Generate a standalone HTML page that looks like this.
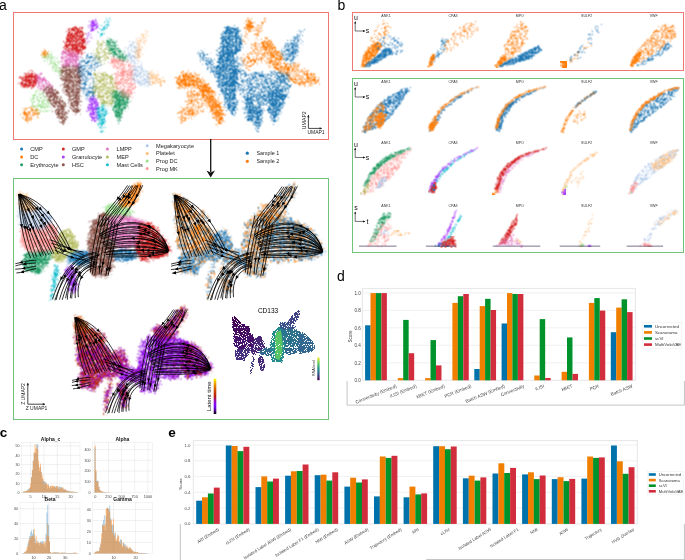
<!DOCTYPE html><html><head><meta charset="utf-8"><style>html,body{margin:0;padding:0;background:#fff;overflow:hidden}svg{display:block}text{opacity:.999}</style></head><body><svg width="685" height="560" viewBox="0 0 685 560" font-family="Liberation Sans, sans-serif"><rect width="685" height="560" fill="#fff"/><text x="-1" y="10" font-size="14" fill="#000">a</text><text x="337.5" y="10" font-size="14" fill="#000">b</text><text x="337" y="281" font-size="14" fill="#000">d</text><text x="-0.2" y="437.2" font-size="13.5" fill="#000" font-weight="bold">c</text><text x="168.2" y="437.2" font-size="13.5" fill="#000" font-weight="bold">e</text><rect x="13.5" y="12.5" width="315" height="127" fill="none" stroke="#f07873" stroke-width="1"/><rect x="13.5" y="178.5" width="315" height="241" fill="none" stroke="#6ec378" stroke-width="1"/><rect x="352.5" y="12.5" width="331" height="58" fill="none" stroke="#f07873" stroke-width="1"/><rect x="352.5" y="78.5" width="331" height="174" fill="none" stroke="#6ec378" stroke-width="1"/><line x1="210.7" y1="139" x2="210.7" y2="172" stroke="#111" stroke-width="1.3"/><path d="M206.5 170.5 L210.7 177.5 L214.9 170.5 L210.7 172.5Z" fill="#111"/><path d="M347.1 381 V405.1 H684.4 V381" fill="none" stroke="#c4c4c4" stroke-width="1"/><path d="M180.3 524 V560 M426.3 559.5 H685" fill="none" stroke="#c4c4c4" stroke-width="1"/><line x1="684.4" y1="524" x2="684.4" y2="560" stroke="#c4c4c4" stroke-width="1"/><rect x="362.4" y="288.4" width="273" height="91.9" fill="#fff" stroke="#e6e6e6" stroke-width="1"/><line x1="362.4" x2="635.4" y1="362.8" y2="362.8" stroke="#ececec" stroke-width="0.8"/><line x1="362.4" x2="635.4" y1="345.3" y2="345.3" stroke="#ececec" stroke-width="0.8"/><line x1="362.4" x2="635.4" y1="327.8" y2="327.8" stroke="#ececec" stroke-width="0.8"/><line x1="362.4" x2="635.4" y1="310.3" y2="310.3" stroke="#ececec" stroke-width="0.8"/><line x1="362.4" x2="635.4" y1="292.8" y2="292.8" stroke="#ececec" stroke-width="0.8"/><rect x="365.1" y="325.3" width="5.47" height="55" fill="#0072ab"/><rect x="370.5" y="293.1" width="5.47" height="87.2" fill="#f07f00"/><rect x="375.9" y="293.1" width="5.47" height="87.2" fill="#00922b"/><rect x="381.4" y="293.1" width="5.47" height="87.2" fill="#d22d3c"/><rect x="397.8" y="378.1" width="5.47" height="2.2" fill="#f07f00"/><rect x="403.2" y="319.9" width="5.47" height="60.4" fill="#00922b"/><rect x="408.7" y="353.2" width="5.47" height="27.1" fill="#d22d3c"/><rect x="425.1" y="378.1" width="5.47" height="2.2" fill="#f07f00"/><rect x="430.5" y="340.1" width="5.47" height="40.2" fill="#00922b"/><rect x="436" y="365.4" width="5.47" height="14.9" fill="#d22d3c"/><rect x="452.4" y="302.9" width="5.47" height="77.4" fill="#f07f00"/><rect x="457.8" y="296.2" width="5.47" height="84.1" fill="#00922b"/><rect x="463.3" y="294" width="5.47" height="86.3" fill="#d22d3c"/><rect x="474.3" y="369" width="5.47" height="11.3" fill="#0072ab"/><rect x="479.7" y="306.1" width="5.47" height="74.2" fill="#f07f00"/><rect x="485.1" y="298.8" width="5.47" height="81.6" fill="#00922b"/><rect x="490.6" y="310" width="5.47" height="70.3" fill="#d22d3c"/><rect x="501.6" y="323.5" width="5.47" height="56.8" fill="#0072ab"/><rect x="507" y="293.1" width="5.47" height="87.2" fill="#f07f00"/><rect x="512.4" y="294" width="5.47" height="86.3" fill="#00922b"/><rect x="517.9" y="294" width="5.47" height="86.3" fill="#d22d3c"/><rect x="534.3" y="375.5" width="5.47" height="4.8" fill="#f07f00"/><rect x="539.7" y="319.1" width="5.47" height="61.2" fill="#00922b"/><rect x="545.2" y="378" width="5.47" height="2.3" fill="#d22d3c"/><rect x="561.6" y="371.8" width="5.47" height="8.5" fill="#f07f00"/><rect x="567" y="337.4" width="5.47" height="42.9" fill="#00922b"/><rect x="572.5" y="373.9" width="5.47" height="6.4" fill="#d22d3c"/><rect x="588.9" y="302.9" width="5.47" height="77.4" fill="#f07f00"/><rect x="594.3" y="298.1" width="5.47" height="82.2" fill="#00922b"/><rect x="599.8" y="310.6" width="5.47" height="69.7" fill="#d22d3c"/><rect x="610.8" y="332.2" width="5.47" height="48.1" fill="#0072ab"/><rect x="616.2" y="307.6" width="5.47" height="72.7" fill="#f07f00"/><rect x="621.6" y="299.3" width="5.47" height="81" fill="#00922b"/><rect x="627.1" y="312.1" width="5.47" height="68.2" fill="#d22d3c"/><text x="360.8" y="382" font-size="4.6" fill="#444" text-anchor="end">0.0</text><text x="360.8" y="364.5" font-size="4.6" fill="#444" text-anchor="end">0.2</text><text x="360.8" y="347" font-size="4.6" fill="#444" text-anchor="end">0.4</text><text x="360.8" y="329.5" font-size="4.6" fill="#444" text-anchor="end">0.6</text><text x="360.8" y="312" font-size="4.6" fill="#444" text-anchor="end">0.8</text><text x="360.8" y="294.5" font-size="4.6" fill="#444" text-anchor="end">1.0</text><text x="351.5" y="336.5" font-size="4.6" fill="#333" text-anchor="middle" transform="rotate(-90 351.5 336.5)">Score</text><text x="375.9" y="395.6" font-size="4.6" fill="#444" text-anchor="middle" transform="rotate(-22 375.9 393.8)">Connectivity (Embed)</text><text x="403.2" y="392.6" font-size="4.6" fill="#444" text-anchor="middle" transform="rotate(-22 403.2 390.9)">iLISI (Embed)</text><text x="430.5" y="393" font-size="4.6" fill="#444" text-anchor="middle" transform="rotate(-22 430.5 391.2)">kBET (Embed)</text><text x="457.8" y="392.7" font-size="4.6" fill="#444" text-anchor="middle" transform="rotate(-22 457.8 391)">PCR (Embed)</text><text x="485.1" y="395.2" font-size="4.6" fill="#444" text-anchor="middle" transform="rotate(-22 485.1 393.5)">Batch ASW (Embed)</text><text x="512.4" y="392" font-size="4.6" fill="#444" text-anchor="middle" transform="rotate(-22 512.4 390.3)">Connectivity</text><text x="539.7" y="389" font-size="4.6" fill="#444" text-anchor="middle" transform="rotate(-22 539.7 387.3)">iLISI</text><text x="567" y="389.4" font-size="4.6" fill="#444" text-anchor="middle" transform="rotate(-22 567 387.7)">kBET</text><text x="594.3" y="389.1" font-size="4.6" fill="#444" text-anchor="middle" transform="rotate(-22 594.3 387.4)">PCR</text><text x="621.6" y="391.7" font-size="4.6" fill="#444" text-anchor="middle" transform="rotate(-22 621.6 390)">Batch ASW</text><rect x="642.7" y="322.3" width="39" height="26.3" fill="#fff" stroke="#eeeeee" stroke-width="0.6"/><rect x="644" y="325" width="8" height="2.6" fill="#0072ab"/><text x="655" y="327.8" font-size="4.3999999999999995" fill="#333">Uncorrected</text><rect x="644" y="331.1" width="8" height="2.6" fill="#f07f00"/><text x="655" y="333.9" font-size="4.3999999999999995" fill="#333">Scanorama</text><rect x="644" y="337.2" width="8" height="2.6" fill="#00922b"/><text x="655" y="340" font-size="4.3999999999999995" fill="#333">scVI</text><rect x="644" y="343.3" width="8" height="2.6" fill="#d22d3c"/><text x="655" y="346.1" font-size="4.3999999999999995" fill="#333">MultiVeloVAE</text><rect x="193.3" y="440.6" width="444" height="83.3" fill="#fff" stroke="#e6e6e6" stroke-width="1"/><line x1="193.3" x2="637.3" y1="508.1" y2="508.1" stroke="#ececec" stroke-width="0.8"/><line x1="193.3" x2="637.3" y1="492.3" y2="492.3" stroke="#ececec" stroke-width="0.8"/><line x1="193.3" x2="637.3" y1="476.6" y2="476.6" stroke="#ececec" stroke-width="0.8"/><line x1="193.3" x2="637.3" y1="460.8" y2="460.8" stroke="#ececec" stroke-width="0.8"/><line x1="193.3" x2="637.3" y1="445" y2="445" stroke="#ececec" stroke-width="0.8"/><rect x="196.2" y="500.7" width="5.90" height="23.2" fill="#0072ab"/><rect x="202" y="497.3" width="5.90" height="26.6" fill="#f07f00"/><rect x="207.9" y="493.5" width="5.90" height="30.4" fill="#00922b"/><rect x="213.8" y="487.6" width="5.90" height="36.3" fill="#d22d3c"/><rect x="225.8" y="445.5" width="5.90" height="78.4" fill="#0072ab"/><rect x="231.7" y="446" width="5.90" height="77.9" fill="#f07f00"/><rect x="237.5" y="451.1" width="5.90" height="72.8" fill="#00922b"/><rect x="243.4" y="446.8" width="5.90" height="77.1" fill="#d22d3c"/><rect x="255.5" y="487.1" width="5.90" height="36.8" fill="#0072ab"/><rect x="261.3" y="476.4" width="5.90" height="47.5" fill="#f07f00"/><rect x="267.2" y="481.5" width="5.90" height="42.4" fill="#00922b"/><rect x="273" y="478.6" width="5.90" height="45.3" fill="#d22d3c"/><rect x="285.1" y="475.7" width="5.90" height="48.2" fill="#0072ab"/><rect x="290.9" y="471.3" width="5.90" height="52.6" fill="#f07f00"/><rect x="296.8" y="471" width="5.90" height="52.9" fill="#00922b"/><rect x="302.6" y="464.5" width="5.90" height="59.4" fill="#d22d3c"/><rect x="314.7" y="475.2" width="5.90" height="48.7" fill="#0072ab"/><rect x="320.6" y="474.7" width="5.90" height="49.2" fill="#f07f00"/><rect x="326.4" y="480.6" width="5.90" height="43.3" fill="#00922b"/><rect x="332.3" y="472.3" width="5.90" height="51.6" fill="#d22d3c"/><rect x="344.4" y="486.6" width="5.90" height="37.3" fill="#0072ab"/><rect x="350.2" y="477.7" width="5.90" height="46.2" fill="#f07f00"/><rect x="356.1" y="482.5" width="5.90" height="41.4" fill="#00922b"/><rect x="361.9" y="479.4" width="5.90" height="44.5" fill="#d22d3c"/><rect x="374" y="496.4" width="5.90" height="27.5" fill="#0072ab"/><rect x="379.8" y="456.5" width="5.90" height="67.4" fill="#f07f00"/><rect x="385.7" y="457.9" width="5.90" height="66" fill="#00922b"/><rect x="391.5" y="455.8" width="5.90" height="68.1" fill="#d22d3c"/><rect x="403.6" y="497.3" width="5.90" height="26.6" fill="#0072ab"/><rect x="409.5" y="486.6" width="5.90" height="37.3" fill="#f07f00"/><rect x="415.3" y="494.4" width="5.90" height="29.5" fill="#00922b"/><rect x="421.2" y="493.4" width="5.90" height="30.5" fill="#d22d3c"/><rect x="433.2" y="446.2" width="5.90" height="77.7" fill="#0072ab"/><rect x="439.1" y="446.2" width="5.90" height="77.7" fill="#f07f00"/><rect x="444.9" y="449.2" width="5.90" height="74.7" fill="#00922b"/><rect x="450.8" y="446.5" width="5.90" height="77.4" fill="#d22d3c"/><rect x="462.9" y="478.3" width="5.90" height="45.6" fill="#0072ab"/><rect x="468.7" y="475.7" width="5.90" height="48.2" fill="#f07f00"/><rect x="474.6" y="480.6" width="5.90" height="43.3" fill="#00922b"/><rect x="480.4" y="477.4" width="5.90" height="46.5" fill="#d22d3c"/><rect x="492.5" y="473.5" width="5.90" height="50.4" fill="#0072ab"/><rect x="498.4" y="463.3" width="5.90" height="60.6" fill="#f07f00"/><rect x="504.2" y="473" width="5.90" height="50.9" fill="#00922b"/><rect x="510.1" y="467.9" width="5.90" height="56" fill="#d22d3c"/><rect x="522.1" y="474.4" width="5.90" height="49.5" fill="#0072ab"/><rect x="528" y="472.3" width="5.90" height="51.6" fill="#f07f00"/><rect x="533.8" y="479.1" width="5.90" height="44.8" fill="#00922b"/><rect x="539.7" y="475.5" width="5.90" height="48.4" fill="#d22d3c"/><rect x="551.8" y="479.1" width="5.90" height="44.8" fill="#0072ab"/><rect x="557.6" y="477.2" width="5.90" height="46.7" fill="#f07f00"/><rect x="563.5" y="481.1" width="5.90" height="42.8" fill="#00922b"/><rect x="569.3" y="478.9" width="5.90" height="45" fill="#d22d3c"/><rect x="581.4" y="478.6" width="5.90" height="45.3" fill="#0072ab"/><rect x="587.2" y="456.5" width="5.90" height="67.4" fill="#f07f00"/><rect x="593.1" y="457.9" width="5.90" height="66" fill="#00922b"/><rect x="598.9" y="457.4" width="5.90" height="66.5" fill="#d22d3c"/><rect x="611" y="445.5" width="5.90" height="78.4" fill="#0072ab"/><rect x="616.9" y="461.3" width="5.90" height="62.6" fill="#f07f00"/><rect x="622.7" y="473.8" width="5.90" height="50.1" fill="#00922b"/><rect x="628.6" y="467.2" width="5.90" height="56.7" fill="#d22d3c"/><text x="190.5" y="525.4" font-size="4.3" fill="#444" text-anchor="end">0.0</text><text x="190.5" y="509.7" font-size="4.3" fill="#444" text-anchor="end">0.2</text><text x="190.5" y="493.9" font-size="4.3" fill="#444" text-anchor="end">0.4</text><text x="190.5" y="478.1" font-size="4.3" fill="#444" text-anchor="end">0.6</text><text x="190.5" y="462.3" font-size="4.3" fill="#444" text-anchor="end">0.8</text><text x="190.5" y="446.5" font-size="4.3" fill="#444" text-anchor="end">1.0</text><text x="181.5" y="484" font-size="4.3" fill="#333" text-anchor="middle" transform="rotate(-90 181.5 484)">Score</text><text x="207.9" y="537.1" font-size="4.3" fill="#444" text-anchor="middle" transform="rotate(-32 207.9 535.5)">ARI (Embed)</text><text x="237.5" y="537.8" font-size="4.3" fill="#444" text-anchor="middle" transform="rotate(-32 237.5 536.1)">cLISI (Embed)</text><text x="267.2" y="545.1" font-size="4.3" fill="#444" text-anchor="middle" transform="rotate(-32 267.2 543.5)">Isolated Label ASW (Embed)</text><text x="296.8" y="543.9" font-size="4.3" fill="#444" text-anchor="middle" transform="rotate(-32 296.8 542.3)">Isolated Label F1 (Embed)</text><text x="326.4" y="537.3" font-size="4.3" fill="#444" text-anchor="middle" transform="rotate(-32 326.4 535.6)">NMI (Embed)</text><text x="356.1" y="537.8" font-size="4.3" fill="#444" text-anchor="middle" transform="rotate(-32 356.1 536.1)">ASW (Embed)</text><text x="385.7" y="540.2" font-size="4.3" fill="#444" text-anchor="middle" transform="rotate(-32 385.7 538.6)">Trajectory (Embed)</text><text x="415.3" y="532.4" font-size="4.3" fill="#444" text-anchor="middle" transform="rotate(-32 415.3 530.8)">ARI</text><text x="444.9" y="533.1" font-size="4.3" fill="#444" text-anchor="middle" transform="rotate(-32 444.9 531.5)">cLISI</text><text x="474.6" y="540.4" font-size="4.3" fill="#444" text-anchor="middle" transform="rotate(-32 474.6 538.8)">Isolated Label ASW</text><text x="504.2" y="539.2" font-size="4.3" fill="#444" text-anchor="middle" transform="rotate(-32 504.2 537.6)">Isolated Label F1</text><text x="533.8" y="532.6" font-size="4.3" fill="#444" text-anchor="middle" transform="rotate(-32 533.8 531)">NMI</text><text x="563.5" y="533.1" font-size="4.3" fill="#444" text-anchor="middle" transform="rotate(-32 563.5 531.5)">ASW</text><text x="593.1" y="535.5" font-size="4.3" fill="#444" text-anchor="middle" transform="rotate(-32 593.1 533.9)">Trajectory</text><text x="622.7" y="537.3" font-size="4.3" fill="#444" text-anchor="middle" transform="rotate(-32 622.7 535.6)">HVG Overlap</text><rect x="647.5" y="471.6" width="36" height="22.6" fill="#fff" stroke="#eeeeee" stroke-width="0.6"/><rect x="648.8" y="473.2" width="7" height="2.6" fill="#0072ab"/><text x="658.8" y="476" font-size="4.1" fill="#333">Uncorrected</text><rect x="648.8" y="478.8" width="7" height="2.6" fill="#f07f00"/><text x="658.8" y="481.6" font-size="4.1" fill="#333">Scanorama</text><rect x="648.8" y="484.4" width="7" height="2.6" fill="#00922b"/><text x="658.8" y="487.2" font-size="4.1" fill="#333">scVI</text><rect x="648.8" y="490" width="7" height="2.6" fill="#d22d3c"/><text x="658.8" y="492.8" font-size="4.1" fill="#333">MultiVeloVAE</text><defs><filter id="st" x="-10%" y="-10%" width="120%" height="120%" color-interpolation-filters="sRGB">
 <feGaussianBlur in="SourceGraphic" stdDeviation="1.2" result="b"/>
 <feComponentTransfer in="b" result="col"><feFuncA type="linear" slope="60"/></feComponentTransfer>
 <feTurbulence type="fractalNoise" baseFrequency="2.3" numOctaves="1" seed="4" result="n0"/>
 <feColorMatrix in="n0" type="matrix" values="0 0 0 0 0  0 0 0 0 0  0 0 0 0 0  3 0 0 0 -1.0" result="n"/>
 <feComposite in="b" in2="n" operator="arithmetic" k1="0" k2="1" k3="-1" k4="0" result="d"/>
 <feComponentTransfer in="d" result="m"><feFuncA type="linear" slope="30"/></feComponentTransfer>
 <feComposite in="col" in2="m" operator="in" result="o"/>
 <feConvolveMatrix in="o" order="3" kernelMatrix="1 2 1 2 4 2 1 2 1"/>
</filter><filter id="st2" x="-10%" y="-10%" width="120%" height="120%" color-interpolation-filters="sRGB">
 <feGaussianBlur in="SourceGraphic" stdDeviation="1.2" result="b"/>
 <feComponentTransfer in="b" result="col"><feFuncA type="linear" slope="60"/></feComponentTransfer>
 <feTurbulence type="fractalNoise" baseFrequency="2.3" numOctaves="1" seed="9" result="n0"/>
 <feColorMatrix in="n0" type="matrix" values="0 0 0 0 0  0 0 0 0 0  0 0 0 0 0  3 0 0 0 -1.0" result="n"/>
 <feComposite in="b" in2="n" operator="arithmetic" k1="0" k2="1" k3="-1" k4="0" result="d"/>
 <feComponentTransfer in="d" result="m"><feFuncA type="linear" slope="30"/></feComponentTransfer>
 <feComposite in="col" in2="m" operator="in" result="o"/>
 <feConvolveMatrix in="o" order="3" kernelMatrix="1 2 1 2 4 2 1 2 1"/>
</filter><filter id="st3" x="-10%" y="-10%" width="120%" height="120%" color-interpolation-filters="sRGB">
 <feGaussianBlur in="SourceGraphic" stdDeviation="0.6" result="b"/>
 <feComponentTransfer in="b" result="col"><feFuncA type="linear" slope="60"/></feComponentTransfer>
 <feTurbulence type="fractalNoise" baseFrequency="0.9" numOctaves="1" seed="7" result="n0"/>
 <feColorMatrix in="n0" type="matrix" values="0 0 0 0 0  0 0 0 0 0  0 0 0 0 0  3 0 0 0 -1.0" result="n"/>
 <feComposite in="b" in2="n" operator="arithmetic" k1="0" k2="1" k3="-1" k4="0" result="d"/>
 <feComponentTransfer in="d" result="m"><feFuncA type="linear" slope="30"/></feComponentTransfer>
 <feComposite in="col" in2="m" operator="in" result="o"/>
 
</filter><filter id="sts" x="-10%" y="-10%" width="120%" height="120%" color-interpolation-filters="sRGB">
 <feGaussianBlur in="SourceGraphic" stdDeviation="0.45" result="b"/>
 <feComponentTransfer in="b" result="col"><feFuncA type="linear" slope="60"/></feComponentTransfer>
 <feTurbulence type="fractalNoise" baseFrequency="2.3" numOctaves="1" seed="4" result="n0"/>
 <feColorMatrix in="n0" type="matrix" values="0 0 0 0 0  0 0 0 0 0  0 0 0 0 0  3 0 0 0 -1.0" result="n"/>
 <feComposite in="b" in2="n" operator="arithmetic" k1="0" k2="1" k3="-1" k4="0" result="d"/>
 <feComponentTransfer in="d" result="m"><feFuncA type="linear" slope="30"/></feComponentTransfer>
 <feComposite in="col" in2="m" operator="in" result="o"/>
 <feConvolveMatrix in="o" order="3" kernelMatrix="1 2 1 2 4 2 1 2 1"/>
</filter><filter id="st2s" x="-10%" y="-10%" width="120%" height="120%" color-interpolation-filters="sRGB">
 <feGaussianBlur in="SourceGraphic" stdDeviation="0.45" result="b"/>
 <feComponentTransfer in="b" result="col"><feFuncA type="linear" slope="60"/></feComponentTransfer>
 <feTurbulence type="fractalNoise" baseFrequency="2.3" numOctaves="1" seed="9" result="n0"/>
 <feColorMatrix in="n0" type="matrix" values="0 0 0 0 0  0 0 0 0 0  0 0 0 0 0  3 0 0 0 -1.0" result="n"/>
 <feComposite in="b" in2="n" operator="arithmetic" k1="0" k2="1" k3="-1" k4="0" result="d"/>
 <feComponentTransfer in="d" result="m"><feFuncA type="linear" slope="30"/></feComponentTransfer>
 <feComposite in="col" in2="m" operator="in" result="o"/>
 <feConvolveMatrix in="o" order="3" kernelMatrix="1 2 1 2 4 2 1 2 1"/>
</filter></defs><g filter="url(#st)"><path d="M38.1 78.4 37.9 80.4 37.4 82.4 36.5 84.4 34.9 86.2 32.8 87.3 30.3 87.6 28.0 87.7 25.6 87.8 23.2 87.3 21.1 86.0 20.1 83.8 19.9 81.6 20.5 79.6 21.3 77.9 22.4 76.3 23.8 74.9 25.7 73.8 27.8 73.0 30.0 72.4 32.5 72.1 34.7 73.0 36.5 74.4 37.4 76.4Z" fill="#d62728" fill-opacity="0.78"/><path d="M35.3 74.3 37.3 74.0 39.7 74.2 41.8 74.6 42.7 76.4 44.4 77.7 46.1 79.0 48.0 80.1 49.6 81.4 50.9 83.0 52.1 84.8 53.2 86.6 54.2 88.6 55.2 90.0 54.0 91.6 52.9 93.7 51.9 95.7 50.2 94.6 48.3 93.3 46.5 92.0 44.6 91.0 42.8 90.3 40.9 89.5 39.0 88.7 37.6 87.2 36.3 85.8 36.6 83.9 36.5 81.9 36.2 79.9 36.0 77.9 35.7 76.0Z" fill="#e377c2" fill-opacity="0.62"/><path d="M30.4 94.2 31.9 92.8 33.7 91.3 35.6 90.1 38.0 89.1 40.4 90.4 42.0 91.8 43.7 93.2 45.3 94.6 47.2 95.8 48.0 98.2 48.7 100.4 49.4 102.7 50.3 105.0 49.7 107.2 49.2 109.2 48.1 111.1 47.0 113.1 44.5 113.2 42.3 114.3 39.9 115.4 37.9 114.2 36.6 112.5 35.1 110.9 33.4 109.7 31.2 108.5 30.6 106.2 30.4 104.1 30.6 102.1 30.7 100.0 31.0 97.9 31.1 95.9Z" fill="#98df8a" fill-opacity="0.39"/><path d="M21.8 111.6 24.1 109.7 26.1 108.6 28.0 107.2 30.0 106.1 32.3 106.9 34.5 108.0 36.5 108.6 37.9 110.8 40.1 113.0 38.7 114.9 37.0 116.2 35.0 117.1 33.0 118.1 31.1 119.8 29.1 121.4 27.0 122.8 25.9 120.7 24.0 119.0 23.0 116.8 22.0 114.5Z" fill="#ff7f0e" fill-opacity="0.47"/><path d="M42.2 89.8 44.2 88.1 45.9 87.0 47.9 86.3 50.0 85.6 51.9 87.2 53.8 88.3 55.8 89.3 57.9 90.1 58.8 92.3 59.3 94.6 59.9 97.0 61.0 99.1 62.8 100.5 64.2 102.2 65.3 104.0 65.4 106.2 65.7 108.3 66.4 110.3 67.7 112.0 67.9 114.0 67.6 116.0 67.4 118.0 67.1 120.0 67.0 122.0 65.1 123.6 63.0 125.3 61.3 123.6 60.1 121.8 59.1 119.9 58.0 118.0 57.0 116.0 55.8 114.1 54.7 112.1 54.0 110.0 53.0 108.0 52.4 105.8 51.2 103.9 50.3 102.0 48.7 100.4 47.2 98.8 45.8 97.1 44.9 94.7 43.8 92.4Z" fill="#8c564b" fill-opacity="0.70"/><path d="M64.1 52.0 64.3 50.0 64.3 48.0 64.7 46.0 64.9 44.0 65.1 42.0 65.1 40.0 65.1 38.0 65.1 36.0 66.2 34.0 67.2 31.8 68.1 29.6 69.5 27.4 71.9 27.0 74.0 26.8 76.0 26.5 78.1 27.4 80.5 28.4 82.9 29.1 83.5 31.1 84.0 33.2 84.3 35.4 85.2 37.2 85.5 39.2 85.9 41.4 86.1 43.6 86.1 45.8 86.1 48.0 84.8 49.6 83.7 51.3 82.3 52.8 81.4 54.1 79.9 53.9 77.9 54.7 76.0 56.1 74.1 56.8 72.1 56.5 70.1 55.6 68.4 54.1 66.3 52.9Z" fill="#d62728" fill-opacity="0.78"/><path d="M62.0 50.0 64.0 49.9 66.0 50.0 68.1 50.2 70.0 50.6 72.0 50.7 74.0 51.0 76.0 51.7 78.0 52.2 79.5 52.4 79.9 54.0 79.7 56.0 79.5 58.0 79.0 60.0 79.3 62.0 79.5 64.0 79.3 66.0 79.3 67.3 77.9 67.1 75.8 67.7 73.7 68.0 71.6 67.6 69.4 67.0 67.3 66.9 65.2 67.0 63.1 67.3 61.3 67.7 61.3 66.0 61.3 64.0 61.7 62.0 62.0 60.0 62.2 58.0 62.0 56.0 62.0 54.0 62.0 52.0Z" fill="#e377c2" fill-opacity="0.70"/><path d="M41.2 55.3 42.6 57.6 44.5 58.8 45.8 60.4 47.2 62.0 48.2 64.0 49.9 65.3 51.3 67.1 52.8 68.8 53.7 70.8 55.1 72.6 56.7 74.2 58.6 75.6 59.0 76.9 59.9 76.5 61.9 75.9 63.7 75.0 64.8 73.7 63.4 72.3 61.9 70.5 61.2 68.3 60.1 66.2 59.2 64.1 57.8 62.3 56.9 60.1 55.6 58.3 54.6 56.4 53.0 54.9 51.1 53.6 49.2 52.4 48.1 51.3 46.4 52.7 43.8 53.7Z" fill="#98df8a" fill-opacity="0.43"/><path d="M47.9 53.5 47.6 54.1 47.6 54.7 47.7 55.7 47.1 56.2 46.2 56.3 45.5 56.1 44.8 56.3 43.9 56.2 43.2 55.8 42.5 55.2 41.6 54.5 41.1 53.5 41.4 52.4 42.4 51.7 43.5 51.5 44.2 51.3 45.0 51.5 45.5 51.6 46.0 51.6 46.7 51.4 47.6 51.4 48.2 51.9 48.4 52.7Z" fill="#ff7f0e" fill-opacity="0.62"/><path d="M60.8 65.8 63.1 66.1 65.2 66.1 67.3 65.8 69.4 65.5 71.6 65.7 73.7 66.1 75.8 66.4 77.9 66.1 80.2 65.7 81.1 67.9 81.5 69.9 81.6 71.9 81.5 73.9 81.6 76.0 81.9 78.0 82.0 80.0 81.3 82.0 80.6 83.9 80.4 85.9 80.8 88.0 80.9 90.0 80.7 92.0 80.4 94.0 80.6 96.0 80.6 98.0 80.5 100.0 80.2 102.0 80.3 104.0 80.1 106.1 80.0 108.1 79.7 110.2 79.2 112.6 78.2 114.8 77.0 116.9 76.1 114.9 74.6 113.6 73.5 111.9 72.2 110.1 71.3 108.1 70.5 106.1 70.0 104.0 69.4 101.8 68.8 99.6 67.9 97.5 66.8 95.6 65.3 93.8 63.9 92.0 63.0 90.1 62.6 88.1 62.5 86.0 62.5 83.9 62.1 81.8 61.2 80.0 60.9 78.0 60.7 76.0 60.9 74.0 60.8 72.0 60.7 70.0 60.6 68.0Z" fill="#8c564b" fill-opacity="0.70"/><path d="M78.6 59.6 81.2 58.9 83.6 58.5 86.2 57.7 87.0 59.9 87.7 61.8 88.2 63.8 88.7 65.8 89.0 67.8 89.3 69.6 90.3 71.3 91.7 73.1 92.6 75.2 93.4 77.3 93.9 79.7 94.3 81.8 94.5 83.9 95.2 85.9 95.5 88.0 96.3 90.0 95.5 92.0 95.4 94.2 94.9 96.2 94.3 98.2 93.0 100.0 90.7 99.5 88.3 99.4 86.3 99.5 85.8 97.7 85.2 95.7 84.2 93.7 83.0 91.8 81.8 90.0 80.6 88.1 79.9 86.1 80.0 84.1 80.4 82.0 80.9 79.9 80.4 77.9 79.5 76.0 78.3 74.1 77.9 72.1 77.8 70.0 78.4 68.0 78.7 66.0 78.9 64.0 78.6 62.0Z" fill="#1f77b4" fill-opacity="0.39"/><path d="M84.2 56.2 86.1 55.9 88.1 55.3 90.0 54.5 92.0 54.3 93.8 55.4 95.6 56.5 97.8 56.7 100.2 56.9 100.3 59.1 100.2 61.1 99.8 63.1 99.7 65.3 98.0 67.0 96.4 68.4 94.8 69.8 93.0 71.0 90.6 70.2 88.4 69.5 87.7 67.8 86.9 65.9 86.2 63.8 85.4 61.9 85.0 59.9 84.6 58.0Z" fill="#1f77b4" fill-opacity="0.35"/><path d="M97.6 26.0 97.5 27.5 96.9 28.8 96.3 29.9 95.2 30.3 94.6 30.6 94.0 30.9 93.1 31.6 91.8 31.4 91.0 30.4 90.3 29.1 89.9 27.6 89.6 26.0 90.0 24.4 90.4 23.0 91.0 21.7 91.9 20.7 92.8 19.8 94.0 19.6 95.2 19.7 96.0 20.8 96.9 21.7 97.2 23.1 97.9 24.4Z" fill="#aa40fc" fill-opacity="0.78"/><path d="M91.2 28.7 89.6 30.8 88.7 32.9 87.7 34.9 86.9 37.0 85.7 38.9 84.6 41.5 88.8 43.8 90.4 41.2 90.9 39.0 91.6 36.8 92.4 34.7 93.6 32.8 95.0 30.8Z" fill="#aa40fc" fill-opacity="0.23"/><path d="M88.2 97.2 90.4 97.2 92.8 97.0 94.9 96.2 96.4 97.8 97.6 99.6 98.3 101.6 98.9 103.9 98.3 106.0 98.0 108.0 97.3 110.0 97.1 112.0 97.2 114.0 98.1 116.1 98.3 118.7 96.1 121.1 93.0 122.9 91.4 120.2 90.8 117.7 89.8 115.7 89.8 113.8 89.0 111.8 88.4 109.7 87.9 107.6 88.0 105.5 88.3 103.3 88.4 101.2 88.3 99.1Z" fill="#aa40fc" fill-opacity="0.70"/><path d="M107.8 17.2 106.8 19.4 106.1 21.6 105.2 23.6 103.8 25.4 102.0 27.1 100.9 28.8 100.3 30.7 99.9 32.8 99.5 34.8 99.1 36.8 98.9 38.0 99.8 38.1 100.1 37.3 101.8 35.8 103.2 34.3 104.0 32.5 104.4 30.4 104.8 28.4 105.9 26.4 107.5 24.7 109.0 23.0 109.9 20.9 110.6 18.4Z" fill="#17becf" fill-opacity="0.55"/><path d="M96.6 108.4 98.2 107.5 100.1 106.2 101.9 104.8 104.1 103.7 105.0 105.9 105.7 107.8 106.4 109.8 106.9 112.0 106.3 114.3 105.8 116.4 105.3 118.5 105.2 120.8 104.9 122.9 104.8 125.2 103.6 127.1 102.7 129.1 101.8 131.0 101.0 133.2 100.2 130.8 100.0 128.6 99.3 126.4 98.9 124.1 97.9 122.0 98.0 120.0 97.9 117.9 97.8 115.9 97.1 114.0 96.7 112.0 96.6 109.9Z" fill="#17becf" fill-opacity="0.70"/><path d="M94.6 44.7 97.3 43.1 99.9 41.5 102.1 41.6 104.1 41.9 106.3 42.6 107.5 44.5 108.5 46.2 109.6 47.9 110.8 49.8 111.4 52.0 111.4 54.0 111.0 56.0 110.2 58.1 108.1 59.5 106.3 61.1 104.3 62.8 102.0 62.6 100.0 62.2 98.0 62.0 96.1 61.9 95.4 59.6 94.7 57.3 94.0 55.0 94.4 53.0 94.6 51.0 94.6 49.0 94.4 47.0Z" fill="#b5bd61" fill-opacity="0.39"/><path d="M94.0 72.0 96.0 71.7 98.0 71.8 100.1 72.0 102.1 71.8 104.0 71.1 105.9 71.9 107.7 72.7 109.5 73.8 111.3 74.7 113.1 75.9 113.6 78.0 114.4 80.0 115.6 81.8 116.8 83.6 117.3 85.7 117.4 87.9 117.3 90.0 117.5 92.0 117.6 94.0 117.1 96.0 116.9 98.1 116.9 99.6 116.0 101.0 114.6 102.6 113.3 104.3 111.9 105.6 110.0 105.7 107.9 105.9 105.8 106.1 103.9 105.3 102.0 104.4 100.5 103.3 99.9 101.6 98.8 99.6 97.1 98.0 95.5 96.2 94.0 94.5 92.9 92.3 93.0 90.0 92.8 88.0 92.9 86.0 93.3 84.0 94.0 82.0 94.5 80.0 94.4 78.0 94.3 76.0 94.1 74.0Z" fill="#b5bd61" fill-opacity="0.51"/><path d="M105.7 41.4 108.3 39.6 110.9 38.3 113.0 39.9 114.9 41.1 116.0 42.9 117.4 44.6 118.4 46.5 119.6 48.3 120.8 50.3 122.7 51.7 124.5 53.3 126.5 54.7 127.2 57.4 128.0 60.0 125.9 60.5 123.9 61.2 122.0 61.6 120.5 60.0 118.7 58.6 116.7 57.7 114.9 57.0 113.1 55.4 111.4 53.4 109.5 51.8 109.0 49.9 108.1 48.0 107.1 46.1 106.3 44.2Z" fill="#279e68" fill-opacity="0.66"/><path d="M111.2 93.1 113.1 92.1 115.3 91.3 117.5 90.7 119.7 90.4 122.0 89.9 123.6 91.2 125.2 92.4 127.0 93.3 128.6 94.6 130.2 95.9 129.3 98.0 128.9 100.0 128.3 102.0 128.0 104.0 127.1 105.9 126.5 107.8 125.1 109.3 124.1 111.1 123.0 112.8 122.0 114.6 121.3 116.5 120.7 118.5 120.1 120.5 119.2 122.3 118.0 124.1 117.3 122.0 116.8 120.0 116.1 118.0 115.5 116.0 114.2 114.2 112.9 112.3 111.9 110.2 112.0 108.0 112.5 105.7 113.6 103.4 113.8 101.2 113.6 99.1 112.8 97.0 112.1 95.0Z" fill="#279e68" fill-opacity="0.78"/><path d="M109.4 57.4 112.0 57.2 114.0 57.3 116.0 58.1 118.0 58.3 119.9 58.5 121.9 59.3 123.8 60.3 125.9 61.3 127.8 62.3 129.9 63.5 132.0 64.7 134.3 65.8 134.1 68.1 134.1 70.1 133.7 72.7 131.1 74.2 128.7 74.7 125.9 75.1 123.9 73.0 121.9 71.8 119.9 70.5 117.7 69.7 115.7 68.4 113.8 67.0 112.0 65.4 110.2 63.9 110.1 62.0 109.7 60.0Z" fill="#ff9896" fill-opacity="0.55"/><path d="M114.1 70.1 115.9 70.9 117.9 71.3 120.0 71.4 122.2 71.3 124.2 71.6 126.1 72.5 128.0 73.4 130.0 73.6 132.0 73.5 134.4 73.6 134.3 76.2 133.7 78.5 133.6 80.7 134.5 82.8 135.7 85.0 135.5 87.2 134.4 89.0 133.3 90.9 132.8 92.9 132.9 95.0 131.4 96.7 129.4 98.0 127.8 98.9 126.5 98.0 124.3 97.3 122.2 96.7 120.4 95.6 120.1 93.8 119.3 91.8 118.2 89.9 116.9 88.1 115.6 86.4 114.5 84.4 114.5 82.2 114.6 80.1 114.6 78.1 114.0 76.1 113.8 74.1 113.8 72.1Z" fill="#ff9896" fill-opacity="0.51"/><path d="M126.5 46.2 128.1 44.8 129.9 43.2 131.2 41.6 133.0 41.5 135.0 41.6 137.1 41.8 138.0 44.0 138.9 46.0 139.9 48.0 139.8 50.0 139.5 52.0 139.3 54.0 139.0 56.0 138.5 58.5 137.6 60.9 136.6 63.8 134.0 63.3 132.0 62.8 130.4 62.3 129.5 61.0 128.2 59.4 126.8 57.9 125.6 56.1 125.6 54.0 126.0 52.0 126.3 50.0 126.4 48.0Z" fill="#aec7e8" fill-opacity="0.43"/><path d="M131.1 66.1 133.2 65.7 135.5 65.2 137.6 64.1 140.3 63.5 142.7 65.1 144.2 67.2 146.1 68.7 147.9 70.1 149.3 71.8 150.1 73.9 150.9 76.0 151.4 78.0 150.7 80.2 150.4 82.6 150.3 85.3 148.0 85.7 146.0 85.6 144.0 85.4 142.0 85.4 139.9 85.3 138.2 83.8 136.4 82.6 134.7 81.4 132.5 80.3 131.9 78.1 131.6 76.1 132.1 74.0 132.3 71.9 132.2 69.9 131.6 68.0Z" fill="#aec7e8" fill-opacity="0.47"/><path d="M136.1 41.7 137.5 39.5 138.8 37.6 140.4 35.8 141.9 33.9 143.6 32.5 145.3 31.2 146.6 29.8 147.6 28.6 147.4 30.0 147.0 31.9 146.4 33.9 146.1 35.8 145.9 37.8 145.7 40.0 145.3 42.0 144.3 43.9 143.5 45.8 142.5 48.0 141.8 50.3 141.2 52.6 141.1 55.0 140.1 57.9 138.0 61.1 135.9 57.9 134.8 55.2 135.1 52.8 135.6 50.6 136.4 48.5 136.6 46.3 136.6 44.1Z" fill="#ffbb78" fill-opacity="0.47"/><path d="M148.6 71.3 151.6 71.6 154.1 71.9 156.5 73.0 158.2 74.5 159.7 75.9 161.1 77.4 162.3 79.2 163.5 81.1 164.7 80.8 163.9 81.5 162.3 83.2 160.4 84.4 158.2 84.9 156.0 84.6 154.0 84.3 152.0 84.4 149.8 84.2 149.5 82.0 149.3 80.0 149.1 78.0 148.9 76.0 148.7 74.0Z" fill="#ffbb78" fill-opacity="0.55"/></g><g filter="url(#st)"><path d="M194.1 78.4 193.9 80.4 193.4 82.4 192.5 84.4 190.9 86.2 188.8 87.3 186.3 87.6 184.0 87.7 181.6 87.8 179.2 87.3 177.1 86.0 176.1 83.8 175.9 81.6 176.5 79.6 177.3 77.9 178.4 76.3 179.8 74.9 181.7 73.8 183.8 73.0 186.0 72.4 188.5 72.1 190.7 73.0 192.5 74.4 193.4 76.4Z" fill="#ff7f0e" fill-opacity="0.78"/><path d="M191.3 74.3 193.3 74.0 195.7 74.2 197.8 74.6 198.7 76.4 200.4 77.7 202.1 79.0 204.0 80.1 205.6 81.4 206.9 83.0 208.1 84.8 209.2 86.6 210.2 88.6 211.2 90.0 210.0 91.6 208.9 93.7 207.9 95.7 206.2 94.6 204.3 93.3 202.5 92.0 200.6 91.0 198.8 90.3 196.9 89.5 195.0 88.7 193.6 87.2 192.3 85.8 192.6 83.9 192.5 81.9 192.2 79.9 192.0 77.9 191.7 76.0Z" fill="#ff7f0e" fill-opacity="0.62"/><path d="M186.4 94.2 187.9 92.8 189.7 91.3 191.6 90.1 194.0 89.1 196.4 90.4 198.0 91.8 199.7 93.2 201.3 94.6 203.2 95.8 204.0 98.2 204.7 100.4 205.4 102.7 206.3 105.0 205.7 107.2 205.2 109.2 204.1 111.1 203.0 113.1 200.5 113.2 198.3 114.3 195.9 115.4 193.9 114.2 192.6 112.5 191.1 110.9 189.4 109.7 187.2 108.5 186.6 106.2 186.4 104.1 186.6 102.1 186.7 100.0 187.0 97.9 187.1 95.9Z" fill="#ff7f0e" fill-opacity="0.39"/><path d="M177.8 111.6 180.1 109.7 182.1 108.6 184.0 107.2 186.0 106.1 188.3 106.9 190.5 108.0 192.5 108.6 193.9 110.8 196.1 113.0 194.7 114.9 193.0 116.2 191.0 117.1 189.0 118.1 187.1 119.8 185.1 121.4 183.0 122.8 181.9 120.7 180.0 119.0 179.0 116.8 178.0 114.5Z" fill="#ff7f0e" fill-opacity="0.47"/><path d="M198.2 89.8 200.2 88.1 201.9 87.0 203.9 86.3 206.0 85.6 207.9 87.2 209.8 88.3 211.8 89.3 213.9 90.1 214.8 92.3 215.3 94.6 215.9 97.0 217.0 99.1 218.8 100.5 220.2 102.2 221.3 104.0 221.4 106.2 221.7 108.3 222.4 110.3 223.7 112.0 223.9 114.0 223.6 116.0 223.4 118.0 223.1 120.0 223.0 122.0 221.1 123.6 219.0 125.3 217.3 123.6 216.1 121.8 215.1 119.9 214.0 118.0 213.0 116.0 211.8 114.1 210.7 112.1 210.0 110.0 209.0 108.0 208.4 105.8 207.2 103.9 206.3 102.0 204.7 100.4 203.2 98.8 201.8 97.1 200.9 94.7 199.8 92.4Z" fill="#ff7f0e" fill-opacity="0.70"/><path d="M220.1 52.0 220.3 50.0 220.3 48.0 220.7 46.0 220.9 44.0 221.1 42.0 221.1 40.0 221.1 38.0 221.1 36.0 222.2 34.0 223.2 31.8 224.1 29.6 225.5 27.4 227.9 27.0 230.0 26.8 232.0 26.5 234.1 27.4 236.5 28.4 238.9 29.1 239.5 31.1 240.0 33.2 240.3 35.4 241.2 37.2 241.5 39.2 241.9 41.4 242.1 43.6 242.1 45.8 242.1 48.0 240.8 49.6 239.7 51.3 238.3 52.8 237.4 54.1 235.9 53.9 233.9 54.7 232.0 56.1 230.1 56.8 228.1 56.5 226.1 55.6 224.4 54.1 222.3 52.9Z" fill="#1f77b4" fill-opacity="0.78"/><path d="M218.0 50.0 220.0 49.9 222.0 50.0 224.1 50.2 226.0 50.6 228.0 50.7 230.0 51.0 232.0 51.7 234.0 52.2 235.5 52.4 235.9 54.0 235.7 56.0 235.5 58.0 235.0 60.0 235.3 62.0 235.5 64.0 235.3 66.0 235.3 67.3 233.9 67.1 231.8 67.7 229.7 68.0 227.6 67.6 225.4 67.0 223.3 66.9 221.2 67.0 219.1 67.3 217.3 67.7 217.3 66.0 217.3 64.0 217.7 62.0 218.0 60.0 218.2 58.0 218.0 56.0 218.0 54.0 218.0 52.0Z" fill="#1f77b4" fill-opacity="0.70"/><path d="M197.2 55.3 198.6 57.6 200.5 58.8 201.8 60.4 203.2 62.0 204.2 64.0 205.9 65.3 207.3 67.1 208.8 68.8 209.7 70.8 211.1 72.6 212.7 74.2 214.6 75.6 215.0 76.9 215.9 76.5 217.9 75.9 219.7 75.0 220.8 73.7 219.4 72.3 217.9 70.5 217.2 68.3 216.1 66.2 215.2 64.1 213.8 62.3 212.9 60.1 211.6 58.3 210.6 56.4 209.0 54.9 207.1 53.6 205.2 52.4 204.1 51.3 202.4 52.7 199.8 53.7Z" fill="#1f77b4" fill-opacity="0.43"/><path d="M203.9 53.5 203.6 54.1 203.6 54.7 203.7 55.7 203.1 56.2 202.2 56.3 201.5 56.1 200.8 56.3 199.9 56.2 199.2 55.8 198.5 55.2 197.6 54.5 197.1 53.5 197.4 52.4 198.4 51.7 199.5 51.5 200.2 51.3 201.0 51.5 201.5 51.6 202.0 51.6 202.7 51.4 203.6 51.4 204.2 51.9 204.4 52.7Z" fill="#1f77b4" fill-opacity="0.62"/><path d="M216.8 65.8 219.1 66.1 221.2 66.1 223.3 65.8 225.4 65.5 227.6 65.7 229.7 66.1 231.8 66.4 233.9 66.1 236.2 65.7 237.1 67.9 237.5 69.9 237.6 71.9 237.5 73.9 237.6 76.0 237.9 78.0 238.0 80.0 237.3 82.0 236.6 83.9 236.4 85.9 236.8 88.0 236.9 90.0 236.7 92.0 236.4 94.0 236.6 96.0 236.6 98.0 236.5 100.0 236.2 102.0 236.3 104.0 236.1 106.1 236.0 108.1 235.7 110.2 235.2 112.6 234.2 114.8 233.0 116.9 232.1 114.9 230.6 113.6 229.5 111.9 228.2 110.1 227.3 108.1 226.5 106.1 226.0 104.0 225.4 101.8 224.8 99.6 223.9 97.5 222.8 95.6 221.3 93.8 219.9 92.0 219.0 90.1 218.6 88.1 218.5 86.0 218.5 83.9 218.1 81.8 217.2 80.0 216.9 78.0 216.7 76.0 216.9 74.0 216.8 72.0 216.7 70.0 216.6 68.0Z" fill="#1f77b4" fill-opacity="0.70"/><path d="M234.6 59.6 237.2 58.9 239.6 58.5 242.2 57.7 243.0 59.9 243.7 61.8 244.2 63.8 244.7 65.8 245.0 67.8 245.3 69.6 246.3 71.3 247.7 73.1 248.6 75.2 249.4 77.3 249.9 79.7 250.3 81.8 250.5 83.9 251.2 85.9 251.5 88.0 252.3 90.0 251.5 92.0 251.4 94.2 250.9 96.2 250.3 98.2 249.0 100.0 246.7 99.5 244.3 99.4 242.3 99.5 241.8 97.7 241.2 95.7 240.2 93.7 239.0 91.8 237.8 90.0 236.6 88.1 235.9 86.1 236.0 84.1 236.4 82.0 236.9 79.9 236.4 77.9 235.5 76.0 234.3 74.1 233.9 72.1 233.8 70.0 234.4 68.0 234.7 66.0 234.9 64.0 234.6 62.0Z" fill="#1f77b4" fill-opacity="0.39"/><path d="M240.2 56.2 242.1 55.9 244.1 55.3 246.0 54.5 248.0 54.3 249.8 55.4 251.6 56.5 253.8 56.7 256.2 56.9 256.3 59.1 256.2 61.1 255.8 63.1 255.7 65.3 254.0 67.0 252.4 68.4 250.8 69.8 249.0 71.0 246.6 70.2 244.4 69.5 243.7 67.8 242.9 65.9 242.2 63.8 241.4 61.9 241.0 59.9 240.6 58.0Z" fill="#ff7f0e" fill-opacity="0.35"/><path d="M253.6 26.0 253.5 27.5 252.9 28.8 252.3 29.9 251.2 30.3 250.6 30.6 250.0 30.9 249.1 31.6 247.8 31.4 247.0 30.4 246.3 29.1 245.9 27.6 245.6 26.0 246.0 24.4 246.4 23.0 247.0 21.7 247.9 20.7 248.8 19.8 250.0 19.6 251.2 19.7 252.0 20.8 252.9 21.7 253.2 23.1 253.9 24.4Z" fill="#ff7f0e" fill-opacity="0.78"/><path d="M247.2 28.7 245.6 30.8 244.7 32.9 243.7 34.9 242.9 37.0 241.7 38.9 240.6 41.5 244.8 43.8 246.4 41.2 246.9 39.0 247.6 36.8 248.4 34.7 249.6 32.8 251.0 30.8Z" fill="#ff7f0e" fill-opacity="0.23"/><path d="M244.2 97.2 246.4 97.2 248.8 97.0 250.9 96.2 252.4 97.8 253.6 99.6 254.3 101.6 254.9 103.9 254.3 106.0 254.0 108.0 253.3 110.0 253.1 112.0 253.2 114.0 254.1 116.1 254.3 118.7 252.1 121.1 249.0 122.9 247.4 120.2 246.8 117.7 245.8 115.7 245.8 113.8 245.0 111.8 244.4 109.7 243.9 107.6 244.0 105.5 244.3 103.3 244.4 101.2 244.3 99.1Z" fill="#1f77b4" fill-opacity="0.70"/><path d="M263.8 17.2 262.8 19.4 262.1 21.6 261.2 23.6 259.8 25.4 258.0 27.1 256.9 28.8 256.3 30.7 255.9 32.8 255.5 34.8 255.1 36.8 254.9 38.0 255.8 38.1 256.1 37.3 257.8 35.8 259.2 34.3 260.0 32.5 260.4 30.4 260.8 28.4 261.9 26.4 263.5 24.7 265.0 23.0 265.9 20.9 266.6 18.4Z" fill="#ff7f0e" fill-opacity="0.55"/><path d="M252.6 108.4 254.2 107.5 256.1 106.2 257.9 104.8 260.1 103.7 261.0 105.9 261.7 107.8 262.4 109.8 262.9 112.0 262.3 114.3 261.8 116.4 261.3 118.5 261.2 120.8 260.9 122.9 260.8 125.2 259.6 127.1 258.7 129.1 257.8 131.0 257.0 133.2 256.2 130.8 256.0 128.6 255.3 126.4 254.9 124.1 253.9 122.0 254.0 120.0 253.9 117.9 253.8 115.9 253.1 114.0 252.7 112.0 252.6 109.9Z" fill="#1f77b4" fill-opacity="0.70"/><path d="M250.6 44.7 253.3 43.1 255.9 41.5 258.1 41.6 260.1 41.9 262.3 42.6 263.5 44.5 264.5 46.2 265.6 47.9 266.8 49.8 267.4 52.0 267.4 54.0 267.0 56.0 266.2 58.1 264.1 59.5 262.3 61.1 260.3 62.8 258.0 62.6 256.0 62.2 254.0 62.0 252.1 61.9 251.4 59.6 250.7 57.3 250.0 55.0 250.4 53.0 250.6 51.0 250.6 49.0 250.4 47.0Z" fill="#ff7f0e" fill-opacity="0.39"/><path d="M250.0 72.0 252.0 71.7 254.0 71.8 256.1 72.0 258.1 71.8 260.0 71.1 261.9 71.9 263.7 72.7 265.5 73.8 267.3 74.7 269.1 75.9 269.6 78.0 270.4 80.0 271.6 81.8 272.8 83.6 273.3 85.7 273.4 87.9 273.3 90.0 273.5 92.0 273.6 94.0 273.1 96.0 272.9 98.1 272.9 99.6 272.0 101.0 270.6 102.6 269.3 104.3 267.9 105.6 266.0 105.7 263.9 105.9 261.8 106.1 259.9 105.3 258.0 104.4 256.5 103.3 255.9 101.6 254.8 99.6 253.1 98.0 251.5 96.2 250.0 94.5 248.9 92.3 249.0 90.0 248.8 88.0 248.9 86.0 249.3 84.0 250.0 82.0 250.5 80.0 250.4 78.0 250.3 76.0 250.1 74.0Z" fill="#1f77b4" fill-opacity="0.51"/><path d="M261.7 41.4 264.3 39.6 266.9 38.3 269.0 39.9 270.9 41.1 272.0 42.9 273.4 44.6 274.4 46.5 275.6 48.3 276.8 50.3 278.7 51.7 280.5 53.3 282.5 54.7 283.2 57.4 284.0 60.0 281.9 60.5 279.9 61.2 278.0 61.6 276.5 60.0 274.7 58.6 272.7 57.7 270.9 57.0 269.1 55.4 267.4 53.4 265.5 51.8 265.0 49.9 264.1 48.0 263.1 46.1 262.3 44.2Z" fill="#ff7f0e" fill-opacity="0.66"/><path d="M267.2 93.1 269.1 92.1 271.3 91.3 273.5 90.7 275.7 90.4 278.0 89.9 279.6 91.2 281.2 92.4 283.0 93.3 284.6 94.6 286.2 95.9 285.3 98.0 284.9 100.0 284.3 102.0 284.0 104.0 283.1 105.9 282.5 107.8 281.1 109.3 280.1 111.1 279.0 112.8 278.0 114.6 277.3 116.5 276.7 118.5 276.1 120.5 275.2 122.3 274.0 124.1 273.3 122.0 272.8 120.0 272.1 118.0 271.5 116.0 270.2 114.2 268.9 112.3 267.9 110.2 268.0 108.0 268.5 105.7 269.6 103.4 269.8 101.2 269.6 99.1 268.8 97.0 268.1 95.0Z" fill="#1f77b4" fill-opacity="0.78"/><path d="M265.4 57.4 268.0 57.2 270.0 57.3 272.0 58.1 274.0 58.3 275.9 58.5 277.9 59.3 279.8 60.3 281.9 61.3 283.8 62.3 285.9 63.5 288.0 64.7 290.3 65.8 290.1 68.1 290.1 70.1 289.7 72.7 287.1 74.2 284.7 74.7 281.9 75.1 279.9 73.0 277.9 71.8 275.9 70.5 273.7 69.7 271.7 68.4 269.8 67.0 268.0 65.4 266.2 63.9 266.1 62.0 265.7 60.0Z" fill="#ff7f0e" fill-opacity="0.55"/><path d="M270.1 70.1 271.9 70.9 273.9 71.3 276.0 71.4 278.2 71.3 280.2 71.6 282.1 72.5 284.0 73.4 286.0 73.6 288.0 73.5 290.4 73.6 290.3 76.2 289.7 78.5 289.6 80.7 290.5 82.8 291.7 85.0 291.5 87.2 290.4 89.0 289.3 90.9 288.8 92.9 288.9 95.0 287.4 96.7 285.4 98.0 283.8 98.9 282.5 98.0 280.3 97.3 278.2 96.7 276.4 95.6 276.1 93.8 275.3 91.8 274.2 89.9 272.9 88.1 271.6 86.4 270.5 84.4 270.5 82.2 270.6 80.1 270.6 78.1 270.0 76.1 269.8 74.1 269.8 72.1Z" fill="#1f77b4" fill-opacity="0.51"/><path d="M282.5 46.2 284.1 44.8 285.9 43.2 287.2 41.6 289.0 41.5 291.0 41.6 293.1 41.8 294.0 44.0 294.9 46.0 295.9 48.0 295.8 50.0 295.5 52.0 295.3 54.0 295.0 56.0 294.5 58.5 293.6 60.9 292.6 63.8 290.0 63.3 288.0 62.8 286.4 62.3 285.5 61.0 284.2 59.4 282.8 57.9 281.6 56.1 281.6 54.0 282.0 52.0 282.3 50.0 282.4 48.0Z" fill="#1f77b4" fill-opacity="0.43"/><path d="M287.1 66.1 289.2 65.7 291.5 65.2 293.6 64.1 296.3 63.5 298.7 65.1 300.2 67.2 302.1 68.7 303.9 70.1 305.3 71.8 306.1 73.9 306.9 76.0 307.4 78.0 306.7 80.2 306.4 82.6 306.3 85.3 304.0 85.7 302.0 85.6 300.0 85.4 298.0 85.4 295.9 85.3 294.2 83.8 292.4 82.6 290.7 81.4 288.5 80.3 287.9 78.1 287.6 76.1 288.1 74.0 288.3 71.9 288.2 69.9 287.6 68.0Z" fill="#ff7f0e" fill-opacity="0.47"/><path d="M292.1 41.7 293.5 39.5 294.8 37.6 296.4 35.8 297.9 33.9 299.6 32.5 301.3 31.2 302.6 29.8 303.6 28.6 303.4 30.0 303.0 31.9 302.4 33.9 302.1 35.8 301.9 37.8 301.7 40.0 301.3 42.0 300.3 43.9 299.5 45.8 298.5 48.0 297.8 50.3 297.2 52.6 297.1 55.0 296.1 57.9 294.0 61.1 291.9 57.9 290.8 55.2 291.1 52.8 291.6 50.6 292.4 48.5 292.6 46.3 292.6 44.1Z" fill="#1f77b4" fill-opacity="0.47"/><path d="M304.6 71.3 307.6 71.6 310.1 71.9 312.5 73.0 314.2 74.5 315.7 75.9 317.1 77.4 318.3 79.2 319.5 81.1 320.7 80.8 319.9 81.5 318.3 83.2 316.4 84.4 314.2 84.9 312.0 84.6 310.0 84.3 308.0 84.4 305.8 84.2 305.5 82.0 305.3 80.0 305.1 78.0 304.9 76.0 304.7 74.0Z" fill="#ff7f0e" fill-opacity="0.55"/></g><g filter="url(#st)"><path d="M24.4 254.3 26.2 253.4 28.0 252.0 30.0 251.0 32.0 251.2 34.1 251.4 36.0 250.8 38.0 249.8 40.0 249.5 42.0 250.1 44.0 250.7 46.0 250.8 48.0 250.8 50.2 250.8 50.9 253.3 51.6 255.6 51.8 258.0 50.5 259.7 49.1 261.4 48.0 263.0 46.6 264.6 45.4 266.4 43.8 267.8 42.9 269.7 41.9 271.4 40.9 273.2 39.8 274.6 38.1 274.0 36.2 273.1 34.2 272.4 32.4 272.2 30.0 272.1 27.4 272.4 25.0 272.0 24.4 270.0 24.4 267.9 23.9 265.9 23.4 264.0 23.4 262.0 23.3 260.0 23.5 258.0 23.9 256.0Z" fill="#279e68" fill-opacity="0.85"/><path d="M51.1 245.3 51.5 243.4 52.0 241.2 52.5 238.9 53.9 237.1 56.1 235.5 58.5 234.1 60.4 232.4 62.4 231.0 64.1 229.4 66.0 229.3 68.0 228.8 70.2 228.7 71.9 231.3 73.1 233.9 74.1 236.1 75.2 238.3 76.5 240.2 76.7 242.0 77.6 244.0 78.4 246.6 77.0 249.4 75.2 251.3 73.1 253.0 71.3 254.3 69.3 255.3 67.6 256.6 65.9 257.9 64.2 259.5 62.1 260.7 60.2 262.0 58.0 262.8 56.0 261.9 54.2 260.5 52.3 259.8 52.1 257.8 51.6 255.9 51.5 253.7 51.2 251.9 51.4 249.7 51.3 247.3Z" fill="#b5bd61" fill-opacity="0.76"/><path d="M20.0 227.1 23.0 227.0 25.0 227.4 27.0 227.5 29.0 227.1 31.0 227.3 33.0 228.1 35.2 228.8 37.1 227.9 38.8 226.7 40.5 225.5 42.4 224.9 44.4 224.3 46.4 223.9 48.4 223.4 49.8 223.0 51.0 224.0 52.8 225.2 54.8 226.2 56.3 227.8 56.9 229.9 57.5 232.0 58.2 234.1 59.0 236.1 59.5 238.0 58.3 239.6 57.5 241.6 56.8 243.7 57.0 246.1 56.4 248.4 54.0 249.2 51.5 249.4 49.2 249.9 47.2 251.1 45.0 252.0 42.9 251.8 40.7 251.7 38.6 251.7 36.4 252.2 34.3 252.4 32.1 252.7 29.9 252.4 27.9 250.9 25.9 249.6 23.8 248.6 21.5 247.3 21.4 244.9 21.4 242.8 20.9 240.7 20.5 238.6 20.4 236.5 20.9 234.4 20.8 232.2 20.4 230.2Z" fill="#ff9896" fill-opacity="0.85"/><path d="M18.3 204.2 21.3 203.8 23.5 204.2 25.7 204.8 27.8 205.8 30.0 206.3 32.0 206.4 34.0 206.4 36.0 206.6 38.0 207.0 39.6 207.1 41.3 208.4 43.4 209.4 45.8 210.0 48.3 210.7 49.7 212.4 50.6 214.3 51.4 216.2 52.1 218.2 53.0 220.0 51.4 221.2 50.0 222.7 48.4 223.9 47.1 225.4 45.8 227.0 44.4 228.9 42.2 229.7 40.2 229.7 38.1 229.7 35.9 229.0 33.9 228.9 32.0 228.6 29.9 228.4 27.7 228.3 25.5 228.1 23.3 228.1 21.7 228.2 21.0 226.7 20.4 224.6 19.8 222.4 19.6 220.2 19.0 218.0 18.6 215.8 18.4 213.7 18.6 211.5 18.7 209.3 18.4 207.2Z" fill="#aec7e8" fill-opacity="0.71"/><path d="M18.3 192.9 21.4 193.2 24.0 193.7 26.7 194.7 28.2 196.4 29.4 198.1 30.8 199.6 32.2 201.1 33.2 202.6 33.9 204.7 35.3 206.8 36.6 208.9 37.6 210.8 35.7 210.4 33.7 210.8 31.7 211.1 30.1 211.7 28.3 211.4 26.1 211.3 23.8 211.2 21.6 210.4 20.6 208.2 19.7 206.3 18.8 204.4 18.0 202.2 18.2 199.9 18.3 197.8 18.2 195.6Z" fill="#ffbb78" fill-opacity="0.76"/><path d="M67.4 254.3 69.4 254.0 71.6 253.6 73.7 252.8 75.7 251.6 77.7 250.2 79.9 249.2 82.1 249.8 84.1 250.1 86.1 250.2 88.2 250.1 90.2 250.7 92.3 251.6 93.2 253.9 94.2 255.9 95.1 258.0 93.3 259.6 92.0 261.5 90.6 263.5 88.7 265.7 86.1 265.9 84.2 266.1 82.1 266.0 80.1 265.5 78.0 264.8 76.1 264.3 74.2 263.8 72.1 263.5 70.0 263.5 67.5 263.4 67.2 260.8 67.2 258.5 67.5 256.2Z" fill="#1f77b4" fill-opacity="0.76"/><path d="M65.3 268.2 67.4 267.1 69.7 266.0 72.1 264.7 73.3 266.7 74.3 268.6 75.2 270.6 76.5 272.2 76.4 274.2 76.2 276.4 76.4 278.6 77.2 280.7 78.0 282.8 78.3 285.0 77.2 287.2 76.5 289.5 75.8 291.8 75.0 294.0 72.8 293.0 70.6 291.9 69.0 291.0 69.2 289.7 68.9 287.7 68.2 285.8 67.8 283.8 67.2 281.8 66.9 279.9 66.3 278.0 65.6 276.0 65.1 274.0 65.2 272.0 65.3 270.0Z" fill="#aa40fc" fill-opacity="0.85"/><path d="M55.6 265.6 57.1 264.7 59.3 264.5 60.0 264.3 58.4 264.6 58.1 266.6 58.4 268.7 58.5 270.8 58.7 272.9 58.1 274.8 57.6 276.8 56.9 278.7 56.9 280.9 56.5 282.9 56.1 285.0 55.1 286.9 54.4 288.8 53.9 290.9 53.8 293.0 53.6 295.2 52.7 297.1 51.8 299.0 51.0 301.0 50.7 298.8 50.2 296.7 50.4 294.5 50.9 292.3 51.3 290.2 51.3 288.0 51.4 285.8 51.4 283.6 51.8 281.5 52.0 279.3 53.0 277.2 53.3 275.1 54.4 273.2 55.0 271.2 55.9 269.3 55.9 267.3Z" fill="#17becf" fill-opacity="0.76"/><path d="M91.1 221.4 92.9 219.8 95.0 219.0 96.7 217.7 98.3 216.3 99.6 214.3 101.7 213.3 103.7 212.6 105.8 212.2 108.0 211.6 110.4 212.9 112.5 214.3 114.6 215.4 114.9 217.2 115.6 219.2 116.2 221.2 116.8 223.2 117.6 225.0 117.7 227.1 117.7 229.3 117.1 231.4 116.4 233.5 115.9 235.6 116.1 237.8 116.4 240.0 116.5 242.2 115.8 244.3 115.2 246.4 115.1 248.5 115.4 250.7 115.5 252.9 115.4 255.0 114.8 257.2 114.2 259.3 113.3 261.4 112.8 263.5 112.8 265.7 112.8 267.9 111.8 270.0 110.4 272.0 109.4 274.1 108.3 276.4 106.1 276.8 104.0 276.6 101.9 276.0 100.1 276.1 98.1 276.1 95.8 276.7 93.8 276.3 91.3 275.7 90.4 273.1 89.2 271.1 88.8 268.9 89.0 266.6 89.8 264.1 89.8 261.9 89.8 259.8 89.0 257.7 88.5 255.6 88.2 253.5 88.1 251.4 87.9 249.3 87.3 247.2 87.0 245.0 87.4 242.8 88.1 240.6 88.8 238.5 88.8 236.3 89.2 234.2 89.3 232.1 90.2 230.2 90.4 228.0 90.6 225.9 90.4 223.7Z" fill="#8c564b" fill-opacity="0.81"/><path d="M104.0 206.0 106.1 204.9 108.3 203.8 110.2 202.8 111.8 203.4 113.8 203.6 115.9 203.6 118.0 203.6 120.1 203.7 122.1 204.3 124.0 205.1 125.9 206.3 127.8 207.2 129.5 207.7 130.8 209.1 132.2 210.7 133.3 212.0 132.2 213.2 130.8 214.8 129.4 216.4 127.9 217.9 125.8 218.0 123.7 218.1 121.5 218.2 119.3 218.5 117.2 218.9 114.8 219.1 112.4 217.9 110.2 216.7 108.1 215.4 105.6 214.4 104.9 212.1 104.4 210.2 104.2 208.1Z" fill="#98df8a" fill-opacity="0.76"/><path d="M118.4 203.9 119.4 202.2 120.3 200.0 121.2 197.8 122.8 196.2 124.5 194.5 126.5 193.3 128.2 191.8 129.8 190.2 131.1 188.3 132.3 186.0 134.5 184.1 136.7 182.6 140.7 182.3 141.1 185.9 140.9 188.0 141.5 190.1 140.9 192.4 139.9 194.5 138.5 196.3 137.4 198.2 136.1 200.1 134.9 201.9 133.3 203.3 132.0 205.0 130.2 206.4 128.1 206.9 126.1 207.1 124.1 207.2 121.9 207.3 120.1 205.4Z" fill="#ff7f0e" fill-opacity="0.76"/><path d="M106.2 218.2 108.0 217.6 109.9 216.6 112.0 216.6 114.0 216.2 116.0 216.0 118.0 215.2 120.0 215.1 122.1 215.4 124.3 215.9 126.5 216.0 128.6 216.4 130.8 216.6 133.0 217.0 135.1 217.6 137.3 218.5 139.5 219.3 141.8 219.9 143.8 221.1 145.8 222.2 146.0 224.3 147.1 226.2 147.9 228.2 148.9 230.1 149.6 232.0 149.2 234.1 148.8 236.3 148.4 238.5 147.5 240.5 146.3 242.5 145.6 244.6 145.6 246.6 144.0 247.3 142.1 248.1 140.1 248.5 138.0 248.3 136.0 247.7 134.0 247.6 132.0 248.1 130.0 248.9 127.9 248.8 126.0 248.3 124.0 247.8 122.0 248.0 119.9 248.2 117.9 248.0 116.0 247.1 115.5 244.7 114.9 242.5 113.5 240.9 111.8 239.4 109.8 238.1 109.0 236.1 108.5 234.1 108.5 232.1 108.8 229.9 109.1 227.8 108.9 225.7 108.4 223.8 107.6 221.8 107.2 219.8Z" fill="#e377c2" fill-opacity="0.81"/><path d="M139.8 221.8 142.0 222.5 144.0 223.0 146.1 222.9 148.2 222.7 150.4 223.1 152.0 224.9 153.4 226.6 155.2 227.7 156.9 229.0 158.6 230.3 159.7 232.3 160.6 234.0 161.7 235.7 163.3 237.0 164.5 238.6 165.6 240.2 165.7 242.3 166.6 244.2 167.9 246.0 169.5 247.7 170.4 250.3 168.7 252.7 166.7 254.2 165.0 256.0 162.9 256.5 160.9 257.4 158.8 257.9 156.8 258.6 154.8 258.9 152.8 259.0 150.6 259.3 148.5 259.9 146.4 260.9 144.3 261.2 142.2 261.3 140.1 260.8 139.7 258.6 139.1 256.4 137.7 254.4 136.5 252.3 135.5 250.1 136.2 247.8 136.5 245.7 136.2 243.5 136.1 241.3 136.7 239.2 137.9 237.2 138.8 235.1 139.3 233.0 139.5 230.8 139.4 228.6 139.3 226.3 139.2 224.1Z" fill="#d62728" fill-opacity="0.85"/><path d="M113.2 249.2 115.0 249.9 117.0 250.1 119.0 249.8 121.0 249.0 123.0 248.8 125.1 248.5 127.2 249.5 129.5 249.9 131.7 250.5 134.0 250.6 136.7 251.4 136.9 254.2 136.3 256.5 135.7 258.8 135.5 260.6 133.7 260.7 131.4 260.7 129.2 261.0 127.0 261.3 125.0 262.2 122.9 262.0 120.6 261.5 118.3 261.1 116.1 260.9 115.2 259.1 114.4 257.2 113.6 255.2 113.2 253.2 113.0 251.1Z" fill="#1f77b4" fill-opacity="0.76"/></g><path d="M18.6 194.0C19.1 212.4 22.5 240.7 30.6 257.8M19.4 194.2C21.9 213.2 25.3 238.0 34.3 258.1M19.1 194.0C22.9 214.5 29.1 236.4 36.5 256.5M18.4 194.2C22.5 211.5 32.0 236.6 41.0 256.6M19.2 194.3C24.4 210.8 35.7 235.4 43.6 255.5M19.7 194.1C25.6 210.3 34.5 234.4 46.0 255.6M19.8 195.0C29.6 207.9 37.2 232.0 48.7 254.7M20.1 193.8C29.5 209.5 39.1 229.3 52.0 254.0M18.5 194.4C35.2 208.1 43.4 231.7 53.9 253.7M19.5 194.9C38.1 208.2 46.7 230.4 58.2 254.2M19.7 194.3C35.6 205.1 48.4 229.7 62.5 252.8M19.9 194.4C38.6 205.0 52.1 227.2 63.4 252.5M20.3 195.0C39.3 206.0 53.1 228.7 66.5 251.3M19.9 193.9C39.4 202.5 55.1 225.2 68.7 249.9M20.3 194.8C44.6 200.7 58.6 223.6 71.4 251.2M36.0 260.3C28.4 260.0 23.4 262.2 15.4 263.7M36.0 262.9C28.1 264.0 24.7 263.2 15.4 265.9M36.1 266.1C30.7 266.9 23.1 269.1 15.2 269.2M36.0 268.6C29.6 269.6 21.0 273.0 16.4 273.0M98.4 251.7C78.0 254.7 63.3 266.6 52.4 299.4M97.7 253.5C78.9 254.5 63.0 269.0 56.2 299.8M98.4 255.3C79.0 258.0 64.7 271.1 54.9 300.4M96.7 256.1C81.0 260.5 66.8 272.4 59.5 299.6M97.1 257.4C81.0 259.5 70.2 271.8 62.2 299.9M96.5 259.2C80.3 261.0 69.8 273.8 65.6 298.2M96.4 260.9C80.5 264.0 68.5 274.2 67.3 299.7M97.2 262.7C81.9 265.3 72.0 277.7 70.3 298.3M96.4 264.1C83.5 266.6 72.1 279.2 71.7 298.5M96.3 266.0C82.5 265.9 74.1 277.3 75.3 298.1M96.5 267.0C84.3 269.2 76.4 279.8 78.4 297.2M49.7 239.8C59.3 241.7 66.2 250.3 83.6 252.0M51.5 243.4C60.5 245.8 71.4 248.2 84.2 255.8M53.4 246.6C60.8 249.3 70.2 253.0 85.5 258.5M54.8 250.1C63.5 254.0 70.8 258.3 86.0 260.1M99.9 214.8C96.2 234.1 91.1 253.0 90.5 272.4M103.5 215.9C99.5 235.4 94.7 254.3 92.3 274.3M106.4 217.3C101.9 237.1 96.7 255.3 94.8 275.2M109.0 218.9C105.4 237.8 100.0 253.7 99.2 274.3M112.1 220.7C109.2 237.1 103.9 254.7 101.0 274.7M115.1 221.3C113.0 236.2 109.5 256.1 105.8 276.1M118.0 223.5C115.5 239.7 111.7 257.1 108.0 275.9M127.5 185.4C119.2 198.6 107.4 208.8 97.2 226.4M129.5 185.6C121.8 198.8 109.3 209.5 99.5 227.0M131.7 185.5C124.0 197.4 113.0 210.0 102.1 226.8M132.8 185.6C127.7 199.5 116.1 208.3 103.1 225.0M136.1 185.1C127.3 196.7 118.4 209.4 106.3 225.9M137.5 185.0C130.2 197.3 119.7 209.1 109.7 225.1M137.9 185.9C133.8 199.1 121.7 209.9 110.5 227.5M140.8 185.3C137.8 198.7 125.0 214.2 113.8 227.5M142.8 185.2C136.6 198.2 129.1 210.5 116.9 226.0M168.1 249.8C160.6 221.6 126.8 213.2 99.7 234.0M168.0 250.1C161.6 221.8 127.6 215.7 99.6 234.5M168.3 250.3C162.1 225.9 128.7 219.0 100.1 236.2M167.9 249.6C159.9 229.1 126.8 219.7 100.4 235.7M167.7 250.8C159.5 229.7 126.6 223.0 100.4 237.8M167.6 250.4C158.1 232.8 126.0 225.3 102.2 238.5M168.3 250.1C159.4 232.9 127.3 228.2 103.0 239.0M167.7 251.0C158.4 236.1 127.8 230.7 101.4 242.7M168.5 251.0C157.6 236.0 125.9 235.4 102.9 242.8M167.9 251.0C159.7 238.5 129.3 234.0 103.9 244.7M168.3 250.4C155.8 241.9 128.3 238.0 104.4 245.4M167.9 251.3C158.5 242.4 128.9 240.3 103.6 246.6M168.3 251.8C158.0 246.8 128.1 243.1 105.2 248.1M168.6 251.3C155.2 247.5 129.7 244.9 104.3 249.4M167.8 252.1C158.4 251.2 128.8 248.1 107.3 251.4M168.1 251.3C156.2 249.9 129.2 249.3 103.8 252.6M167.7 251.7C155.5 253.1 126.5 253.2 106.3 254.3M167.2 251.7C155.9 254.4 130.6 256.2 105.8 254.5M168.3 252.2C153.8 258.0 128.9 256.8 106.5 256.9" fill="none" stroke="#000" stroke-width="0.8"/><path d="M22.0 227.9L19.7 224.6L23.1 224.1ZM25.2 229.6L22.8 226.5L26.1 225.7ZM27.8 230.2L25.2 227.2L28.4 226.2ZM30.8 232.1L27.9 229.3L31.0 228.1ZM31.9 227.2L29.0 224.5L32.1 223.2ZM33.8 230.1L30.8 227.5L33.9 226.2ZM29.5 212.0L26.4 209.4L29.4 208.0ZM34.0 219.1L30.8 216.7L33.8 215.1ZM42.2 228.3L39.1 225.8L42.2 224.4ZM42.5 222.3L39.2 220.1L42.2 218.4ZM46.0 225.5L42.6 223.3L45.5 221.5ZM38.6 210.4L35.0 208.8L37.5 206.6ZM44.3 217.2L40.7 215.5L43.4 213.4ZM41.9 210.6L38.2 209.1L40.7 206.8ZM49.9 214.5L46.3 212.9L48.8 210.7ZM19.2 262.9L22.3 260.4L23.1 263.7ZM22.8 264.2L26.2 262.1L26.6 265.4ZM21.7 268.7L25.0 266.5L25.5 269.8ZM20.4 272.5L23.5 270.0L24.3 273.2ZM60.3 280.3L60.6 276.3L63.5 278.0ZM63.5 278.5L63.7 274.5L66.7 276.1ZM70.6 270.4L71.8 266.6L74.3 268.9ZM66.3 281.7L66.6 277.7L69.5 279.4ZM74.7 271.3L75.6 267.4L78.3 269.5ZM71.1 279.2L71.2 275.3L74.2 276.8ZM74.6 274.0L75.5 270.2L78.2 272.3ZM77.9 274.6L78.9 270.7L81.5 272.9ZM73.4 286.7L73.0 282.8L76.2 283.9ZM78.3 277.4L78.6 273.4L81.5 275.1ZM80.3 279.6L80.6 275.6L83.5 277.2ZM70.7 249.1L66.7 249.3L68.0 246.2ZM72.4 249.8L68.4 250.1L69.6 247.0ZM66.8 251.6L62.8 251.9L64.0 248.8ZM74.5 258.0L70.5 258.6L71.5 255.4ZM91.3 261.0L90.1 257.2L93.4 257.6ZM93.6 265.0L92.5 261.2L95.8 261.7ZM97.3 257.8L96.3 254.0L99.6 254.6ZM99.4 269.6L98.1 265.8L101.4 266.1ZM102.5 265.7L101.5 261.9L104.8 262.5ZM106.6 271.9L105.6 268.1L108.9 268.7ZM109.0 270.9L108.0 267.0L111.3 267.7ZM116.5 200.1L117.5 196.2L120.1 198.3ZM118.2 201.1L119.2 197.3L121.8 199.4ZM122.5 198.4L123.3 194.5L126.0 196.5ZM125.4 198.8L126.1 194.9L128.8 196.9ZM127.5 196.7L128.2 192.8L130.9 194.8ZM127.7 199.5L128.5 195.6L131.2 197.6ZM127.5 204.3L128.2 200.4L130.9 202.4ZM135.8 197.8L135.9 193.9L138.9 195.4ZM132.0 204.9L132.4 200.9L135.3 202.7ZM146.3 225.0L150.3 224.9L148.9 228.0ZM147.5 226.2L151.5 226.1L150.1 229.2ZM136.7 226.8L140.5 225.5L140.1 228.9ZM142.9 229.4L146.8 228.8L145.8 232.0ZM146.1 232.1L150.1 231.8L148.9 235.0ZM141.9 233.2L145.9 232.5L145.0 235.8ZM138.2 233.6L142.0 232.4L141.6 235.8ZM151.0 239.1L155.0 238.8L153.8 241.9ZM130.9 238.2L134.5 236.5L134.5 239.9ZM152.6 241.2L156.6 240.8L155.4 243.9ZM136.5 241.6L140.2 240.2L140.0 243.5ZM135.5 242.9L139.2 241.4L139.0 244.7ZM151.8 247.4L155.6 246.3L155.0 249.6ZM136.1 247.0L139.8 245.5L139.7 248.8ZM145.6 250.3L149.3 248.9L149.1 252.2ZM140.4 250.2L144.0 248.5L144.0 251.9ZM150.3 252.8L153.9 250.9L154.0 254.3ZM150.5 254.1L153.9 252.1L154.2 255.5ZM147.2 256.3L150.6 254.3L150.9 257.7Z" fill="#000"/><g filter="url(#st)"><path d="M180.1 254.7 181.8 253.8 183.6 252.4 185.6 251.4 187.6 251.7 189.6 251.8 191.6 251.2 193.5 250.3 195.5 249.9 197.5 250.5 199.4 251.1 201.4 251.2 203.4 251.2 205.6 251.2 206.3 253.7 207.0 256.0 207.2 258.3 205.9 260.1 204.5 261.7 203.4 263.3 202.0 264.9 200.8 266.7 199.2 268.1 198.4 270.0 197.4 271.7 196.4 273.4 195.3 274.8 193.6 274.2 191.7 273.3 189.8 272.6 187.9 272.4 185.6 272.3 183.0 272.7 180.6 272.2 180.1 270.2 180.0 268.2 179.6 266.2 179.1 264.3 179.0 262.3 178.9 260.3 179.1 258.3 179.5 256.4Z" fill="#1f77b4" fill-opacity="0.64"/><path d="M206.4 245.8 206.8 243.9 207.4 241.7 207.9 239.4 209.2 237.7 211.4 236.1 213.8 234.7 215.7 233.0 217.7 231.7 219.4 230.0 221.2 230.0 223.2 229.5 225.4 229.3 227.0 231.9 228.3 234.5 229.3 236.7 230.4 238.8 231.6 240.7 231.8 242.5 232.7 244.5 233.5 247.0 232.1 249.8 230.3 251.7 228.3 253.4 226.5 254.7 224.5 255.7 222.8 256.9 221.1 258.2 219.4 259.8 217.4 261.1 215.4 262.3 213.3 263.2 211.4 262.3 209.6 260.9 207.6 260.1 207.5 258.2 206.9 256.2 206.9 254.1 206.6 252.3 206.8 250.1 206.6 247.8Z" fill="#1f77b4" fill-opacity="0.65"/><path d="M175.7 227.8 178.7 227.7 180.6 228.0 182.6 228.2 184.6 227.8 186.6 228.0 188.6 228.8 190.7 229.5 192.7 228.6 194.3 227.4 196.0 226.2 197.9 225.6 199.8 225.0 201.8 224.6 203.8 224.1 205.2 223.7 206.4 224.7 208.2 225.9 210.1 226.9 211.6 228.5 212.3 230.6 212.8 232.7 213.5 234.7 214.3 236.7 214.8 238.6 213.6 240.2 212.8 242.1 212.1 244.2 212.3 246.6 211.7 248.9 209.3 249.7 206.9 249.9 204.6 250.4 202.6 251.6 200.4 252.4 198.3 252.2 196.2 252.1 194.1 252.1 192.0 252.7 189.8 252.8 187.7 253.1 185.5 252.8 183.5 251.3 181.6 250.0 179.4 249.0 177.2 247.8 177.1 245.4 177.1 243.3 176.5 241.2 176.1 239.2 176.1 237.1 176.6 234.9 176.5 232.9 176.0 230.8Z" fill="#1f77b4" fill-opacity="0.34"/><path d="M174.0 205.1 177.0 204.7 179.2 205.1 181.3 205.7 183.4 206.7 185.6 207.2 187.6 207.3 189.5 207.3 191.5 207.5 193.5 207.8 195.1 208.0 196.7 209.3 198.9 210.3 201.3 210.8 203.7 211.6 205.1 213.2 206.0 215.0 206.8 216.9 207.4 218.9 208.3 220.7 206.7 221.9 205.4 223.4 203.8 224.6 202.5 226.1 201.2 227.7 199.9 229.5 197.7 230.3 195.7 230.3 193.6 230.4 191.5 229.7 189.4 229.6 187.5 229.3 185.5 229.1 183.3 228.9 181.2 228.7 179.0 228.8 177.4 228.9 176.7 227.4 176.1 225.2 175.5 223.1 175.3 220.9 174.7 218.8 174.3 216.6 174.1 214.5 174.3 212.3 174.4 210.2 174.1 208.0Z" fill="#1f77b4" fill-opacity="0.28"/><path d="M174.0 193.9 177.1 194.3 179.7 194.7 182.3 195.7 183.8 197.4 185.0 199.1 186.4 200.5 187.7 202.0 188.8 203.5 189.5 205.6 190.9 207.7 192.1 209.8 193.1 211.7 191.3 211.2 189.2 211.6 187.2 211.9 185.7 212.6 183.9 212.3 181.7 212.1 179.5 212.0 177.3 211.2 176.3 209.1 175.4 207.2 174.5 205.3 173.7 203.1 173.9 200.8 174.0 198.7 174.0 196.6Z" fill="#1f77b4" fill-opacity="0.23"/><path d="M222.6 254.7 224.6 254.4 226.8 254.0 228.9 253.2 230.9 252.0 232.8 250.7 235.0 249.6 237.2 250.2 239.1 250.6 241.2 250.7 243.2 250.5 245.1 251.1 247.3 252.0 248.1 254.3 249.1 256.3 250.1 258.4 248.3 259.9 246.9 261.8 245.6 263.8 243.7 265.9 241.2 266.2 239.2 266.4 237.2 266.2 235.2 265.7 233.1 265.1 231.2 264.6 229.3 264.1 227.3 263.8 225.2 263.8 222.8 263.7 222.4 261.1 222.4 258.9 222.7 256.6Z" fill="#1f77b4" fill-opacity="0.53"/><path d="M220.5 268.5 222.6 267.3 224.9 266.3 227.2 265.0 228.4 267.0 229.4 268.9 230.3 270.9 231.6 272.4 231.6 274.4 231.4 276.6 231.5 278.7 232.4 280.8 233.1 282.9 233.4 285.1 232.3 287.3 231.6 289.5 230.9 291.8 230.1 294.0 227.9 293.0 225.7 291.9 224.2 291.0 224.4 289.8 224.1 287.8 223.4 285.9 223.0 283.9 222.5 282.0 222.1 280.0 221.5 278.1 220.9 276.2 220.3 274.2 220.4 272.2 220.5 270.2Z" fill="#1f77b4" fill-opacity="0.51"/><path d="M211.0 265.9 212.4 265.0 214.6 264.8 215.2 264.6 213.7 264.9 213.4 266.9 213.7 269.0 213.8 271.0 214.0 273.1 213.4 275.0 212.9 276.9 212.2 278.9 212.2 281.0 211.8 283.1 211.4 285.1 210.4 286.9 209.7 288.9 209.3 290.9 209.1 293.0 208.9 295.2 208.0 297.1 207.1 299.0 206.4 300.9 206.0 298.8 205.6 296.6 205.7 294.5 206.2 292.3 206.7 290.2 206.7 288.1 206.8 285.9 206.8 283.7 207.2 281.6 207.4 279.4 208.4 277.4 208.7 275.2 209.8 273.4 210.3 271.5 211.2 269.6 211.2 267.5Z" fill="#1f77b4" fill-opacity="0.46"/><path d="M246.1 222.1 247.9 220.5 249.9 219.7 251.7 218.5 253.2 217.1 254.5 215.1 256.5 214.1 258.5 213.4 260.6 213.0 262.8 212.5 265.1 213.7 267.3 215.1 269.3 216.2 269.6 218.0 270.3 219.9 270.9 221.9 271.5 223.9 272.3 225.7 272.4 227.8 272.4 230.0 271.8 232.0 271.1 234.1 270.6 236.2 270.9 238.4 271.2 240.6 271.3 242.7 270.5 244.8 269.9 246.9 269.8 249.0 270.1 251.1 270.3 253.3 270.1 255.4 269.6 257.6 268.9 259.6 268.0 261.7 267.6 263.8 267.5 266.0 267.5 268.2 266.5 270.2 265.2 272.2 264.2 274.3 263.1 276.6 260.9 277.0 258.9 276.8 256.8 276.1 254.9 276.3 253.0 276.3 250.8 276.9 248.7 276.5 246.2 275.9 245.3 273.3 244.2 271.3 243.8 269.1 244.0 266.8 244.8 264.4 244.7 262.2 244.8 260.2 244.0 258.1 243.5 256.0 243.2 253.9 243.1 251.8 242.9 249.7 242.3 247.6 242.0 245.5 242.4 243.3 243.1 241.2 243.8 239.1 243.8 236.9 244.2 234.8 244.3 232.7 245.2 230.8 245.3 228.7 245.6 226.6 245.4 224.4Z" fill="#1f77b4" fill-opacity="0.40"/><path d="M258.9 206.9 261.0 205.8 263.1 204.7 265.0 203.7 266.6 204.3 268.6 204.5 270.6 204.5 272.7 204.5 274.8 204.6 276.8 205.2 278.7 206.0 280.5 207.1 282.4 208.1 284.1 208.6 285.3 210.0 286.8 211.5 287.8 212.8 286.8 214.0 285.3 215.6 284.0 217.2 282.6 218.6 280.5 218.8 278.3 218.9 276.2 219.0 274.0 219.3 271.9 219.7 269.5 219.8 267.1 218.7 265.0 217.4 262.9 216.2 260.4 215.2 259.8 213.0 259.2 211.0 259.0 208.9Z" fill="#1f77b4" fill-opacity="0.30"/><path d="M273.1 204.8 274.1 203.1 274.9 200.9 275.9 198.8 277.4 197.1 279.1 195.5 281.1 194.3 282.8 192.8 284.4 191.2 285.7 189.4 286.9 187.0 289.0 185.1 291.2 183.7 295.1 183.4 295.5 187.0 295.4 189.0 296.0 191.1 295.4 193.4 294.4 195.4 293.0 197.2 291.9 199.1 290.6 201.0 289.4 202.8 287.8 204.2 286.5 205.8 284.8 207.3 282.7 207.7 280.7 207.9 278.7 208.1 276.6 208.1 274.8 206.2Z" fill="#1f77b4" fill-opacity="0.38"/><path d="M261.1 218.9 262.8 218.3 264.7 217.4 266.7 217.4 268.7 216.9 270.8 216.8 272.7 216.0 274.7 215.9 276.8 216.2 278.9 216.6 281.1 216.8 283.2 217.2 285.4 217.4 287.5 217.8 289.7 218.3 291.8 219.3 294.0 220.1 296.2 220.7 298.3 221.9 300.2 222.9 300.5 225.0 301.5 226.9 302.3 228.9 303.3 230.7 304.0 232.6 303.6 234.7 303.2 236.9 302.8 239.0 302.0 241.1 300.8 243.0 300.0 245.1 300.0 247.0 298.5 247.8 296.5 248.5 294.6 248.9 292.6 248.7 290.5 248.2 288.5 248.0 286.6 248.6 284.6 249.3 282.5 249.3 280.6 248.8 278.6 248.3 276.6 248.4 274.6 248.7 272.6 248.5 270.7 247.5 270.3 245.2 269.6 243.0 268.2 241.4 266.5 240.0 264.6 238.6 263.8 236.7 263.3 234.7 263.3 232.7 263.6 230.5 263.9 228.4 263.7 226.4 263.2 224.5 262.4 222.6 262.0 220.6Z" fill="#1f77b4" fill-opacity="0.57"/><path d="M294.3 222.5 296.5 223.2 298.4 223.7 300.5 223.6 302.6 223.4 304.8 223.8 306.4 225.6 307.8 227.2 309.5 228.4 311.3 229.6 312.9 231.0 314.0 232.9 314.9 234.6 315.9 236.3 317.6 237.6 318.8 239.1 319.8 240.7 319.9 242.8 320.8 244.7 322.1 246.5 323.7 248.1 324.6 250.7 322.9 253.1 320.9 254.6 319.2 256.4 317.1 256.9 315.2 257.8 313.1 258.2 311.1 259.0 309.1 259.3 307.1 259.3 305.0 259.6 302.9 260.3 300.9 261.2 298.8 261.5 296.6 261.6 294.6 261.2 294.1 259.0 293.5 256.7 292.2 254.8 291.0 252.7 290.1 250.5 290.7 248.3 291.0 246.2 290.7 244.0 290.6 241.8 291.2 239.7 292.4 237.7 293.3 235.7 293.7 233.6 294.0 231.4 293.9 229.2 293.8 227.0 293.7 224.8Z" fill="#1f77b4" fill-opacity="0.60"/><path d="M268.0 249.6 269.7 250.4 271.7 250.5 273.7 250.2 275.7 249.5 277.7 249.3 279.7 249.0 281.8 250.0 284.1 250.3 286.2 251.0 288.6 251.0 291.3 251.9 291.4 254.6 290.8 256.9 290.3 259.1 290.0 260.9 288.2 261.0 286.0 261.0 283.8 261.3 281.6 261.6 279.7 262.6 277.5 262.3 275.3 261.8 273.0 261.4 270.9 261.2 269.9 259.4 269.1 257.5 268.4 255.6 268.0 253.6 267.8 251.5Z" fill="#1f77b4" fill-opacity="0.53"/></g><g filter="url(#st2)"><path d="M180.1 254.7 181.8 253.8 183.6 252.4 185.6 251.4 187.6 251.7 189.6 251.8 191.6 251.2 193.5 250.3 195.5 249.9 197.5 250.5 199.4 251.1 201.4 251.2 203.4 251.2 205.6 251.2 206.3 253.7 207.0 256.0 207.2 258.3 205.9 260.1 204.5 261.7 203.4 263.3 202.0 264.9 200.8 266.7 199.2 268.1 198.4 270.0 197.4 271.7 196.4 273.4 195.3 274.8 193.6 274.2 191.7 273.3 189.8 272.6 187.9 272.4 185.6 272.3 183.0 272.7 180.6 272.2 180.1 270.2 180.0 268.2 179.6 266.2 179.1 264.3 179.0 262.3 178.9 260.3 179.1 258.3 179.5 256.4Z" fill="#ff7f0e" fill-opacity="0.21"/><path d="M206.4 245.8 206.8 243.9 207.4 241.7 207.9 239.4 209.2 237.7 211.4 236.1 213.8 234.7 215.7 233.0 217.7 231.7 219.4 230.0 221.2 230.0 223.2 229.5 225.4 229.3 227.0 231.9 228.3 234.5 229.3 236.7 230.4 238.8 231.6 240.7 231.8 242.5 232.7 244.5 233.5 247.0 232.1 249.8 230.3 251.7 228.3 253.4 226.5 254.7 224.5 255.7 222.8 256.9 221.1 258.2 219.4 259.8 217.4 261.1 215.4 262.3 213.3 263.2 211.4 262.3 209.6 260.9 207.6 260.1 207.5 258.2 206.9 256.2 206.9 254.1 206.6 252.3 206.8 250.1 206.6 247.8Z" fill="#ff7f0e" fill-opacity="0.11"/><path d="M175.7 227.8 178.7 227.7 180.6 228.0 182.6 228.2 184.6 227.8 186.6 228.0 188.6 228.8 190.7 229.5 192.7 228.6 194.3 227.4 196.0 226.2 197.9 225.6 199.8 225.0 201.8 224.6 203.8 224.1 205.2 223.7 206.4 224.7 208.2 225.9 210.1 226.9 211.6 228.5 212.3 230.6 212.8 232.7 213.5 234.7 214.3 236.7 214.8 238.6 213.6 240.2 212.8 242.1 212.1 244.2 212.3 246.6 211.7 248.9 209.3 249.7 206.9 249.9 204.6 250.4 202.6 251.6 200.4 252.4 198.3 252.2 196.2 252.1 194.1 252.1 192.0 252.7 189.8 252.8 187.7 253.1 185.5 252.8 183.5 251.3 181.6 250.0 179.4 249.0 177.2 247.8 177.1 245.4 177.1 243.3 176.5 241.2 176.1 239.2 176.1 237.1 176.6 234.9 176.5 232.9 176.0 230.8Z" fill="#ff7f0e" fill-opacity="0.51"/><path d="M174.0 205.1 177.0 204.7 179.2 205.1 181.3 205.7 183.4 206.7 185.6 207.2 187.6 207.3 189.5 207.3 191.5 207.5 193.5 207.8 195.1 208.0 196.7 209.3 198.9 210.3 201.3 210.8 203.7 211.6 205.1 213.2 206.0 215.0 206.8 216.9 207.4 218.9 208.3 220.7 206.7 221.9 205.4 223.4 203.8 224.6 202.5 226.1 201.2 227.7 199.9 229.5 197.7 230.3 195.7 230.3 193.6 230.4 191.5 229.7 189.4 229.6 187.5 229.3 185.5 229.1 183.3 228.9 181.2 228.7 179.0 228.8 177.4 228.9 176.7 227.4 176.1 225.2 175.5 223.1 175.3 220.9 174.7 218.8 174.3 216.6 174.1 214.5 174.3 212.3 174.4 210.2 174.1 208.0Z" fill="#ff7f0e" fill-opacity="0.43"/><path d="M174.0 193.9 177.1 194.3 179.7 194.7 182.3 195.7 183.8 197.4 185.0 199.1 186.4 200.5 187.7 202.0 188.8 203.5 189.5 205.6 190.9 207.7 192.1 209.8 193.1 211.7 191.3 211.2 189.2 211.6 187.2 211.9 185.7 212.6 183.9 212.3 181.7 212.1 179.5 212.0 177.3 211.2 176.3 209.1 175.4 207.2 174.5 205.3 173.7 203.1 173.9 200.8 174.0 198.7 174.0 196.6Z" fill="#ff7f0e" fill-opacity="0.53"/><path d="M222.6 254.7 224.6 254.4 226.8 254.0 228.9 253.2 230.9 252.0 232.8 250.7 235.0 249.6 237.2 250.2 239.1 250.6 241.2 250.7 243.2 250.5 245.1 251.1 247.3 252.0 248.1 254.3 249.1 256.3 250.1 258.4 248.3 259.9 246.9 261.8 245.6 263.8 243.7 265.9 241.2 266.2 239.2 266.4 237.2 266.2 235.2 265.7 233.1 265.1 231.2 264.6 229.3 264.1 227.3 263.8 225.2 263.8 222.8 263.7 222.4 261.1 222.4 258.9 222.7 256.6Z" fill="#ff7f0e" fill-opacity="0.23"/><path d="M220.5 268.5 222.6 267.3 224.9 266.3 227.2 265.0 228.4 267.0 229.4 268.9 230.3 270.9 231.6 272.4 231.6 274.4 231.4 276.6 231.5 278.7 232.4 280.8 233.1 282.9 233.4 285.1 232.3 287.3 231.6 289.5 230.9 291.8 230.1 294.0 227.9 293.0 225.7 291.9 224.2 291.0 224.4 289.8 224.1 287.8 223.4 285.9 223.0 283.9 222.5 282.0 222.1 280.0 221.5 278.1 220.9 276.2 220.3 274.2 220.4 272.2 220.5 270.2Z" fill="#ff7f0e" fill-opacity="0.34"/><path d="M211.0 265.9 212.4 265.0 214.6 264.8 215.2 264.6 213.7 264.9 213.4 266.9 213.7 269.0 213.8 271.0 214.0 273.1 213.4 275.0 212.9 276.9 212.2 278.9 212.2 281.0 211.8 283.1 211.4 285.1 210.4 286.9 209.7 288.9 209.3 290.9 209.1 293.0 208.9 295.2 208.0 297.1 207.1 299.0 206.4 300.9 206.0 298.8 205.6 296.6 205.7 294.5 206.2 292.3 206.7 290.2 206.7 288.1 206.8 285.9 206.8 283.7 207.2 281.6 207.4 279.4 208.4 277.4 208.7 275.2 209.8 273.4 210.3 271.5 211.2 269.6 211.2 267.5Z" fill="#ff7f0e" fill-opacity="0.30"/><path d="M246.1 222.1 247.9 220.5 249.9 219.7 251.7 218.5 253.2 217.1 254.5 215.1 256.5 214.1 258.5 213.4 260.6 213.0 262.8 212.5 265.1 213.7 267.3 215.1 269.3 216.2 269.6 218.0 270.3 219.9 270.9 221.9 271.5 223.9 272.3 225.7 272.4 227.8 272.4 230.0 271.8 232.0 271.1 234.1 270.6 236.2 270.9 238.4 271.2 240.6 271.3 242.7 270.5 244.8 269.9 246.9 269.8 249.0 270.1 251.1 270.3 253.3 270.1 255.4 269.6 257.6 268.9 259.6 268.0 261.7 267.6 263.8 267.5 266.0 267.5 268.2 266.5 270.2 265.2 272.2 264.2 274.3 263.1 276.6 260.9 277.0 258.9 276.8 256.8 276.1 254.9 276.3 253.0 276.3 250.8 276.9 248.7 276.5 246.2 275.9 245.3 273.3 244.2 271.3 243.8 269.1 244.0 266.8 244.8 264.4 244.7 262.2 244.8 260.2 244.0 258.1 243.5 256.0 243.2 253.9 243.1 251.8 242.9 249.7 242.3 247.6 242.0 245.5 242.4 243.3 243.1 241.2 243.8 239.1 243.8 236.9 244.2 234.8 244.3 232.7 245.2 230.8 245.3 228.7 245.6 226.6 245.4 224.4Z" fill="#ff7f0e" fill-opacity="0.40"/><path d="M258.9 206.9 261.0 205.8 263.1 204.7 265.0 203.7 266.6 204.3 268.6 204.5 270.6 204.5 272.7 204.5 274.8 204.6 276.8 205.2 278.7 206.0 280.5 207.1 282.4 208.1 284.1 208.6 285.3 210.0 286.8 211.5 287.8 212.8 286.8 214.0 285.3 215.6 284.0 217.2 282.6 218.6 280.5 218.8 278.3 218.9 276.2 219.0 274.0 219.3 271.9 219.7 269.5 219.8 267.1 218.7 265.0 217.4 262.9 216.2 260.4 215.2 259.8 213.0 259.2 211.0 259.0 208.9Z" fill="#ff7f0e" fill-opacity="0.46"/><path d="M273.1 204.8 274.1 203.1 274.9 200.9 275.9 198.8 277.4 197.1 279.1 195.5 281.1 194.3 282.8 192.8 284.4 191.2 285.7 189.4 286.9 187.0 289.0 185.1 291.2 183.7 295.1 183.4 295.5 187.0 295.4 189.0 296.0 191.1 295.4 193.4 294.4 195.4 293.0 197.2 291.9 199.1 290.6 201.0 289.4 202.8 287.8 204.2 286.5 205.8 284.8 207.3 282.7 207.7 280.7 207.9 278.7 208.1 276.6 208.1 274.8 206.2Z" fill="#ff7f0e" fill-opacity="0.38"/><path d="M261.1 218.9 262.8 218.3 264.7 217.4 266.7 217.4 268.7 216.9 270.8 216.8 272.7 216.0 274.7 215.9 276.8 216.2 278.9 216.6 281.1 216.8 283.2 217.2 285.4 217.4 287.5 217.8 289.7 218.3 291.8 219.3 294.0 220.1 296.2 220.7 298.3 221.9 300.2 222.9 300.5 225.0 301.5 226.9 302.3 228.9 303.3 230.7 304.0 232.6 303.6 234.7 303.2 236.9 302.8 239.0 302.0 241.1 300.8 243.0 300.0 245.1 300.0 247.0 298.5 247.8 296.5 248.5 294.6 248.9 292.6 248.7 290.5 248.2 288.5 248.0 286.6 248.6 284.6 249.3 282.5 249.3 280.6 248.8 278.6 248.3 276.6 248.4 274.6 248.7 272.6 248.5 270.7 247.5 270.3 245.2 269.6 243.0 268.2 241.4 266.5 240.0 264.6 238.6 263.8 236.7 263.3 234.7 263.3 232.7 263.6 230.5 263.9 228.4 263.7 226.4 263.2 224.5 262.4 222.6 262.0 220.6Z" fill="#ff7f0e" fill-opacity="0.24"/><path d="M294.3 222.5 296.5 223.2 298.4 223.7 300.5 223.6 302.6 223.4 304.8 223.8 306.4 225.6 307.8 227.2 309.5 228.4 311.3 229.6 312.9 231.0 314.0 232.9 314.9 234.6 315.9 236.3 317.6 237.6 318.8 239.1 319.8 240.7 319.9 242.8 320.8 244.7 322.1 246.5 323.7 248.1 324.6 250.7 322.9 253.1 320.9 254.6 319.2 256.4 317.1 256.9 315.2 257.8 313.1 258.2 311.1 259.0 309.1 259.3 307.1 259.3 305.0 259.6 302.9 260.3 300.9 261.2 298.8 261.5 296.6 261.6 294.6 261.2 294.1 259.0 293.5 256.7 292.2 254.8 291.0 252.7 290.1 250.5 290.7 248.3 291.0 246.2 290.7 244.0 290.6 241.8 291.2 239.7 292.4 237.7 293.3 235.7 293.7 233.6 294.0 231.4 293.9 229.2 293.8 227.0 293.7 224.8Z" fill="#ff7f0e" fill-opacity="0.26"/><path d="M268.0 249.6 269.7 250.4 271.7 250.5 273.7 250.2 275.7 249.5 277.7 249.3 279.7 249.0 281.8 250.0 284.1 250.3 286.2 251.0 288.6 251.0 291.3 251.9 291.4 254.6 290.8 256.9 290.3 259.1 290.0 260.9 288.2 261.0 286.0 261.0 283.8 261.3 281.6 261.6 279.7 262.6 277.5 262.3 275.3 261.8 273.0 261.4 270.9 261.2 269.9 259.4 269.1 257.5 268.4 255.6 268.0 253.6 267.8 251.5Z" fill="#ff7f0e" fill-opacity="0.23"/></g><path d="M174.3 195.0C174.8 213.2 178.1 241.3 186.1 258.2M175.1 195.2C177.5 214.0 181.0 238.6 189.9 258.5M174.8 195.0C178.6 215.3 184.7 237.0 192.1 256.9M174.2 195.2C178.2 212.3 187.5 237.2 196.5 257.0M174.9 195.3C180.0 211.6 191.2 236.0 199.1 255.9M175.4 195.0C181.2 211.2 190.1 235.0 201.4 255.9M175.5 196.0C185.2 208.8 192.7 232.6 204.1 255.1M175.7 194.8C185.1 210.4 194.6 230.0 207.4 254.4M174.2 195.4C190.8 208.9 198.8 232.4 209.2 254.1M175.2 195.9C193.6 209.0 202.1 231.0 213.5 254.6M175.4 195.3C191.2 206.0 203.8 230.4 217.7 253.2M175.6 195.4C194.1 205.9 207.5 227.9 218.6 252.9M176.0 196.0C194.8 206.9 208.4 229.4 221.7 251.7M175.6 194.9C194.9 203.4 210.4 225.9 223.9 250.4M175.9 195.8C200.1 201.6 213.9 224.3 226.6 251.6M191.5 260.6C184.0 260.3 179.1 262.5 171.1 264.0M191.5 263.2C183.7 264.3 180.3 263.5 171.1 266.2M191.6 266.3C186.3 267.2 178.7 269.3 170.9 269.5M191.5 268.8C185.1 269.9 176.7 273.2 172.1 273.2M253.3 252.1C233.1 255.1 218.5 266.9 207.7 299.3M252.7 253.9C234.0 254.9 218.3 269.2 211.5 299.8M253.3 255.7C234.1 258.3 219.9 271.3 210.2 300.3M251.6 256.5C236.1 260.9 222.0 272.6 214.8 299.6M252.0 257.8C236.1 259.8 225.4 272.0 217.4 299.8M251.4 259.6C235.4 261.3 225.0 274.0 220.8 298.2M251.3 261.2C235.6 264.3 223.7 274.4 222.5 299.7M252.1 263.1C237.0 265.6 227.1 277.8 225.5 298.2M251.3 264.4C238.5 266.8 227.3 279.3 226.9 298.5M251.2 266.3C237.5 266.1 229.2 277.5 230.4 298.1M251.4 267.3C239.3 269.4 231.5 279.9 233.5 297.2M205.1 240.3C214.6 242.2 221.5 250.7 238.6 252.5M206.9 243.9C215.7 246.3 226.5 248.6 239.2 256.1M208.7 247.0C216.1 249.7 225.3 253.4 240.5 258.9M210.2 250.6C218.7 254.4 225.9 258.7 241.0 260.4M254.8 215.6C251.2 234.7 246.1 253.4 245.5 272.6M258.4 216.7C254.4 236.0 249.6 254.7 247.3 274.5M261.2 218.0C256.8 237.7 251.7 255.7 249.7 275.4M263.8 219.6C260.2 238.4 254.9 254.1 254.1 274.5M266.9 221.4C264.0 237.6 258.8 255.0 255.9 274.9M269.8 222.0C267.7 236.8 264.3 256.5 260.7 276.3M272.7 224.2C270.2 240.3 266.5 257.5 262.8 276.1M282.1 186.5C273.9 199.5 262.2 209.7 252.1 227.0M284.1 186.7C276.5 199.7 264.1 210.3 254.4 227.6M286.3 186.6C278.6 198.4 267.8 210.9 257.0 227.4M287.4 186.7C282.3 200.5 270.8 209.1 257.9 225.7M290.6 186.2C281.9 197.7 273.1 210.2 261.2 226.6M292.0 186.1C284.8 198.3 274.4 209.9 264.5 225.8M292.4 186.9C288.4 200.1 276.4 210.8 265.3 228.1M295.3 186.3C292.3 199.7 279.7 215.0 268.6 228.2M297.3 186.3C291.1 199.2 283.7 211.4 271.6 226.7M322.3 250.2C314.8 222.3 281.4 214.0 254.6 234.6M322.2 250.5C315.9 222.5 282.2 216.5 254.5 235.1M322.5 250.7C316.4 226.5 283.3 219.8 255.0 236.8M322.2 250.1C314.2 229.7 281.4 220.4 255.3 236.2M322.0 251.2C313.8 230.3 281.2 223.7 255.3 238.3M321.8 250.8C312.4 233.4 280.7 226.0 257.1 239.1M322.5 250.5C313.7 233.5 281.9 228.9 257.8 239.6M321.9 251.5C312.7 236.6 282.4 231.3 256.3 243.2M322.7 251.5C311.9 236.6 280.5 236.0 257.7 243.4M322.1 251.4C314.0 239.1 283.9 234.6 258.7 245.2M322.5 250.8C310.1 242.4 282.9 238.5 259.2 245.9M322.1 251.7C312.8 242.9 283.5 240.8 258.4 247.0M322.5 252.2C312.3 247.3 282.7 243.6 260.0 248.6M322.8 251.7C309.6 247.9 284.3 245.4 259.2 249.8M322.1 252.5C312.7 251.7 283.4 248.5 262.1 251.8M322.3 251.7C310.6 250.3 283.8 249.8 258.7 253.0M321.9 252.1C309.8 253.5 281.1 253.6 261.1 254.7M321.4 252.2C310.2 254.8 285.1 256.6 260.6 254.8M322.5 252.6C308.2 258.4 283.5 257.2 261.3 257.3" fill="none" stroke="#000" stroke-width="0.8"/><path d="M178.9 235.3L176.6 232.1L179.9 231.5ZM178.7 219.6L176.4 216.3L179.7 215.8ZM183.2 230.1L180.6 227.1L183.8 226.2ZM186.2 232.5L183.4 229.7L186.5 228.5ZM189.1 231.8L186.2 229.1L189.3 227.8ZM184.8 219.8L181.9 217.1L185.0 215.9ZM187.7 218.4L184.6 215.8L187.7 214.4ZM190.1 220.9L186.9 218.5L189.9 216.9ZM196.1 225.8L193.0 223.4L196.0 221.9ZM192.1 213.6L188.7 211.7L191.4 209.7ZM199.6 223.2L196.2 221.2L199.0 219.3ZM202.9 223.1L199.5 221.0L202.2 219.1ZM204.9 225.0L201.4 223.0L204.1 221.1ZM194.3 208.2L190.5 206.9L192.8 204.5ZM210.9 222.7L207.4 220.8L210.2 218.8ZM177.7 262.5L180.8 260.1L181.6 263.4ZM176.7 264.8L180.0 262.6L180.5 265.9ZM174.7 269.3L178.0 267.2L178.5 270.5ZM172.5 273.3L175.7 271.1L176.3 274.4ZM222.3 269.9L223.3 266.1L225.9 268.3ZM217.2 281.8L217.3 277.9L220.3 279.3ZM221.3 276.6L222.0 272.7L224.8 274.6ZM226.2 274.2L227.1 270.3L229.8 272.4ZM228.2 273.9L228.9 270.0L231.6 271.9ZM229.5 273.3L230.3 269.4L233.0 271.4ZM230.1 273.7L231.2 269.9L233.7 272.0ZM231.9 276.4L232.7 272.5L235.4 274.5ZM229.4 284.3L229.3 280.3L232.4 281.7ZM230.7 287.7L229.6 283.8L232.9 284.4ZM235.6 279.2L236.0 275.2L238.9 276.9ZM217.2 245.5L213.2 245.3L214.8 242.3ZM228.7 250.8L224.7 251.0L226.0 247.9ZM224.3 252.9L220.3 253.2L221.5 250.1ZM224.6 256.8L220.6 257.1L221.8 254.0ZM247.0 256.2L245.8 252.4L249.2 252.9ZM248.8 263.8L247.7 260.0L251.0 260.6ZM250.5 268.9L249.3 265.1L252.6 265.6ZM255.2 261.6L254.0 257.8L257.4 258.2ZM258.2 261.5L257.3 257.6L260.6 258.3ZM264.3 256.2L263.2 252.4L266.5 252.9ZM263.7 271.5L262.8 267.6L266.1 268.3ZM273.6 198.1L274.5 194.2L277.1 196.3ZM271.7 203.5L272.7 199.7L275.3 201.8ZM271.3 207.2L272.1 203.3L274.8 205.3ZM280.1 199.6L280.8 195.7L283.6 197.6ZM276.6 205.3L277.3 201.4L280.0 203.4ZM276.9 207.8L277.6 203.9L280.4 205.9ZM281.8 205.5L282.6 201.6L285.3 203.6ZM284.0 208.7L284.6 204.8L287.4 206.7ZM290.5 199.2L290.8 195.2L293.7 196.9ZM298.6 224.9L302.6 224.6L301.4 227.8ZM305.2 228.3L309.2 228.6L307.5 231.6ZM290.6 227.4L294.3 226.1L294.0 229.4ZM301.3 231.2L305.2 231.1L303.9 234.2ZM297.6 231.9L301.6 231.3L300.6 234.5ZM285.0 232.4L288.7 230.9L288.5 234.3ZM289.4 233.9L293.2 232.6L292.9 235.9ZM286.2 236.7L289.8 235.1L289.7 238.4ZM296.9 239.3L300.7 238.2L300.2 241.5ZM298.1 239.8L302.0 238.8L301.4 242.1ZM291.4 242.1L295.1 240.7L294.9 244.1ZM297.7 243.8L301.4 242.5L301.1 245.9ZM301.1 247.1L304.8 245.9L304.4 249.3ZM298.2 247.8L301.9 246.4L301.7 249.8ZM304.1 251.0L307.8 249.6L307.5 252.9ZM298.8 250.6L302.5 249.0L302.4 252.3ZM285.5 253.8L289.1 252.0L289.2 255.3ZM287.8 255.5L291.4 253.7L291.5 257.0ZM293.2 257.1L296.7 255.3L296.9 258.7Z" fill="#000"/><g filter="url(#st)"><path d="M80.2 371.9 81.8 371.1 83.4 369.8 85.2 368.9 87.1 369.1 88.9 369.3 90.7 368.7 92.4 367.9 94.3 367.6 96.1 368.1 97.9 368.7 99.7 368.7 101.5 368.7 103.5 368.8 104.1 371.0 104.8 373.1 105.0 375.3 103.7 376.8 102.5 378.3 101.5 379.8 100.2 381.2 99.1 382.9 97.7 384.2 96.9 385.9 96.0 387.4 95.1 389.0 94.1 390.3 92.5 389.7 90.8 389.0 89.1 388.3 87.4 388.1 85.2 388.0 82.9 388.3 80.7 387.9 80.2 386.1 80.2 384.2 79.7 382.4 79.2 380.7 79.2 378.9 79.1 377.1 79.3 375.3 79.7 373.5Z" fill="#990bc4" fill-opacity="0.78"/><path d="M104.3 363.8 104.6 362.1 105.2 360.0 105.6 358.0 106.8 356.4 108.8 354.9 111.0 353.7 112.7 352.1 114.5 350.9 116.1 349.4 117.8 349.3 119.6 348.9 121.6 348.7 123.1 351.1 124.3 353.5 125.2 355.5 126.2 357.4 127.3 359.1 127.5 360.8 128.3 362.6 129.0 364.9 127.7 367.5 126.1 369.2 124.3 370.8 122.6 371.9 120.8 372.9 119.2 374.0 117.7 375.2 116.1 376.6 114.3 377.8 112.5 378.9 110.5 379.7 108.8 378.8 107.1 377.6 105.4 376.9 105.2 375.1 104.7 373.3 104.7 371.4 104.4 369.7 104.6 367.7 104.5 365.6Z" fill="#9d0dae" fill-opacity="0.73"/><path d="M76.2 347.3 78.9 347.3 80.7 347.5 82.5 347.7 84.3 347.3 86.1 347.5 87.9 348.2 89.9 348.9 91.7 348.0 93.2 346.9 94.7 345.9 96.5 345.3 98.2 344.8 100.1 344.4 101.9 344.0 103.1 343.6 104.2 344.5 105.9 345.6 107.6 346.5 109.0 347.9 109.6 349.9 110.1 351.8 110.7 353.6 111.4 355.4 112.0 357.2 110.8 358.7 110.1 360.4 109.5 362.3 109.7 364.5 109.1 366.6 106.9 367.3 104.7 367.5 102.6 368.0 100.8 369.1 98.8 369.8 96.9 369.7 94.9 369.6 93.0 369.6 91.0 370.1 89.1 370.2 87.2 370.5 85.1 370.2 83.3 368.9 81.5 367.7 79.6 366.7 77.5 365.6 77.4 363.4 77.4 361.5 76.9 359.6 76.6 357.7 76.5 355.8 77.0 353.9 76.9 352.0 76.5 350.1Z" fill="#b41f00" fill-opacity="0.79"/><path d="M74.6 326.6 77.4 326.2 79.3 326.6 81.3 327.2 83.2 328.1 85.2 328.5 87.0 328.6 88.8 328.6 90.6 328.8 92.5 329.1 93.9 329.2 95.4 330.4 97.4 331.3 99.6 331.8 101.8 332.5 103.1 334.0 103.9 335.7 104.6 337.4 105.2 339.2 106.0 340.9 104.6 342.0 103.3 343.3 101.9 344.4 100.7 345.8 99.5 347.2 98.3 348.9 96.3 349.7 94.4 349.6 92.6 349.7 90.6 349.1 88.7 349.0 87.0 348.7 85.1 348.5 83.2 348.4 81.2 348.2 79.2 348.2 77.7 348.3 77.1 347.0 76.6 345.0 76.0 343.0 75.8 341.0 75.3 339.1 74.9 337.1 74.7 335.2 74.9 333.2 75.0 331.2 74.7 329.3Z" fill="#bb2800" fill-opacity="0.68"/><path d="M74.6 316.3 77.5 316.7 79.8 317.1 82.2 318.0 83.6 319.6 84.7 321.1 86.0 322.4 87.2 323.8 88.1 325.1 88.8 327.1 90.0 328.9 91.2 330.9 92.1 332.6 90.4 332.2 88.6 332.5 86.7 332.8 85.3 333.4 83.7 333.1 81.7 333.0 79.6 332.9 77.6 332.2 76.7 330.2 75.9 328.5 75.1 326.7 74.3 324.8 74.6 322.7 74.6 320.8 74.6 318.8Z" fill="#d85f00" fill-opacity="0.70"/><path d="M119.1 371.9 120.9 371.7 122.9 371.3 124.8 370.6 126.6 369.5 128.4 368.2 130.4 367.3 132.4 367.8 134.2 368.2 136.0 368.2 137.9 368.1 139.7 368.7 141.6 369.5 142.4 371.6 143.3 373.4 144.2 375.3 142.5 376.7 141.3 378.5 140.1 380.3 138.4 382.2 136.0 382.5 134.2 382.6 132.4 382.5 130.5 382.0 128.7 381.4 126.9 381.0 125.2 380.5 123.3 380.3 121.4 380.3 119.2 380.1 118.9 377.8 118.9 375.8 119.2 373.7Z" fill="#8b06f2" fill-opacity="0.73"/><path d="M117.2 384.5 119.0 383.5 121.1 382.5 123.3 381.3 124.4 383.2 125.3 384.9 126.1 386.7 127.3 388.1 127.2 390.0 127.1 391.9 127.2 393.9 128.0 395.8 128.7 397.7 128.9 399.7 127.9 401.7 127.3 403.8 126.6 405.8 125.9 407.8 123.9 407.0 121.9 405.9 120.5 405.1 120.7 404.0 120.4 402.2 119.8 400.4 119.4 398.6 118.9 396.9 118.6 395.1 118.1 393.3 117.5 391.6 116.9 389.8 117.1 388.0 117.1 386.1Z" fill="#8b06f2" fill-opacity="0.79"/><path d="M108.4 382.1 109.8 381.4 111.7 381.2 112.3 381.0 110.9 381.3 110.7 383.1 111.0 385.0 111.0 386.9 111.2 388.7 110.7 390.5 110.2 392.3 109.6 394.0 109.5 396.0 109.2 397.8 108.8 399.7 107.9 401.4 107.3 403.2 106.9 405.0 106.7 407.0 106.6 408.9 105.7 410.7 104.9 412.4 104.2 414.2 103.9 412.2 103.5 410.3 103.6 408.3 104.1 406.3 104.5 404.4 104.5 402.4 104.6 400.5 104.6 398.5 105.0 396.5 105.2 394.5 106.0 392.7 106.3 390.7 107.3 389.0 107.8 387.2 108.6 385.5 108.6 383.6Z" fill="#bd2a00" fill-opacity="0.70"/><path d="M140.5 342.2 142.2 340.7 144.0 339.9 145.6 338.8 147.0 337.5 148.2 335.7 150.1 334.9 151.9 334.2 153.8 333.8 155.8 333.3 157.9 334.5 159.9 335.8 161.8 336.7 162.0 338.4 162.7 340.1 163.2 342.0 163.8 343.8 164.5 345.4 164.6 347.3 164.6 349.3 164.0 351.2 163.4 353.1 163.0 355.0 163.2 357.0 163.4 359.0 163.5 361.0 162.9 362.9 162.3 364.8 162.2 366.7 162.5 368.7 162.6 370.6 162.5 372.6 162.0 374.5 161.4 376.5 160.6 378.3 160.2 380.3 160.1 382.3 160.1 384.2 159.2 386.1 158.0 387.9 157.1 389.9 156.1 391.9 154.1 392.3 152.2 392.1 150.3 391.5 148.6 391.6 146.8 391.7 144.8 392.2 142.9 391.9 140.7 391.3 139.8 388.9 138.8 387.1 138.4 385.1 138.6 383.0 139.3 380.8 139.3 378.8 139.4 376.9 138.6 375.0 138.2 373.1 137.9 371.2 137.8 369.3 137.6 367.4 137.1 365.5 136.8 363.5 137.2 361.5 137.8 359.6 138.4 357.6 138.4 355.7 138.8 353.7 138.9 351.8 139.7 350.1 139.8 348.2 140.1 346.3 139.9 344.2Z" fill="#8b06f2" fill-opacity="0.58"/><path d="M152.2 328.2 154.1 327.2 156.1 326.3 157.8 325.3 159.2 325.9 161.1 326.0 163.0 326.0 164.9 326.0 166.7 326.1 168.6 326.7 170.3 327.4 172.0 328.5 173.7 329.3 175.3 329.7 176.4 331.0 177.7 332.5 178.7 333.6 177.7 334.8 176.4 336.1 175.2 337.6 173.9 339.0 171.9 339.1 170.0 339.2 168.0 339.3 166.1 339.5 164.1 339.9 161.9 340.1 159.7 339.0 157.8 337.9 155.9 336.7 153.6 335.8 153.0 333.8 152.5 332.0 152.3 330.1Z" fill="#990bc4" fill-opacity="0.73"/><path d="M165.2 326.3 166.2 324.8 166.9 322.8 167.8 320.8 169.2 319.3 170.7 317.8 172.6 316.7 174.1 315.4 175.5 313.9 176.7 312.2 177.8 310.1 179.8 308.3 181.7 307.1 185.4 306.7 185.7 310.0 185.6 311.9 186.1 313.8 185.6 315.9 184.7 317.8 183.5 319.4 182.4 321.1 181.2 322.8 180.1 324.5 178.7 325.7 177.5 327.3 175.9 328.6 174.0 329.0 172.2 329.2 170.3 329.3 168.4 329.4 166.8 327.6Z" fill="#bd2a00" fill-opacity="0.70"/><path d="M154.2 339.2 155.8 338.7 157.5 337.8 159.4 337.8 161.2 337.4 163.1 337.3 164.8 336.6 166.7 336.4 168.6 336.7 170.5 337.1 172.5 337.3 174.5 337.6 176.5 337.8 178.4 338.2 180.4 338.7 182.3 339.5 184.3 340.3 186.4 340.8 188.2 341.9 190.0 342.9 190.2 344.8 191.2 346.5 191.9 348.3 192.9 350.0 193.4 351.8 193.1 353.6 192.8 355.6 192.4 357.6 191.6 359.5 190.5 361.2 189.8 363.1 189.8 364.9 188.4 365.6 186.6 366.3 184.8 366.6 183.0 366.4 181.2 366.0 179.3 365.8 177.5 366.3 175.7 367.0 173.8 367.0 172.1 366.5 170.3 366.1 168.4 366.2 166.6 366.4 164.8 366.3 163.0 365.4 162.6 363.2 162.0 361.3 160.8 359.8 159.2 358.5 157.5 357.2 156.7 355.5 156.3 353.7 156.3 351.8 156.6 349.9 156.8 347.9 156.6 346.1 156.1 344.3 155.5 342.5 155.0 340.7Z" fill="#8b06f2" fill-opacity="0.77"/><path d="M184.6 342.5 186.6 343.1 188.4 343.6 190.3 343.5 192.2 343.3 194.2 343.7 195.6 345.3 196.9 346.8 198.5 347.9 200.1 349.0 201.6 350.2 202.6 352.0 203.4 353.6 204.4 355.1 205.9 356.3 207.0 357.7 207.9 359.2 208.0 361.0 208.9 362.8 210.0 364.4 211.5 365.9 212.3 368.3 210.7 370.5 208.9 371.9 207.4 373.5 205.5 373.9 203.7 374.8 201.8 375.1 199.9 375.8 198.1 376.1 196.3 376.1 194.4 376.4 192.5 377.0 190.6 377.9 188.7 378.2 186.7 378.3 184.9 377.8 184.5 375.8 183.9 373.8 182.6 372.0 181.6 370.1 180.7 368.1 181.3 366.1 181.6 364.1 181.3 362.1 181.3 360.2 181.8 358.2 182.9 356.4 183.6 354.6 184.1 352.6 184.3 350.7 184.2 348.6 184.1 346.6 184.0 344.6Z" fill="#9008e6" fill-opacity="0.82"/><path d="M160.5 367.3 162.1 368.0 164.0 368.1 165.8 367.9 167.6 367.1 169.4 367.0 171.3 366.7 173.2 367.6 175.3 367.9 177.2 368.5 179.4 368.6 181.8 369.3 182.0 371.9 181.4 373.9 180.9 376.0 180.7 377.6 179.0 377.7 177.0 377.7 175.0 377.9 173.0 378.3 171.2 379.1 169.3 378.9 167.2 378.5 165.2 378.0 163.2 377.9 162.3 376.3 161.6 374.5 160.9 372.8 160.5 370.9 160.4 369.0Z" fill="#8b06f2" fill-opacity="0.73"/></g><g filter="url(#st2)"><path d="M80.2 371.9 81.8 371.1 83.4 369.8 85.2 368.9 87.1 369.1 88.9 369.3 90.7 368.7 92.4 367.9 94.3 367.6 96.1 368.1 97.9 368.7 99.7 368.7 101.5 368.7 103.5 368.8 104.1 371.0 104.8 373.1 105.0 375.3 103.7 376.8 102.5 378.3 101.5 379.8 100.2 381.2 99.1 382.9 97.7 384.2 96.9 385.9 96.0 387.4 95.1 389.0 94.1 390.3 92.5 389.7 90.8 389.0 89.1 388.3 87.4 388.1 85.2 388.0 82.9 388.3 80.7 387.9 80.2 386.1 80.2 384.2 79.7 382.4 79.2 380.7 79.2 378.9 79.1 377.1 79.3 375.3 79.7 373.5Z" fill="#bd2a00" fill-opacity="0.53"/><path d="M104.3 363.8 104.6 362.1 105.2 360.0 105.6 358.0 106.8 356.4 108.8 354.9 111.0 353.7 112.7 352.1 114.5 350.9 116.1 349.4 117.8 349.3 119.6 348.9 121.6 348.7 123.1 351.1 124.3 353.5 125.2 355.5 126.2 357.4 127.3 359.1 127.5 360.8 128.3 362.6 129.0 364.9 127.7 367.5 126.1 369.2 124.3 370.8 122.6 371.9 120.8 372.9 119.2 374.0 117.7 375.2 116.1 376.6 114.3 377.8 112.5 378.9 110.5 379.7 108.8 378.8 107.1 377.6 105.4 376.9 105.2 375.1 104.7 373.3 104.7 371.4 104.4 369.7 104.6 367.7 104.5 365.6Z" fill="#b41f00" fill-opacity="0.31"/><path d="M76.2 347.3 78.9 347.3 80.7 347.5 82.5 347.7 84.3 347.3 86.1 347.5 87.9 348.2 89.9 348.9 91.7 348.0 93.2 346.9 94.7 345.9 96.5 345.3 98.2 344.8 100.1 344.4 101.9 344.0 103.1 343.6 104.2 344.5 105.9 345.6 107.6 346.5 109.0 347.9 109.6 349.9 110.1 351.8 110.7 353.6 111.4 355.4 112.0 357.2 110.8 358.7 110.1 360.4 109.5 362.3 109.7 364.5 109.1 366.6 106.9 367.3 104.7 367.5 102.6 368.0 100.8 369.1 98.8 369.8 96.9 369.7 94.9 369.6 93.0 369.6 91.0 370.1 89.1 370.2 87.2 370.5 85.1 370.2 83.3 368.9 81.5 367.7 79.6 366.7 77.5 365.6 77.4 363.4 77.4 361.5 76.9 359.6 76.6 357.7 76.5 355.8 77.0 353.9 76.9 352.0 76.5 350.1Z" fill="#990bc4" fill-opacity="0.47"/><path d="M74.6 326.6 77.4 326.2 79.3 326.6 81.3 327.2 83.2 328.1 85.2 328.5 87.0 328.6 88.8 328.6 90.6 328.8 92.5 329.1 93.9 329.2 95.4 330.4 97.4 331.3 99.6 331.8 101.8 332.5 103.1 334.0 103.9 335.7 104.6 337.4 105.2 339.2 106.0 340.9 104.6 342.0 103.3 343.3 101.9 344.4 100.7 345.8 99.5 347.2 98.3 348.9 96.3 349.7 94.4 349.6 92.6 349.7 90.6 349.1 88.7 349.0 87.0 348.7 85.1 348.5 83.2 348.4 81.2 348.2 79.2 348.2 77.7 348.3 77.1 347.0 76.6 345.0 76.0 343.0 75.8 341.0 75.3 339.1 74.9 337.1 74.7 335.2 74.9 333.2 75.0 331.2 74.7 329.3Z" fill="#a11095" fill-opacity="0.29"/><path d="M74.6 316.3 77.5 316.7 79.8 317.1 82.2 318.0 83.6 319.6 84.7 321.1 86.0 322.4 87.2 323.8 88.1 325.1 88.8 327.1 90.0 328.9 91.2 330.9 92.1 332.6 90.4 332.2 88.6 332.5 86.7 332.8 85.3 333.4 83.7 333.1 81.7 333.0 79.6 332.9 77.6 332.2 76.7 330.2 75.9 328.5 75.1 326.7 74.3 324.8 74.6 322.7 74.6 320.8 74.6 318.8Z" fill="#be2c00" fill-opacity="0.42"/><path d="M119.1 371.9 120.9 371.7 122.9 371.3 124.8 370.6 126.6 369.5 128.4 368.2 130.4 367.3 132.4 367.8 134.2 368.2 136.0 368.2 137.9 368.1 139.7 368.7 141.6 369.5 142.4 371.6 143.3 373.4 144.2 375.3 142.5 376.7 141.3 378.5 140.1 380.3 138.4 382.2 136.0 382.5 134.2 382.6 132.4 382.5 130.5 382.0 128.7 381.4 126.9 381.0 125.2 380.5 123.3 380.3 121.4 380.3 119.2 380.1 118.9 377.8 118.9 375.8 119.2 373.7Z" fill="#a11095" fill-opacity="0.31"/><path d="M117.2 384.5 119.0 383.5 121.1 382.5 123.3 381.3 124.4 383.2 125.3 384.9 126.1 386.7 127.3 388.1 127.2 390.0 127.1 391.9 127.2 393.9 128.0 395.8 128.7 397.7 128.9 399.7 127.9 401.7 127.3 403.8 126.6 405.8 125.9 407.8 123.9 407.0 121.9 405.9 120.5 405.1 120.7 404.0 120.4 402.2 119.8 400.4 119.4 398.6 118.9 396.9 118.6 395.1 118.1 393.3 117.5 391.6 116.9 389.8 117.1 388.0 117.1 386.1Z" fill="#b72300" fill-opacity="0.47"/><path d="M108.4 382.1 109.8 381.4 111.7 381.2 112.3 381.0 110.9 381.3 110.7 383.1 111.0 385.0 111.0 386.9 111.2 388.7 110.7 390.5 110.2 392.3 109.6 394.0 109.5 396.0 109.2 397.8 108.8 399.7 107.9 401.4 107.3 403.2 106.9 405.0 106.7 407.0 106.6 408.9 105.7 410.7 104.9 412.4 104.2 414.2 103.9 412.2 103.5 410.3 103.6 408.3 104.1 406.3 104.5 404.4 104.5 402.4 104.6 400.5 104.6 398.5 105.0 396.5 105.2 394.5 106.0 392.7 106.3 390.7 107.3 389.0 107.8 387.2 108.6 385.5 108.6 383.6Z" fill="#9209df" fill-opacity="0.42"/><path d="M140.5 342.2 142.2 340.7 144.0 339.9 145.6 338.8 147.0 337.5 148.2 335.7 150.1 334.9 151.9 334.2 153.8 333.8 155.8 333.3 157.9 334.5 159.9 335.8 161.8 336.7 162.0 338.4 162.7 340.1 163.2 342.0 163.8 343.8 164.5 345.4 164.6 347.3 164.6 349.3 164.0 351.2 163.4 353.1 163.0 355.0 163.2 357.0 163.4 359.0 163.5 361.0 162.9 362.9 162.3 364.8 162.2 366.7 162.5 368.7 162.6 370.6 162.5 372.6 162.0 374.5 161.4 376.5 160.6 378.3 160.2 380.3 160.1 382.3 160.1 384.2 159.2 386.1 158.0 387.9 157.1 389.9 156.1 391.9 154.1 392.3 152.2 392.1 150.3 391.5 148.6 391.6 146.8 391.7 144.8 392.2 142.9 391.9 140.7 391.3 139.8 388.9 138.8 387.1 138.4 385.1 138.6 383.0 139.3 380.8 139.3 378.8 139.4 376.9 138.6 375.0 138.2 373.1 137.9 371.2 137.8 369.3 137.6 367.4 137.1 365.5 136.8 363.5 137.2 361.5 137.8 359.6 138.4 357.6 138.4 355.7 138.8 353.7 138.9 351.8 139.7 350.1 139.8 348.2 140.1 346.3 139.9 344.2Z" fill="#990bc4" fill-opacity="0.25"/><path d="M152.2 328.2 154.1 327.2 156.1 326.3 157.8 325.3 159.2 325.9 161.1 326.0 163.0 326.0 164.9 326.0 166.7 326.1 168.6 326.7 170.3 327.4 172.0 328.5 173.7 329.3 175.3 329.7 176.4 331.0 177.7 332.5 178.7 333.6 177.7 334.8 176.4 336.1 175.2 337.6 173.9 339.0 171.9 339.1 170.0 339.2 168.0 339.3 166.1 339.5 164.1 339.9 161.9 340.1 159.7 339.0 157.8 337.9 155.9 336.7 153.6 335.8 153.0 333.8 152.5 332.0 152.3 330.1Z" fill="#b41f00" fill-opacity="0.31"/><path d="M165.2 326.3 166.2 324.8 166.9 322.8 167.8 320.8 169.2 319.3 170.7 317.8 172.6 316.7 174.1 315.4 175.5 313.9 176.7 312.2 177.8 310.1 179.8 308.3 181.7 307.1 185.4 306.7 185.7 310.0 185.6 311.9 186.1 313.8 185.6 315.9 184.7 317.8 183.5 319.4 182.4 321.1 181.2 322.8 180.1 324.5 178.7 325.7 177.5 327.3 175.9 328.6 174.0 329.0 172.2 329.2 170.3 329.3 168.4 329.4 166.8 327.6Z" fill="#9209df" fill-opacity="0.42"/><path d="M154.2 339.2 155.8 338.7 157.5 337.8 159.4 337.8 161.2 337.4 163.1 337.3 164.8 336.6 166.7 336.4 168.6 336.7 170.5 337.1 172.5 337.3 174.5 337.6 176.5 337.8 178.4 338.2 180.4 338.7 182.3 339.5 184.3 340.3 186.4 340.8 188.2 341.9 190.0 342.9 190.2 344.8 191.2 346.5 191.9 348.3 192.9 350.0 193.4 351.8 193.1 353.6 192.8 355.6 192.4 357.6 191.6 359.5 190.5 361.2 189.8 363.1 189.8 364.9 188.4 365.6 186.6 366.3 184.8 366.6 183.0 366.4 181.2 366.0 179.3 365.8 177.5 366.3 175.7 367.0 173.8 367.0 172.1 366.5 170.3 366.1 168.4 366.2 166.6 366.4 164.8 366.3 163.0 365.4 162.6 363.2 162.0 361.3 160.8 359.8 159.2 358.5 157.5 357.2 156.7 355.5 156.3 353.7 156.3 351.8 156.6 349.9 156.8 347.9 156.6 346.1 156.1 344.3 155.5 342.5 155.0 340.7Z" fill="#9d0dae" fill-opacity="0.33"/><path d="M184.6 342.5 186.6 343.1 188.4 343.6 190.3 343.5 192.2 343.3 194.2 343.7 195.6 345.3 196.9 346.8 198.5 347.9 200.1 349.0 201.6 350.2 202.6 352.0 203.4 353.6 204.4 355.1 205.9 356.3 207.0 357.7 207.9 359.2 208.0 361.0 208.9 362.8 210.0 364.4 211.5 365.9 212.3 368.3 210.7 370.5 208.9 371.9 207.4 373.5 205.5 373.9 203.7 374.8 201.8 375.1 199.9 375.8 198.1 376.1 196.3 376.1 194.4 376.4 192.5 377.0 190.6 377.9 188.7 378.2 186.7 378.3 184.9 377.8 184.5 375.8 183.9 373.8 182.6 372.0 181.6 370.1 180.7 368.1 181.3 366.1 181.6 364.1 181.3 362.1 181.3 360.2 181.8 358.2 182.9 356.4 183.6 354.6 184.1 352.6 184.3 350.7 184.2 348.6 184.1 346.6 184.0 344.6Z" fill="#b41f00" fill-opacity="0.35"/><path d="M160.5 367.3 162.1 368.0 164.0 368.1 165.8 367.9 167.6 367.1 169.4 367.0 171.3 366.7 173.2 367.6 175.3 367.9 177.2 368.5 179.4 368.6 181.8 369.3 182.0 371.9 181.4 373.9 180.9 376.0 180.7 377.6 179.0 377.7 177.0 377.7 175.0 377.9 173.0 378.3 171.2 379.1 169.3 378.9 167.2 378.5 165.2 378.0 163.2 377.9 162.3 376.3 161.6 374.5 160.9 372.8 160.5 370.9 160.4 369.0Z" fill="#a11095" fill-opacity="0.31"/></g><path d="M74.9 317.4C75.4 334.0 78.4 359.7 85.7 375.1M75.6 317.6C77.8 334.8 81.0 357.2 89.1 375.4M75.3 317.4C78.8 335.9 84.4 355.7 91.1 373.9M74.8 317.5C78.5 333.2 87.0 355.9 95.2 374.0M75.5 317.6C80.1 332.6 90.4 354.8 97.5 373.0M75.9 317.4C81.2 332.1 89.3 353.9 99.7 373.1M76.0 318.3C84.9 329.9 91.8 351.8 102.1 372.3M76.2 317.2C84.8 331.4 93.4 349.3 105.1 371.7M74.8 317.7C89.9 330.1 97.3 351.5 106.8 371.4M75.7 318.2C92.5 330.2 100.3 350.3 110.7 371.8M75.9 317.6C90.3 327.4 101.8 349.7 114.6 370.6M76.1 317.7C93.0 327.3 105.3 347.4 115.4 370.3M76.4 318.3C93.6 328.2 106.1 348.8 118.2 369.2M76.1 317.2C93.7 325.1 107.9 345.6 120.3 368.0M76.4 318.1C98.5 323.4 111.1 344.1 122.7 369.1M90.7 377.4C83.8 377.1 79.2 379.1 72.0 380.4M90.6 379.7C83.5 380.7 80.4 380.0 72.0 382.4M90.7 382.6C85.8 383.3 79.0 385.3 71.8 385.5M90.7 384.8C84.8 385.8 77.1 388.8 72.9 388.9M147.1 369.6C128.7 372.3 115.3 383.1 105.5 412.7M146.5 371.2C129.5 372.1 115.1 385.2 108.9 413.1M147.1 372.8C129.5 375.3 116.6 387.2 107.7 413.6M145.6 373.6C131.4 377.6 118.5 388.3 111.9 413.0M145.9 374.8C131.4 376.6 121.6 387.8 114.3 413.2M145.4 376.4C130.8 378.0 121.2 389.6 117.4 411.7M145.3 377.9C130.9 380.7 120.1 389.9 119.0 413.1M146.0 379.6C132.2 381.9 123.2 393.1 121.7 411.7M145.3 380.8C133.6 383.0 123.3 394.4 123.0 412.0M145.2 382.5C132.7 382.4 125.1 392.8 126.2 411.6M145.4 383.4C134.3 385.4 127.2 395.0 129.0 410.8M103.0 358.8C111.8 360.5 118.0 368.3 133.7 369.9M104.7 362.0C112.8 364.3 122.7 366.4 134.3 373.2M106.4 364.9C113.1 367.4 121.6 370.8 135.4 375.7M107.7 368.2C115.5 371.7 122.1 375.6 135.9 377.2M148.5 336.2C145.2 353.6 140.5 370.8 140.0 388.3M151.8 337.2C148.1 354.9 143.7 371.9 141.6 390.0M154.4 338.4C150.3 356.4 145.6 372.8 143.8 390.8M156.8 339.9C153.4 357.0 148.6 371.3 147.8 390.0M159.5 341.5C156.9 356.3 152.1 372.2 149.5 390.4M162.2 342.0C160.3 355.6 157.2 373.6 153.9 391.7M164.9 344.1C162.6 358.7 159.2 374.5 155.8 391.5M173.4 309.6C165.9 321.5 155.2 330.8 146.0 346.6M175.3 309.7C168.3 321.7 157.0 331.4 148.1 347.2M177.3 309.6C170.3 320.5 160.3 331.9 150.5 347.0M178.3 309.7C173.6 322.3 163.2 330.3 151.4 345.4M181.2 309.3C173.2 319.8 165.2 331.3 154.3 346.2M182.5 309.2C175.9 320.3 166.4 331.0 157.3 345.5M182.9 310.0C179.2 322.0 168.2 331.8 158.1 347.6M185.5 309.4C182.7 321.6 171.2 335.6 161.1 347.7M187.3 309.4C181.7 321.2 174.9 332.3 163.8 346.3M210.2 367.8C203.4 342.3 172.8 334.7 148.3 353.5M210.1 368.1C204.3 342.5 173.6 337.0 148.2 354.0M210.4 368.3C204.8 346.2 174.5 340.0 148.7 355.5M210.1 367.7C202.8 349.1 172.8 340.6 148.9 355.1M209.9 368.7C202.4 349.6 172.6 343.6 149.0 357.0M209.7 368.4C201.1 352.5 172.1 345.7 150.6 357.7M210.3 368.1C202.3 352.6 173.3 348.3 151.3 358.1M209.9 369.0C201.5 355.4 173.7 350.6 149.9 361.4M210.5 369.0C200.7 355.4 172.0 354.8 151.2 361.6M210.0 368.9C202.6 357.6 175.1 353.5 152.1 363.3M210.4 368.4C199.0 360.7 174.2 357.2 152.5 363.9M210.0 369.2C201.5 361.1 174.8 359.3 151.8 364.9M210.4 369.6C201.0 365.1 174.0 361.8 153.2 366.3M210.7 369.2C198.6 365.7 175.5 363.4 152.5 367.5M210.0 369.9C201.4 369.2 174.6 366.3 155.2 369.3M210.2 369.2C199.5 367.9 175.0 367.4 152.0 370.4M209.9 369.5C198.8 370.8 172.6 370.9 154.3 371.9M209.4 369.6C199.2 372.0 176.2 373.6 153.8 372.1M210.3 370.0C197.3 375.3 174.7 374.2 154.4 374.3" fill="none" stroke="#000" stroke-width="0.75"/><path d="M77.6 345.7L75.6 342.7L78.6 342.2ZM79.4 342.4L77.3 339.4L80.3 338.8ZM79.9 338.0L77.6 335.2L80.6 334.4ZM81.5 340.0L79.0 337.4L81.9 336.3ZM87.2 348.1L84.6 345.7L87.4 344.5ZM88.2 349.1L85.5 346.7L88.4 345.5ZM87.2 338.9L84.4 336.5L87.2 335.2ZM91.5 345.3L88.7 343.1L91.4 341.7ZM94.9 345.5L92.0 343.3L94.8 341.9ZM97.0 343.8L94.0 341.7L96.7 340.2ZM97.1 341.7L93.9 339.8L96.5 338.1ZM100.6 342.4L97.5 340.5L100.0 338.8ZM96.9 336.8L93.6 335.2L96.0 333.2ZM102.0 339.5L98.8 337.9L101.2 335.9ZM99.7 332.0L96.3 330.8L98.4 328.5ZM75.9 379.6L78.7 377.3L79.4 380.3ZM74.7 381.7L77.6 379.5L78.2 382.5ZM74.7 385.3L77.8 383.4L78.2 386.5ZM76.4 388.4L79.2 386.1L80.0 389.1ZM112.3 396.0L112.6 392.4L115.3 393.9ZM116.6 391.8L116.9 388.2L119.6 389.8ZM117.5 392.5L118.1 388.9L120.7 390.6ZM125.3 386.1L126.5 382.7L128.7 384.8ZM122.3 392.7L122.7 389.0L125.3 390.6ZM124.9 389.8L125.5 386.2L128.0 388.0ZM122.1 396.5L122.1 392.8L124.9 394.1ZM125.7 395.3L125.9 391.7L128.6 393.1ZM124.7 400.6L124.4 397.0L127.3 398.1ZM127.2 397.6L126.8 394.0L129.7 395.0ZM129.1 400.8L128.3 397.2L131.3 397.9ZM116.5 364.7L112.8 364.6L114.3 361.8ZM121.5 367.1L117.9 367.4L118.9 364.5ZM122.4 371.0L118.7 371.2L119.8 368.4ZM124.3 375.0L120.7 375.4L121.6 372.5ZM141.1 375.0L140.0 371.6L143.1 372.0ZM142.4 384.3L141.3 380.8L144.4 381.2ZM144.4 385.6L143.4 382.1L146.4 382.5ZM148.4 381.8L147.3 378.3L150.3 378.7ZM150.0 386.8L149.1 383.3L152.1 383.8ZM154.6 387.7L153.7 384.2L156.7 384.7ZM157.8 381.4L157.0 377.8L160.0 378.4ZM161.5 325.2L162.5 321.7L164.8 323.6ZM166.6 321.8L167.5 318.3L169.9 320.2ZM163.6 328.5L164.3 324.9L166.8 326.8ZM165.2 329.3L166.2 325.8L168.5 327.8ZM170.3 324.1L171.0 320.5L173.5 322.3ZM170.7 326.4L171.4 322.8L173.9 324.6ZM172.5 327.9L173.2 324.4L175.7 326.2ZM175.7 329.2L176.2 325.6L178.8 327.3ZM180.7 321.9L181.0 318.3L183.7 319.8ZM181.3 343.2L184.8 342.2L184.3 345.3ZM186.1 345.0L189.7 344.3L188.9 347.3ZM185.0 347.4L188.5 346.5L187.9 349.5ZM188.5 349.7L192.2 349.3L191.1 352.2ZM184.2 350.4L187.8 349.6L187.1 352.6ZM180.7 351.9L184.2 350.8L183.7 353.9ZM184.5 353.4L188.0 352.4L187.5 355.4ZM182.4 355.6L185.9 354.5L185.5 357.6ZM194.7 359.3L198.3 358.8L197.4 361.8ZM193.9 359.4L197.5 358.9L196.6 361.8ZM187.3 360.9L190.8 359.9L190.3 362.9ZM184.5 361.8L187.9 360.5L187.6 363.5ZM192.0 365.2L195.5 364.1L195.1 367.2ZM183.1 365.4L186.5 364.0L186.3 367.1ZM185.1 368.1L188.5 366.7L188.3 369.8ZM194.4 368.2L197.7 366.8L197.6 369.9ZM186.1 370.8L189.4 369.2L189.5 372.2ZM191.4 372.0L194.6 370.2L194.8 373.3ZM193.3 373.6L196.4 371.7L196.7 374.8Z" fill="#000"/><g filter="url(#st3)"><path d="M235.5 350.1 236.5 349.6 237.5 348.9 238.6 348.3 239.7 348.5 240.8 348.6 241.9 348.2 242.9 347.7 244.1 347.5 245.2 347.8 246.3 348.2 247.4 348.2 248.5 348.2 249.7 348.2 250.1 349.6 250.4 350.9 250.6 352.2 249.8 353.1 249.1 354.0 248.4 354.9 247.7 355.8 247.0 356.8 246.2 357.6 245.7 358.6 245.1 359.6 244.6 360.5 244.0 361.3 243.0 361.0 242.0 360.5 240.9 360.1 239.9 360.0 238.6 359.9 237.1 360.1 235.8 359.9 235.5 358.8 235.5 357.6 235.2 356.5 234.9 355.5 234.9 354.4 234.9 353.3 235.0 352.2 235.2 351.1Z" fill="#46307e" fill-opacity="0.8"/><path d="M250.2 345.2 250.4 344.1 250.7 342.9 250.9 341.6 251.7 340.7 252.9 339.8 254.3 339.1 255.3 338.1 256.4 337.3 257.3 336.4 258.4 336.4 259.5 336.1 260.7 336.0 261.6 337.5 262.3 338.9 262.8 340.2 263.5 341.3 264.1 342.4 264.3 343.4 264.7 344.5 265.2 345.9 264.4 347.4 263.4 348.5 262.3 349.4 261.3 350.1 260.2 350.7 259.2 351.4 258.3 352.1 257.4 353.0 256.3 353.7 255.2 354.4 254.0 354.8 252.9 354.3 251.9 353.6 250.8 353.1 250.7 352.1 250.4 351.0 250.4 349.8 250.3 348.8 250.4 347.6 250.3 346.3Z" fill="#482576" fill-opacity="0.8"/><path d="M233.1 335.2 234.7 335.1 235.8 335.3 236.9 335.4 238.0 335.2 239.1 335.3 240.2 335.7 241.4 336.1 242.5 335.6 243.4 335.0 244.4 334.3 245.4 334.0 246.5 333.6 247.6 333.4 248.7 333.1 249.4 332.9 250.1 333.5 251.1 334.1 252.2 334.7 253.0 335.6 253.4 336.7 253.7 337.9 254.1 339.0 254.5 340.1 254.8 341.2 254.1 342.1 253.7 343.2 253.3 344.3 253.4 345.6 253.1 346.9 251.7 347.4 250.4 347.5 249.1 347.7 248.0 348.4 246.8 348.9 245.6 348.8 244.5 348.7 243.3 348.7 242.1 349.0 240.9 349.1 239.7 349.3 238.5 349.1 237.4 348.3 236.3 347.6 235.2 347.0 233.9 346.3 233.8 345.0 233.8 343.8 233.5 342.7 233.3 341.5 233.3 340.3 233.6 339.2 233.5 338.0 233.3 336.9Z" fill="#45106a" fill-opacity="0.8"/><path d="M232.1 322.6 233.8 322.4 235.0 322.6 236.2 322.9 237.4 323.5 238.6 323.7 239.7 323.8 240.8 323.8 241.9 323.9 243.0 324.1 243.9 324.2 244.8 324.9 246.0 325.5 247.3 325.8 248.6 326.2 249.4 327.1 249.9 328.1 250.4 329.2 250.7 330.3 251.2 331.3 250.3 331.9 249.6 332.7 248.7 333.4 248.0 334.2 247.3 335.1 246.5 336.2 245.3 336.6 244.2 336.6 243.0 336.6 241.8 336.2 240.7 336.2 239.6 336.0 238.5 335.9 237.3 335.8 236.1 335.7 234.9 335.7 234.0 335.8 233.6 335.0 233.3 333.8 233.0 332.6 232.9 331.4 232.5 330.2 232.3 329.0 232.2 327.8 232.3 326.6 232.3 325.4 232.2 324.2Z" fill="#440a5e" fill-opacity="0.8"/><path d="M232.1 316.3 233.9 316.6 235.3 316.8 236.7 317.3 237.6 318.3 238.3 319.2 239.0 320.0 239.8 320.9 240.3 321.7 240.7 322.9 241.5 324.0 242.2 325.2 242.7 326.2 241.7 326.0 240.6 326.2 239.5 326.4 238.6 326.7 237.6 326.6 236.4 326.5 235.2 326.4 233.9 326.0 233.4 324.8 232.9 323.7 232.4 322.7 232.0 321.5 232.1 320.2 232.1 319.1 232.1 317.9Z" fill="#440154" fill-opacity="0.8"/><path d="M259.2 350.1 260.2 350.0 261.5 349.7 262.6 349.3 263.7 348.6 264.8 347.9 266.0 347.3 267.2 347.7 268.3 347.9 269.4 347.9 270.6 347.8 271.7 348.2 272.8 348.7 273.3 349.9 273.9 351.0 274.4 352.2 273.4 353.1 272.6 354.1 271.9 355.2 270.9 356.4 269.5 356.5 268.4 356.7 267.2 356.6 266.1 356.3 265.0 355.9 263.9 355.6 262.9 355.4 261.7 355.2 260.6 355.2 259.2 355.1 259.0 353.7 259.0 352.5 259.2 351.2Z" fill="#31688e" fill-opacity="0.8"/><path d="M258.0 357.8 259.1 357.2 260.4 356.6 261.7 355.8 262.4 357.0 262.9 358.0 263.4 359.1 264.1 360.0 264.1 361.1 264.0 362.3 264.1 363.5 264.6 364.7 265.0 365.8 265.1 367.0 264.5 368.3 264.1 369.5 263.7 370.7 263.3 372.0 262.1 371.4 260.9 370.8 260.0 370.3 260.1 369.6 260.0 368.5 259.6 367.5 259.3 366.4 259.1 365.3 258.9 364.2 258.5 363.2 258.2 362.1 257.8 361.0 257.9 359.9 258.0 358.8Z" fill="#472c7a" fill-opacity="0.8"/><path d="M252.7 356.3 253.5 355.9 254.7 355.8 255.0 355.6 254.2 355.8 254.0 356.9 254.2 358.1 254.3 359.2 254.3 360.4 254.0 361.4 253.7 362.5 253.4 363.6 253.3 364.8 253.2 365.9 252.9 367.0 252.4 368.0 252.0 369.1 251.7 370.3 251.6 371.4 251.5 372.6 251.0 373.7 250.5 374.7 250.1 375.8 249.9 374.6 249.7 373.4 249.8 372.2 250.0 371.1 250.3 369.9 250.3 368.7 250.3 367.5 250.3 366.3 250.6 365.1 250.7 363.9 251.2 362.7 251.4 361.6 252.0 360.5 252.3 359.5 252.8 358.4 252.8 357.3Z" fill="#433e85" fill-opacity="0.8"/><path d="M272.2 332.1 273.2 331.2 274.3 330.7 275.3 330.0 276.1 329.2 276.8 328.1 278.0 327.6 279.1 327.2 280.3 327.0 281.5 326.7 282.8 327.4 284.0 328.2 285.1 328.8 285.3 329.7 285.6 330.8 286.0 331.9 286.3 333.0 286.8 334.0 286.8 335.2 286.8 336.4 286.5 337.6 286.1 338.7 285.8 339.9 285.9 341.1 286.1 342.3 286.2 343.5 285.8 344.6 285.4 345.8 285.4 347.0 285.5 348.2 285.6 349.4 285.5 350.5 285.2 351.7 284.9 352.9 284.4 354.0 284.1 355.2 284.1 356.4 284.1 357.6 283.5 358.8 282.8 359.9 282.3 361.0 281.6 362.3 280.4 362.5 279.3 362.4 278.1 362.1 277.1 362.1 276.0 362.1 274.8 362.5 273.7 362.3 272.3 361.9 271.8 360.5 271.1 359.4 270.9 358.2 271.0 356.9 271.5 355.5 271.4 354.3 271.5 353.2 271.0 352.0 270.8 350.9 270.6 349.7 270.5 348.5 270.4 347.4 270.1 346.2 269.9 345.0 270.2 343.8 270.5 342.6 270.9 341.5 270.9 340.3 271.1 339.1 271.2 337.9 271.7 336.9 271.8 335.7 271.9 334.5 271.8 333.3Z" fill="#23898e" fill-opacity="0.8"/><path d="M279.3 323.6 280.4 323.0 281.7 322.4 282.7 321.8 283.6 322.2 284.7 322.3 285.8 322.2 287.0 322.2 288.1 322.3 289.2 322.6 290.3 323.1 291.3 323.7 292.3 324.2 293.3 324.5 294.0 325.3 294.8 326.2 295.4 326.9 294.8 327.6 294.0 328.4 293.2 329.3 292.4 330.1 291.3 330.2 290.1 330.2 288.9 330.3 287.7 330.5 286.5 330.7 285.2 330.8 283.9 330.1 282.7 329.4 281.5 328.8 280.1 328.2 279.8 327.0 279.5 325.9 279.4 324.7Z" fill="#3b528b" fill-opacity="0.8"/><path d="M287.2 322.4 287.8 321.5 288.2 320.3 288.7 319.1 289.6 318.2 290.5 317.3 291.7 316.6 292.6 315.8 293.5 314.9 294.2 313.8 294.8 312.6 296.0 311.5 297.2 310.7 299.4 310.5 299.7 312.5 299.6 313.7 299.9 314.8 299.6 316.1 299.0 317.2 298.3 318.2 297.6 319.3 296.9 320.3 296.2 321.3 295.4 322.1 294.6 323.0 293.7 323.8 292.5 324.1 291.4 324.2 290.3 324.2 289.1 324.3 288.1 323.2Z" fill="#414487" fill-opacity="0.8"/><path d="M280.5 330.3 281.5 329.9 282.5 329.4 283.7 329.4 284.8 329.2 285.9 329.1 286.9 328.7 288.1 328.6 289.3 328.7 290.4 329.0 291.6 329.1 292.8 329.3 294.0 329.4 295.2 329.6 296.4 329.9 297.6 330.5 298.8 330.9 300.0 331.2 301.2 331.9 302.3 332.5 302.4 333.6 303.0 334.7 303.4 335.8 304.0 336.8 304.3 337.9 304.1 339.0 303.9 340.2 303.7 341.4 303.2 342.6 302.6 343.6 302.2 344.8 302.2 345.9 301.3 346.3 300.2 346.7 299.1 346.9 298.0 346.8 296.9 346.5 295.8 346.4 294.7 346.7 293.6 347.1 292.4 347.1 291.3 346.8 290.3 346.6 289.1 346.6 288.0 346.8 286.9 346.7 285.8 346.2 285.6 344.9 285.3 343.7 284.5 342.8 283.5 342.0 282.5 341.2 282.0 340.1 281.8 339.0 281.8 337.9 281.9 336.7 282.1 335.6 281.9 334.4 281.7 333.3 281.3 332.3 281.0 331.2Z" fill="#2c728e" fill-opacity="0.8"/><path d="M299.0 332.2 300.2 332.6 301.3 332.9 302.4 332.9 303.6 332.8 304.8 333.0 305.7 334.0 306.5 334.9 307.4 335.5 308.4 336.2 309.3 337.0 309.9 338.0 310.4 339.0 311.0 339.9 311.9 340.6 312.6 341.5 313.1 342.4 313.2 343.5 313.7 344.6 314.4 345.6 315.3 346.5 315.8 347.9 314.9 349.3 313.8 350.1 312.8 351.1 311.7 351.4 310.6 351.9 309.4 352.1 308.3 352.5 307.2 352.7 306.1 352.7 304.9 352.9 303.8 353.2 302.6 353.8 301.4 353.9 300.3 354.0 299.1 353.7 298.9 352.5 298.5 351.3 297.8 350.2 297.2 349.0 296.6 347.8 297.0 346.6 297.1 345.4 297.0 344.2 296.9 343.0 297.3 341.8 297.9 340.7 298.4 339.6 298.7 338.4 298.8 337.2 298.7 336.0 298.7 334.8 298.6 333.5Z" fill="#31678e" fill-opacity="0.8"/><path d="M284.3 347.3 285.3 347.7 286.4 347.8 287.5 347.7 288.6 347.2 289.7 347.1 290.9 347.0 292.0 347.5 293.3 347.7 294.5 348.1 295.8 348.1 297.3 348.6 297.4 350.1 297.0 351.4 296.7 352.6 296.6 353.6 295.6 353.7 294.3 353.6 293.1 353.8 291.9 354.0 290.8 354.5 289.6 354.4 288.4 354.1 287.2 353.9 285.9 353.7 285.4 352.8 285.0 351.7 284.6 350.6 284.3 349.5 284.2 348.4Z" fill="#31688e" fill-opacity="0.8"/><path d="M275.4 332.4 280.9 330.2 282.6 342.3 282.0 354.4 279.3 359.9 275.4 358.8 274.9 345.0Z" fill="#5ec962" fill-opacity="0.9"/></g><circle cx="21.6" cy="149.1" r="1.5" fill="#1f77b4"/><text x="30.3" y="151" font-size="5.6" fill="#222">CMP</text><circle cx="21.6" cy="156.9" r="1.5" fill="#ff7f0e"/><text x="30.3" y="158.8" font-size="5.6" fill="#222">DC</text><circle cx="21.6" cy="164.7" r="1.5" fill="#279e68"/><text x="30.3" y="166.6" font-size="5.6" fill="#222">Erythrocyte</text><circle cx="63.3" cy="149.1" r="1.5" fill="#d62728"/><text x="72" y="151" font-size="5.6" fill="#222">GMP</text><circle cx="63.3" cy="156.9" r="1.5" fill="#aa40fc"/><text x="72" y="158.8" font-size="5.6" fill="#222">Granulocyte</text><circle cx="63.3" cy="164.7" r="1.5" fill="#8c564b"/><text x="72" y="166.6" font-size="5.6" fill="#222">HSC</text><circle cx="107.4" cy="149.1" r="1.5" fill="#e377c2"/><text x="116.6" y="151" font-size="5.6" fill="#222">LMPP</text><circle cx="107.4" cy="156.9" r="1.5" fill="#b5bd61"/><text x="116.6" y="158.8" font-size="5.6" fill="#222">MEP</text><circle cx="107.4" cy="164.7" r="1.5" fill="#17becf"/><text x="116.6" y="166.6" font-size="5.6" fill="#222">Mast Cells</text><circle cx="147.2" cy="145.8" r="1.5" fill="#aec7e8"/><text x="156.1" y="147.7" font-size="5.6" fill="#222">Megakaryocyte</text><circle cx="147.2" cy="153.4" r="1.5" fill="#ffbb78"/><text x="156.1" y="155.3" font-size="5.6" fill="#222">Platelet</text><circle cx="147.2" cy="161.0" r="1.5" fill="#98df8a"/><text x="156.1" y="162.9" font-size="5.6" fill="#222">Prog DC</text><circle cx="147.2" cy="168.6" r="1.5" fill="#ff9896"/><text x="156.1" y="170.5" font-size="5.6" fill="#222">Prog MK</text><circle cx="247.3" cy="153.2" r="1.6" fill="#1f77b4"/><text x="256.5" y="155.2" font-size="5.4" fill="#222">Sample 1</text><circle cx="247.3" cy="161.3" r="1.6" fill="#ff7f0e"/><text x="256.5" y="163.3" font-size="5.4" fill="#222">Sample 2</text><path d="M308.4 115.30000000000001V128.4H321.59999999999997" fill="none" stroke="#333" stroke-width="0.9"/><path d="M307.2 117.30000000000001L308.4 114.80000000000001L309.59999999999997 117.30000000000001Z M319.59999999999997 127.2L322.09999999999997 128.4L319.59999999999997 129.6Z" fill="#222"/><text x="316" y="134.1" font-size="5" fill="#222" text-anchor="middle">UMAP1</text><text x="306.3" y="120.2" font-size="5.2" fill="#222" text-anchor="middle" transform="rotate(-90 306.3 120.2)">UMAP2</text><path d="M27.8 383.2V404.2H44.8" fill="none" stroke="#333" stroke-width="0.9"/><path d="M26.6 385.2L27.8 382.7L29.0 385.2Z M42.8 403.0L45.3 404.2L42.8 405.4Z" fill="#222"/><text x="36.5" y="410.3" font-size="5" fill="#222" text-anchor="middle">Z UMAP1</text><text x="25.4" y="394" font-size="5" fill="#222" text-anchor="middle" transform="rotate(-90 25.4 394)">Z UMAP2</text><defs><linearGradient id="gp" x1="0" y1="0" x2="0" y2="1"><stop offset="0.0" stop-color="#ffff00"/><stop offset="0.1" stop-color="#f1b900"/><stop offset="0.2" stop-color="#e48200"/><stop offset="0.3" stop-color="#d55700"/><stop offset="0.4" stop-color="#c53700"/><stop offset="0.5" stop-color="#b41f00"/><stop offset="0.6" stop-color="#a11095"/><stop offset="0.7" stop-color="#8b06f2"/><stop offset="0.8" stop-color="#7202f2"/><stop offset="0.9" stop-color="#500095"/><stop offset="1.0" stop-color="#000000"/></linearGradient><linearGradient id="vir" x1="0" y1="0" x2="0" y2="1"><stop offset="0" stop-color="#fde725"/><stop offset=".25" stop-color="#5ec962"/><stop offset=".5" stop-color="#21918c"/><stop offset=".75" stop-color="#3b528b"/><stop offset="1" stop-color="#440154"/></linearGradient></defs><rect x="213.7" y="378.7" width="2.6" height="35.3" fill="url(#gp)"/><text x="210.8" y="396.3" font-size="6" fill="#111" text-anchor="middle" transform="rotate(-90 210.8 396.3)">Latent time</text><text x="268" y="312.6" font-size="6.5" fill="#000" text-anchor="middle">CD133</text><rect x="317.3" y="357.5" width="2.3" height="22.7" fill="url(#vir)"/><text x="315.3" y="368" font-size="3.6" fill="#222" text-anchor="middle" transform="rotate(-90 315.3 368)">RNA level</text><path d="M361.5 66.7 362.5 57.7 366.5 49.7 372.5 43.7 378.5 41.7 382.5 45.7 376.5 54.7 368.5 63.7 365.5 66.7Z" fill="#ff7f0e" fill-opacity="0.90" filter="url(#st2s)"/><path d="M366.5 49.7 373.5 31.7 383.5 19.7 391.5 26.7 385.5 42.7 375.5 50.7Z" fill="#ff7f0e" fill-opacity="0.22" filter="url(#st2s)"/><path d="M363.5 66.7 371.5 59.7 381.5 51.7 389.5 46.7 392.5 51.7 380.5 60.7 369.5 66.7Z" fill="#1f77b4" fill-opacity="0.80" filter="url(#sts)"/><path d="M374.5 45.7 384.5 34.7 399.5 37.7 406.5 49.7 395.5 55.7 383.5 55.7Z" fill="#1f77b4" fill-opacity="0.22" filter="url(#sts)"/><text x="386" y="16.5" font-size="3.6" fill="#333" text-anchor="middle">ANK1</text><path d="M428.4 66.7 429.4 59.7 432.4 53.7 435.4 53.7 434.4 60.7 431.4 66.7Z" fill="#ff7f0e" fill-opacity="0.95" filter="url(#st2s)"/><path d="M431.4 62.7 438.4 49.7 442.4 37.7 447.4 37.7 446.4 47.7 436.4 60.7Z" fill="#1f77b4" fill-opacity="0.35" filter="url(#sts)"/><path d="M438.4 52.7 450.4 35.7 460.4 24.7 475.4 20.7 478.4 30.7 465.4 39.7 450.4 50.7Z" fill="#ff7f0e" fill-opacity="0.20" filter="url(#st2s)"/><text x="453" y="16.5" font-size="3.6" fill="#333" text-anchor="middle">CPA3</text><path d="M496.3 65.7 500.3 54.7 506.3 41.7 512.3 29.7 520.3 21.7 528.3 24.7 527.3 39.7 520.3 50.7 510.3 58.7 500.3 65.7Z" fill="#ff7f0e" fill-opacity="0.40" filter="url(#st2s)"/><path d="M495.3 66.7 498.3 60.7 504.3 55.7 506.3 59.7 500.3 65.7Z" fill="#ff7f0e" fill-opacity="0.90" filter="url(#st2s)"/><path d="M497.3 66.7 510.3 59.7 525.3 51.7 538.3 45.7 542.3 50.7 530.3 58.7 515.3 63.7 502.3 66.7Z" fill="#1f77b4" fill-opacity="0.85" filter="url(#sts)"/><text x="519.8" y="16.5" font-size="3.6" fill="#333" text-anchor="middle">MPO</text><path d="M561.2 66.7 561.2 61.7 566.2 61.7 566.2 66.7Z" fill="#ff7f0e" fill-opacity="0.95" filter="url(#st2s)"/><path d="M564.2 63.7 574.2 54.7 588.2 41.7 592.2 44.7 577.2 58.7 567.2 66.7Z" fill="#ff7f0e" fill-opacity="0.15" filter="url(#st2s)"/><path d="M565.2 63.7 580.2 46.7 595.2 24.7 602.2 24.7 592.2 44.7 577.2 61.7Z" fill="#1f77b4" fill-opacity="0.12" filter="url(#sts)"/><text x="586.6" y="16.5" font-size="3.6" fill="#333" text-anchor="middle">SULF2</text><path d="M631.1 61.7 639.1 48.7 649.1 35.7 661.1 24.7 674.1 23.7 677.1 34.7 667.1 44.7 654.1 54.7 641.1 62.7Z" fill="#ff7f0e" fill-opacity="0.42" filter="url(#st2s)"/><path d="M634.1 66.7 644.1 60.7 657.1 51.7 669.1 41.7 672.1 46.7 659.1 56.7 644.1 64.7Z" fill="#1f77b4" fill-opacity="0.55" filter="url(#sts)"/><path d="M629.1 66.7 632.1 58.7 637.1 52.7 642.1 51.7 639.1 59.7 633.1 66.7Z" fill="#ff7f0e" fill-opacity="0.90" filter="url(#st2s)"/><text x="653.7" y="16.5" font-size="3.6" fill="#333" text-anchor="middle">VWF</text><path d="M361.5 132.5 363.5 126.5 367.5 118.5 373.5 109.5 381.5 101.5 391.5 94.5 401.5 89.5 411.5 86.5 406.5 94.5 399.5 105.5 391.5 115.5 383.5 123.5 373.5 129.5 365.5 132.5Z" fill="#1f77b4" fill-opacity="0.60" filter="url(#sts)"/><path d="M361.5 132.5 363.5 126.5 367.5 118.5 373.5 109.5 381.5 101.5 385.5 108.5 379.5 120.5 371.5 129.5Z" fill="#ff7f0e" fill-opacity="0.50" filter="url(#st2s)"/><path d="M376.5 126.5 376.5 117.5 380.5 111.5 385.5 114.5 384.5 122.5 380.5 128.5Z" fill="#ff7f0e" fill-opacity="0.90" filter="url(#st2s)"/><text x="386" y="82.6" font-size="3.6" fill="#333" text-anchor="middle">ANK1</text><path d="M428.4 132.5 433.4 120.5 442.4 107.5 455.4 97.5 470.4 89.5 478.4 86.5 468.4 92.5 454.4 101.5 444.4 111.5 437.4 121.5 432.4 129.5Z" fill="#1f77b4" fill-opacity="0.55" filter="url(#sts)"/><path d="M431.2 130.3 435.7 119.3 444.3 107.4 456.9 97.3 470.7 90.2 478.6 87.0 478.2 86.0 470.1 88.8 455.9 95.7 442.5 105.6 433.1 117.7 427.6 128.7Z" fill="#ff7f0e" fill-opacity="0.70" filter="url(#st2s)"/><path d="M428.4 132.5 431.4 123.5 435.4 118.5 437.4 123.5 433.4 130.5Z" fill="#ff7f0e" fill-opacity="0.95" filter="url(#st2s)"/><text x="453" y="82.6" font-size="3.6" fill="#333" text-anchor="middle">CPA3</text><path d="M495.3 130.5 498.3 118.5 505.3 106.5 515.3 98.5 527.3 92.5 546.3 86.5 535.3 91.5 523.3 97.5 513.3 105.5 506.3 115.5 502.3 125.5 499.3 132.5Z" fill="#1f77b4" fill-opacity="0.75" filter="url(#sts)"/><path d="M497.8 128.9 500.7 117.1 507.2 106.3 516.8 98.3 528.6 92.2 546.4 87.0 546.2 86.0 528.0 90.8 515.8 96.7 505.4 104.7 497.9 115.9 494.8 128.1Z" fill="#ff7f0e" fill-opacity="0.80" filter="url(#st2s)"/><text x="519.8" y="82.6" font-size="3.6" fill="#333" text-anchor="middle">MPO</text><path d="M563.6 133.0 567.6 121.1 575.1 108.3 584.8 100.3 597.6 91.1 596.8 89.9 583.6 98.7 573.3 106.7 564.8 119.9 560.8 132.0Z" fill="#ff7f0e" fill-opacity="0.60" filter="url(#st2s)"/><path d="M574.8 108.3 584.8 100.3 597.8 91.3 596.6 89.7 583.6 98.7 573.6 106.7Z" fill="#1f77b4" fill-opacity="0.60" filter="url(#sts)"/><path d="M570.2 120.5 582.2 107.5 587.2 117.5 577.2 124.5Z" fill="#ff7f0e" fill-opacity="0.15" filter="url(#st2s)"/><text x="586.6" y="82.6" font-size="3.6" fill="#333" text-anchor="middle">SULF2</text><path d="M629.1 132.5 632.1 120.5 640.1 108.5 650.1 100.5 662.1 93.5 672.1 88.5 679.1 87.5 674.1 96.5 664.1 105.5 654.1 112.5 644.1 120.5 636.1 127.5 632.1 132.5Z" fill="#1f77b4" fill-opacity="0.50" filter="url(#sts)"/><path d="M631.5 130.9 634.5 120.1 642.2 108.5 651.9 100.7 663.7 93.6 673.4 89.5 679.2 88.2 679.0 86.8 672.8 87.5 662.5 91.4 650.3 98.3 640.0 106.5 631.7 118.9 628.7 130.1Z" fill="#ff7f0e" fill-opacity="0.80" filter="url(#st2s)"/><text x="653.7" y="82.6" font-size="3.6" fill="#333" text-anchor="middle">VWF</text><path d="M361.5 194.2 363.5 188.2 367.5 180.2 373.5 171.2 381.5 163.2 391.5 156.2 401.5 151.2 411.5 148.2 406.5 156.2 399.5 167.2 391.5 177.2 383.5 185.2 373.5 191.2 365.5 194.2Z" fill="#ff9896" fill-opacity="0.45" filter="url(#sts)"/><path d="M365.8 186.9 372.2 176.3 379.3 168.0 388.8 160.3 400.3 154.0 410.8 149.1 410.2 147.3 398.7 150.4 386.2 156.1 375.7 164.4 368.8 174.1 363.2 185.5Z" fill="#279e68" fill-opacity="0.70" filter="url(#st2s)"/><path d="M375.5 188.2 381.5 178.2 387.5 176.2 383.5 186.2Z" fill="#aec7e8" fill-opacity="0.60" filter="url(#st2s)"/><path d="M361.5 194.2 364.5 186.2 369.5 184.2 367.5 192.2Z" fill="#b5bd61" fill-opacity="0.60" filter="url(#sts)"/><text x="386" y="144.4" font-size="3.6" fill="#333" text-anchor="middle">ANK1</text><path d="M428.4 194.2 433.4 182.2 442.4 169.2 455.4 159.2 470.4 151.2 478.4 148.2 468.4 154.2 454.4 163.2 444.4 173.2 437.4 183.2 432.4 191.2Z" fill="#17becf" fill-opacity="0.55" filter="url(#sts)"/><path d="M430.8 191.8 435.7 181.0 444.3 169.1 456.9 159.0 470.7 151.9 478.6 148.7 478.2 147.7 470.1 150.5 455.9 157.4 442.5 167.3 433.1 179.4 428.0 190.6Z" fill="#aa40fc" fill-opacity="0.65" filter="url(#st2s)"/><path d="M429.4 192.2 431.4 186.2 435.4 183.2 437.4 187.2 433.4 193.2Z" fill="#d62728" fill-opacity="0.95" filter="url(#st2s)"/><path d="M431.4 188.2 434.4 185.2 433.4 190.2Z" fill="#1f77b4" fill-opacity="0.60" filter="url(#sts)"/><text x="453" y="144.4" font-size="3.6" fill="#333" text-anchor="middle">CPA3</text><path d="M495.3 192.2 498.3 180.2 505.3 168.2 515.3 160.2 527.3 154.2 546.3 148.2 535.3 153.2 523.3 159.2 513.3 167.2 506.3 177.2 502.3 187.2 499.3 194.2Z" fill="#e377c2" fill-opacity="0.45" filter="url(#sts)"/><path d="M498.2 190.7 501.1 179.0 507.6 168.4 517.1 160.5 528.6 154.1 546.4 148.7 546.2 147.7 528.0 152.3 515.5 157.9 505.0 166.0 497.5 177.4 494.4 189.7Z" fill="#d62728" fill-opacity="0.85" filter="url(#st2s)"/><path d="M493.3 194.2 495.3 190.2 498.3 192.2Z" fill="#ff7f0e" fill-opacity="0.80" filter="url(#sts)"/><text x="519.8" y="144.4" font-size="3.6" fill="#333" text-anchor="middle">MPO</text><path d="M563.6 194.7 567.6 182.8 575.1 170.0 584.8 162.0 597.6 152.8 596.8 151.6 583.6 160.4 573.3 168.4 564.8 181.6 560.8 193.7Z" fill="#ffbb78" fill-opacity="0.50" filter="url(#st2s)"/><path d="M570.2 182.2 582.2 169.2 587.2 179.2 577.2 186.2Z" fill="#ffbb78" fill-opacity="0.15" filter="url(#st2s)"/><path d="M585.1 162.4 598.1 153.4 596.3 151.0 583.3 160.0Z" fill="#ffbb78" fill-opacity="0.40" filter="url(#sts)"/><path d="M562.2 194.2 563.2 190.2 565.2 190.2 564.2 194.2Z" fill="#aa40fc" fill-opacity="0.90" filter="url(#sts)"/><path d="M564.2 190.2 566.2 185.2 567.2 189.2Z" fill="#98df8a" fill-opacity="0.70" filter="url(#sts)"/><text x="586.6" y="144.4" font-size="3.6" fill="#333" text-anchor="middle">SULF2</text><path d="M629.1 194.2 632.1 182.2 640.1 170.2 650.1 162.2 662.1 155.2 672.1 150.2 679.1 149.2 674.1 158.2 664.1 167.2 654.1 174.2 644.1 182.2 636.1 189.2 632.1 194.2Z" fill="#aec7e8" fill-opacity="0.45" filter="url(#sts)"/><path d="M649.1 166.2 662.1 155.2 672.1 150.2 679.1 149.2 675.1 158.2 664.1 166.2 655.1 172.2Z" fill="#ffbb78" fill-opacity="0.50" filter="url(#st2s)"/><path d="M629.1 194.2 631.1 186.2 635.1 180.2 637.1 184.2 633.1 192.2Z" fill="#ff9896" fill-opacity="0.70" filter="url(#st2s)"/><path d="M629.1 194.2 630.1 191.2 631.1 192.2Z" fill="#98df8a" fill-opacity="0.80" filter="url(#sts)"/><text x="653.7" y="144.4" font-size="3.6" fill="#333" text-anchor="middle">VWF</text><path d="M369.5 242.2 373.5 232.2 378.5 220.2 383.5 213.2 389.5 212.2 391.5 216.2 385.5 222.2 379.5 232.2 375.5 240.2Z" fill="#279e68" fill-opacity="0.60" filter="url(#sts)"/><path d="M366.5 246.2 371.5 238.2 379.5 226.2 389.5 216.2 391.5 226.2 389.5 236.2 386.5 246.2Z" fill="#ff9896" fill-opacity="0.30" filter="url(#st2s)"/><path d="M379.5 232.2 387.5 230.2 389.5 234.2 381.5 236.2Z" fill="#aec7e8" fill-opacity="0.40" filter="url(#sts)"/><path d="M385.5 231.2 401.5 231.2 411.5 233.2 401.5 235.2 387.5 234.2Z" fill="#ffbb78" fill-opacity="0.40" filter="url(#st2s)"/><text x="386" y="206.5" font-size="3.6" fill="#333" text-anchor="middle">ANK1</text><rect x="359.0" y="245.6" width="37.5" height="1.1" fill="#4a3a66" fill-opacity=".65"/><path d="M439.5 246.2 445.7 239.0 450.5 228.7 454.3 218.6 457.1 210.5 455.7 209.9 452.5 217.8 448.3 227.7 443.1 237.4 437.3 244.2Z" fill="#aa40fc" fill-opacity="0.60" filter="url(#sts)"/><path d="M443.5 246.2 449.6 239.1 454.5 230.8 458.3 222.7 462.1 215.6 460.7 214.8 456.5 221.7 452.3 229.6 447.2 237.3 441.3 244.2Z" fill="#17becf" fill-opacity="0.60" filter="url(#st2s)"/><path d="M433.4 246.2 440.4 243.2 448.4 242.2 450.4 246.2Z" fill="#1f77b4" fill-opacity="0.50" filter="url(#sts)"/><path d="M440.4 246.2 443.4 240.2 453.4 237.2 456.4 243.2 456.4 246.2Z" fill="#d62728" fill-opacity="0.85" filter="url(#st2s)"/><text x="453" y="206.5" font-size="3.6" fill="#333" text-anchor="middle">CPA3</text><rect x="425.9" y="245.6" width="30.5" height="1.1" fill="#4a3a66" fill-opacity=".65"/><path d="M498.3 245.2 505.3 234.2 512.3 221.2 518.3 212.2 517.3 222.2 510.3 236.2 505.3 244.2Z" fill="#d62728" fill-opacity="0.80" filter="url(#sts)"/><path d="M495.3 246.2 505.3 238.2 513.3 234.2 520.3 244.2 525.3 246.2Z" fill="#e377c2" fill-opacity="0.40" filter="url(#st2s)"/><path d="M513.3 240.2 520.3 238.2 521.3 242.2Z" fill="#ffbb78" fill-opacity="0.40" filter="url(#sts)"/><text x="519.8" y="206.5" font-size="3.6" fill="#333" text-anchor="middle">MPO</text><rect x="492.8" y="245.6" width="47.5" height="1.1" fill="#4a3a66" fill-opacity=".65"/><path d="M577.2 246.2 582.2 236.2 589.2 221.2 594.2 208.2 592.2 224.2 586.2 238.2 582.2 246.2Z" fill="#ffbb78" fill-opacity="0.22" filter="url(#st2s)"/><path d="M578.2 246.2 582.2 243.2 586.2 246.2Z" fill="#98df8a" fill-opacity="0.60" filter="url(#sts)"/><path d="M586.2 246.2 590.2 244.2 592.2 246.2Z" fill="#aa40fc" fill-opacity="0.70" filter="url(#sts)"/><text x="586.6" y="206.5" font-size="3.6" fill="#333" text-anchor="middle">SULF2</text><rect x="559.7" y="245.6" width="40.5" height="1.1" fill="#4a3a66" fill-opacity=".65"/><path d="M641.1 244.2 646.1 236.2 651.1 226.2 657.1 218.2 664.1 214.2 674.1 208.2 677.1 211.2 664.1 221.2 654.1 231.2 649.1 241.2Z" fill="#aec7e8" fill-opacity="0.35" filter="url(#sts)"/><path d="M651.1 226.2 664.1 218.2 677.1 208.2 679.1 212.2 664.1 224.2Z" fill="#ffbb78" fill-opacity="0.35" filter="url(#st2s)"/><path d="M639.1 246.2 645.1 242.2 653.1 244.2 649.1 246.2Z" fill="#ff9896" fill-opacity="0.60" filter="url(#st2s)"/><text x="653.7" y="206.5" font-size="3.6" fill="#333" text-anchor="middle">VWF</text><rect x="626.6" y="245.6" width="36.5" height="1.1" fill="#4a3a66" fill-opacity=".65"/><path d="M355.2 22V31H364.5" fill="none" stroke="#111" stroke-width="0.6"/><path d="M354.2 23.4L355.2 21L356.2 23.4Z M363 30L365.5 31L363 32Z" fill="#111"/><text x="356" y="20" font-size="7" fill="#111" text-anchor="middle">u</text><text x="367.4" y="33.2" font-size="7" fill="#111" text-anchor="middle">s</text><path d="M355.2 88V97H364.5" fill="none" stroke="#111" stroke-width="0.6"/><path d="M354.2 89.4L355.2 87L356.2 89.4Z M363 96L365.5 97L363 98Z" fill="#111"/><text x="356" y="86" font-size="7" fill="#111" text-anchor="middle">u</text><text x="367.4" y="99.2" font-size="7" fill="#111" text-anchor="middle">s</text><path d="M355.2 148.5V157.5H364.5" fill="none" stroke="#111" stroke-width="0.6"/><path d="M354.2 149.9L355.2 147.5L356.2 149.9Z M363 156.5L365.5 157.5L363 158.5Z" fill="#111"/><text x="356" y="146.5" font-size="7" fill="#111" text-anchor="middle">u</text><text x="367.4" y="159.7" font-size="7" fill="#111" text-anchor="middle">s</text><path d="M355.2 212.4V221.4H364.5" fill="none" stroke="#111" stroke-width="0.6"/><path d="M354.2 213.8L355.2 211.4L356.2 213.8Z M363 220.4L365.5 221.4L363 222.4Z" fill="#111"/><text x="356" y="210.4" font-size="7" fill="#111" text-anchor="middle">s</text><text x="367.4" y="223.6" font-size="7" fill="#111" text-anchor="middle">t</text><rect x="21.3" y="442.3" width="58.7" height="50.2" fill="#fff" stroke="#ececec" stroke-width="0.6"/><line x1="21.3" x2="80" y1="483.2" y2="483.2" stroke="#e6e6e6" stroke-width="0.6"/><line x1="21.3" x2="80" y1="473.9" y2="473.9" stroke="#e6e6e6" stroke-width="0.6"/><line x1="21.3" x2="80" y1="464.6" y2="464.6" stroke="#e6e6e6" stroke-width="0.6"/><line x1="21.3" x2="80" y1="455.3" y2="455.3" stroke="#e6e6e6" stroke-width="0.6"/><line x1="21.3" x2="80" y1="446.0" y2="446.0" stroke="#e6e6e6" stroke-width="0.6"/><line x1="30.6" x2="30.6" y1="442.3" y2="492.5" stroke="#e6e6e6" stroke-width="0.6"/><line x1="43.9" x2="43.9" y1="442.3" y2="492.5" stroke="#e6e6e6" stroke-width="0.6"/><line x1="57.2" x2="57.2" y1="442.3" y2="492.5" stroke="#e6e6e6" stroke-width="0.6"/><line x1="70.6" x2="70.6" y1="442.3" y2="492.5" stroke="#e6e6e6" stroke-width="0.6"/><path d="M22.90 492.5v-0.7h0.90v0.7zM23.80 492.5v-1.2h0.90v1.2zM24.70 492.5v-1.1h0.90v1.1zM25.60 492.5v-1.0h0.90v1.0zM26.50 492.5v-1.8h0.90v1.8zM27.40 492.5v-3.0h0.90v3.0zM28.30 492.5v-4.0h0.90v4.0zM29.20 492.5v-3.7h0.90v3.7zM30.10 492.5v-5.2h0.90v5.2zM31.00 492.5v-15.3h0.90v15.3zM31.90 492.5v-22.1h0.90v22.1zM32.80 492.5v-31.7h0.90v31.7zM33.70 492.5v-39.8h0.90v39.8zM34.60 492.5v-40.0h0.90v40.0zM35.50 492.5v-39.2h0.90v39.2zM36.40 492.5v-48.4h0.90v48.4zM37.30 492.5v-48.4h0.90v48.4zM38.20 492.5v-27.8h0.90v27.8zM39.10 492.5v-21.6h0.90v21.6zM40.00 492.5v-25.7h0.90v25.7zM40.90 492.5v-20.2h0.90v20.2zM41.80 492.5v-14.0h0.90v14.0zM42.70 492.5v-11.7h0.90v11.7zM43.60 492.5v-11.4h0.90v11.4zM44.50 492.5v-10.8h0.90v10.8zM45.40 492.5v-9.8h0.90v9.8zM46.30 492.5v-8.1h0.90v8.1zM47.20 492.5v-4.0h0.90v4.0zM48.10 492.5v-8.0h0.90v8.0zM49.00 492.5v-4.3h0.90v4.3zM49.90 492.5v-6.2h0.90v6.2zM50.80 492.5v-4.0h0.90v4.0zM51.70 492.5v-6.1h0.90v6.1zM52.60 492.5v-4.8h0.90v4.8zM53.50 492.5v-6.1h0.90v6.1zM54.40 492.5v-6.4h0.90v6.4zM55.30 492.5v-5.5h0.90v5.5zM56.20 492.5v-6.4h0.90v6.4zM57.10 492.5v-3.7h0.90v3.7zM58.00 492.5v-5.2h0.90v5.2zM58.90 492.5v-6.4h0.90v6.4zM59.80 492.5v-5.3h0.90v5.3zM60.70 492.5v-5.5h0.90v5.5zM61.60 492.5v-4.7h0.90v4.7zM62.50 492.5v-3.1h0.90v3.1zM63.40 492.5v-4.3h0.90v4.3zM64.30 492.5v-2.6h0.90v2.6zM65.20 492.5v-3.1h0.90v3.1zM66.10 492.5v-1.9h0.90v1.9zM67.00 492.5v-2.0h0.90v2.0zM67.90 492.5v-1.4h0.90v1.4zM68.80 492.5v-1.3h0.90v1.3zM69.70 492.5v-0.8h0.90v0.8zM70.60 492.5v-1.0h0.90v1.0zM71.50 492.5v-0.8h0.90v0.8zM72.40 492.5v-0.9h0.90v0.9zM73.30 492.5v-0.8h0.90v0.8zM74.20 492.5v-0.6h0.90v0.6zM75.10 492.5v-0.5h0.90v0.5zM76.00 492.5v-0.6h0.90v0.6zM76.90 492.5v-0.3h0.90v0.3z" fill="#1f77b4" fill-opacity="0.36"/><path d="M22.00 492.5v-0.2h0.90v0.2zM22.90 492.5v-0.7h0.90v0.7zM23.80 492.5v-1.1h0.90v1.1zM24.70 492.5v-1.4h0.90v1.4zM25.60 492.5v-1.6h0.90v1.6zM26.50 492.5v-1.9h0.90v1.9zM27.40 492.5v-2.3h0.90v2.3zM28.30 492.5v-2.6h0.90v2.6zM29.20 492.5v-4.8h0.90v4.8zM30.10 492.5v-8.9h0.90v8.9zM31.00 492.5v-15.3h0.90v15.3zM31.90 492.5v-22.7h0.90v22.7zM32.80 492.5v-31.7h0.90v31.7zM33.70 492.5v-39.8h0.90v39.8zM34.60 492.5v-48.4h0.90v48.4zM35.50 492.5v-44.0h0.90v44.0zM36.40 492.5v-46.3h0.90v46.3zM37.30 492.5v-43.3h0.90v43.3zM38.20 492.5v-31.8h0.90v31.8zM39.10 492.5v-24.9h0.90v24.9zM40.00 492.5v-28.9h0.90v28.9zM40.90 492.5v-20.7h0.90v20.7zM41.80 492.5v-17.6h0.90v17.6zM42.70 492.5v-13.7h0.90v13.7zM43.60 492.5v-7.6h0.90v7.6zM44.50 492.5v-10.8h0.90v10.8zM45.40 492.5v-9.8h0.90v9.8zM46.30 492.5v-8.0h0.90v8.0zM47.20 492.5v-8.3h0.90v8.3zM48.10 492.5v-7.2h0.90v7.2zM49.00 492.5v-5.2h0.90v5.2zM49.90 492.5v-6.3h0.90v6.3zM50.80 492.5v-6.9h0.90v6.9zM51.70 492.5v-7.0h0.90v7.0zM52.60 492.5v-6.8h0.90v6.8zM53.50 492.5v-5.9h0.90v5.9zM54.40 492.5v-6.4h0.90v6.4zM55.30 492.5v-4.5h0.90v4.5zM56.20 492.5v-6.4h0.90v6.4zM57.10 492.5v-6.4h0.90v6.4zM58.00 492.5v-5.2h0.90v5.2zM58.90 492.5v-3.1h0.90v3.1zM59.80 492.5v-4.2h0.90v4.2zM60.70 492.5v-5.3h0.90v5.3zM61.60 492.5v-5.2h0.90v5.2zM62.50 492.5v-4.8h0.90v4.8zM63.40 492.5v-2.8h0.90v2.8zM64.30 492.5v-3.3h0.90v3.3zM65.20 492.5v-3.1h0.90v3.1zM66.10 492.5v-2.1h0.90v2.1zM67.00 492.5v-0.9h0.90v0.9zM67.90 492.5v-1.7h0.90v1.7zM68.80 492.5v-1.3h0.90v1.3zM69.70 492.5v-1.1h0.90v1.1zM70.60 492.5v-0.7h0.90v0.7zM71.50 492.5v-0.7h0.90v0.7zM72.40 492.5v-0.8h0.90v0.8zM73.30 492.5v-0.8h0.90v0.8zM74.20 492.5v-0.7h0.90v0.7zM75.10 492.5v-0.6h0.90v0.6zM76.00 492.5v-0.6h0.90v0.6zM76.90 492.5v-0.3h0.90v0.3z" fill="#ff7f0e" fill-opacity="0.5"/><text x="19.5" y="493.8" font-size="3.6" fill="#444" text-anchor="end">0</text><text x="19.5" y="484.5" font-size="3.6" fill="#444" text-anchor="end">10</text><text x="19.5" y="475.2" font-size="3.6" fill="#444" text-anchor="end">20</text><text x="19.5" y="465.9" font-size="3.6" fill="#444" text-anchor="end">30</text><text x="19.5" y="456.6" font-size="3.6" fill="#444" text-anchor="end">40</text><text x="19.5" y="447.3" font-size="3.6" fill="#444" text-anchor="end">50</text><text x="30.6" y="497.7" font-size="3.8" fill="#444" text-anchor="middle">5</text><text x="43.9" y="497.7" font-size="3.8" fill="#444" text-anchor="middle">10</text><text x="57.2" y="497.7" font-size="3.8" fill="#444" text-anchor="middle">15</text><text x="70.6" y="497.7" font-size="3.8" fill="#444" text-anchor="middle">20</text><text x="50.6" y="440.7" font-size="5" fill="#111" text-anchor="middle" font-weight="bold">Alpha_c</text><rect x="92.25" y="442.3" width="60.2" height="50.2" fill="#fff" stroke="#ececec" stroke-width="0.6"/><line x1="92.25" x2="152.5" y1="481.8" y2="481.8" stroke="#e6e6e6" stroke-width="0.6"/><line x1="92.25" x2="152.5" y1="471.1" y2="471.1" stroke="#e6e6e6" stroke-width="0.6"/><line x1="92.25" x2="152.5" y1="460.4" y2="460.4" stroke="#e6e6e6" stroke-width="0.6"/><line x1="92.25" x2="152.5" y1="449.7" y2="449.7" stroke="#e6e6e6" stroke-width="0.6"/><line x1="95.25" x2="95.25" y1="442.3" y2="492.5" stroke="#e6e6e6" stroke-width="0.6"/><line x1="108.5" x2="108.5" y1="442.3" y2="492.5" stroke="#e6e6e6" stroke-width="0.6"/><line x1="121.6" x2="121.6" y1="442.3" y2="492.5" stroke="#e6e6e6" stroke-width="0.6"/><line x1="134.6" x2="134.6" y1="442.3" y2="492.5" stroke="#e6e6e6" stroke-width="0.6"/><line x1="147.9" x2="147.9" y1="442.3" y2="492.5" stroke="#e6e6e6" stroke-width="0.6"/><path d="M94.50 492.5v-44.9h1.00v44.9zM95.50 492.5v-20.3h1.00v20.3zM96.50 492.5v-11.8h1.00v11.8zM97.50 492.5v-11.8h1.00v11.8zM98.50 492.5v-5.7h1.00v5.7zM99.50 492.5v-2.8h1.00v2.8zM100.50 492.5v-1.2h1.00v1.2zM101.50 492.5v-1.1h1.00v1.1zM102.50 492.5v-0.8h1.00v0.8zM103.50 492.5v-0.6h1.00v0.6zM104.50 492.5v-0.5h1.00v0.5zM105.50 492.5v-0.3h1.00v0.3zM106.50 492.5v-0.3h1.00v0.3zM107.50 492.5v-0.2h1.00v0.2zM108.50 492.5v-0.2h1.00v0.2zM109.50 492.5v-0.2h1.00v0.2zM110.50 492.5v-0.1h1.00v0.1zM111.50 492.5v-0.1h1.00v0.1zM112.50 492.5v-0.1h1.00v0.1zM113.50 492.5v-0.1h1.00v0.1zM114.50 492.5v-0.1h1.00v0.1zM115.50 492.5v-0.1h1.00v0.1zM116.50 492.5v-0.1h1.00v0.1zM117.50 492.5v-0.1h1.00v0.1zM118.50 492.5v-0.0h1.00v0.0zM119.50 492.5v-0.0h1.00v0.0zM120.50 492.5v-0.0h1.00v0.0zM121.50 492.5v-0.0h1.00v0.0z" fill="#1f77b4" fill-opacity="0.36"/><path d="M94.50 492.5v-47.1h1.00v47.1zM95.50 492.5v-22.5h1.00v22.5zM96.50 492.5v-10.7h1.00v10.7zM97.50 492.5v-10.7h1.00v10.7zM98.50 492.5v-5.4h1.00v5.4zM99.50 492.5v-2.2h1.00v2.2zM100.50 492.5v-1.7h1.00v1.7zM101.50 492.5v-1.3h1.00v1.3zM102.50 492.5v-0.9h1.00v0.9zM103.50 492.5v-0.6h1.00v0.6zM104.50 492.5v-0.3h1.00v0.3zM105.50 492.5v-0.4h1.00v0.4zM106.50 492.5v-0.2h1.00v0.2zM107.50 492.5v-0.2h1.00v0.2zM108.50 492.5v-0.1h1.00v0.1zM109.50 492.5v-0.1h1.00v0.1zM110.50 492.5v-0.2h1.00v0.2zM111.50 492.5v-0.1h1.00v0.1zM112.50 492.5v-0.1h1.00v0.1zM113.50 492.5v-0.1h1.00v0.1zM114.50 492.5v-0.1h1.00v0.1zM115.50 492.5v-0.1h1.00v0.1zM116.50 492.5v-0.1h1.00v0.1zM117.50 492.5v-0.0h1.00v0.0zM118.50 492.5v-0.0h1.00v0.0zM119.50 492.5v-0.0h1.00v0.0zM120.50 492.5v-0.0h1.00v0.0zM121.50 492.5v-0.0h1.00v0.0z" fill="#ff7f0e" fill-opacity="0.5"/><text x="90.5" y="493.8" font-size="3.6" fill="#444" text-anchor="end">0</text><text x="90.5" y="483.1" font-size="3.6" fill="#444" text-anchor="end">100</text><text x="90.5" y="472.4" font-size="3.6" fill="#444" text-anchor="end">200</text><text x="90.5" y="461.7" font-size="3.6" fill="#444" text-anchor="end">300</text><text x="90.5" y="451" font-size="3.6" fill="#444" text-anchor="end">400</text><text x="95.2" y="497.7" font-size="3.8" fill="#444" text-anchor="middle">0</text><text x="108.5" y="497.7" font-size="3.8" fill="#444" text-anchor="middle">250</text><text x="121.6" y="497.7" font-size="3.8" fill="#444" text-anchor="middle">500</text><text x="134.6" y="497.7" font-size="3.8" fill="#444" text-anchor="middle">750</text><text x="147.9" y="497.7" font-size="3.8" fill="#444" text-anchor="middle">1000</text><text x="122.4" y="440.7" font-size="5" fill="#111" text-anchor="middle" font-weight="bold">Alpha</text><rect x="20" y="502.5" width="60.0" height="50.9" fill="#fff" stroke="#ececec" stroke-width="0.6"/><line x1="20" x2="80" y1="538.5" y2="538.5" stroke="#e6e6e6" stroke-width="0.6"/><line x1="20" x2="80" y1="523.6" y2="523.6" stroke="#e6e6e6" stroke-width="0.6"/><line x1="20" x2="80" y1="508.7" y2="508.7" stroke="#e6e6e6" stroke-width="0.6"/><line x1="33.5" x2="33.5" y1="502.5" y2="553.4" stroke="#e6e6e6" stroke-width="0.6"/><line x1="49" x2="49" y1="502.5" y2="553.4" stroke="#e6e6e6" stroke-width="0.6"/><line x1="65.25" x2="65.25" y1="502.5" y2="553.4" stroke="#e6e6e6" stroke-width="0.6"/><path d="M23.00 553.4v-0.3h0.90v0.3zM23.90 553.4v-0.8h0.90v0.8zM24.80 553.4v-1.6h0.90v1.6zM25.70 553.4v-1.8h0.90v1.8zM26.60 553.4v-3.2h0.90v3.2zM27.50 553.4v-10.0h0.90v10.0zM28.40 553.4v-13.5h0.90v13.5zM29.30 553.4v-17.5h0.90v17.5zM30.20 553.4v-21.5h0.90v21.5zM31.10 553.4v-23.1h0.90v23.1zM32.00 553.4v-19.7h0.90v19.7zM32.90 553.4v-23.7h0.90v23.7zM33.80 553.4v-19.2h0.90v19.2zM34.70 553.4v-14.4h0.90v14.4zM35.60 553.4v-10.9h0.90v10.9zM36.50 553.4v-9.8h0.90v9.8zM37.40 553.4v-12.6h0.90v12.6zM38.30 553.4v-10.9h0.90v10.9zM39.20 553.4v-8.2h0.90v8.2zM40.10 553.4v-11.9h0.90v11.9zM41.00 553.4v-11.6h0.90v11.6zM41.90 553.4v-12.3h0.90v12.3zM42.80 553.4v-12.1h0.90v12.1zM43.70 553.4v-8.6h0.90v8.6zM44.60 553.4v-5.8h0.90v5.8zM45.50 553.4v-19.6h0.90v19.6zM46.40 553.4v-41.0h0.90v41.0zM47.30 553.4v-48.4h0.90v48.4zM48.20 553.4v-28.4h0.90v28.4zM49.10 553.4v-11.8h0.90v11.8zM50.00 553.4v-1.4h0.90v1.4zM50.90 553.4v-0.2h0.90v0.2zM51.80 553.4v-0.9h0.90v0.9zM52.70 553.4v-0.7h0.90v0.7zM53.60 553.4v-0.8h0.90v0.8zM54.50 553.4v-0.9h0.90v0.9zM55.40 553.4v-1.3h0.90v1.3zM56.30 553.4v-1.2h0.90v1.2zM57.20 553.4v-1.1h0.90v1.1zM58.10 553.4v-0.5h0.90v0.5zM59.00 553.4v-0.7h0.90v0.7zM59.90 553.4v-0.4h0.90v0.4zM60.80 553.4v-0.7h0.90v0.7zM61.70 553.4v-0.9h0.90v0.9zM62.60 553.4v-0.6h0.90v0.6zM63.50 553.4v-0.8h0.90v0.8zM64.40 553.4v-0.7h0.90v0.7zM65.30 553.4v-0.7h0.90v0.7zM66.20 553.4v-0.5h0.90v0.5zM67.10 553.4v-0.4h0.90v0.4zM68.00 553.4v-0.4h0.90v0.4zM68.90 553.4v-0.5h0.90v0.5zM69.80 553.4v-0.4h0.90v0.4zM70.70 553.4v-0.4h0.90v0.4zM71.60 553.4v-0.5h0.90v0.5zM72.50 553.4v-0.6h0.90v0.6zM73.40 553.4v-0.6h0.90v0.6zM74.30 553.4v-0.6h0.90v0.6zM75.20 553.4v-0.7h0.90v0.7zM76.10 553.4v-0.4h0.90v0.4zM77.00 553.4v-0.2h0.90v0.2z" fill="#1f77b4" fill-opacity="0.36"/><path d="M23.00 553.4v-0.4h0.90v0.4zM23.90 553.4v-1.0h0.90v1.0zM24.80 553.4v-1.6h0.90v1.6zM25.70 553.4v-2.8h0.90v2.8zM26.60 553.4v-6.2h0.90v6.2zM27.50 553.4v-7.3h0.90v7.3zM28.40 553.4v-12.3h0.90v12.3zM29.30 553.4v-16.2h0.90v16.2zM30.20 553.4v-15.2h0.90v15.2zM31.10 553.4v-17.4h0.90v17.4zM32.00 553.4v-18.0h0.90v18.0zM32.90 553.4v-17.0h0.90v17.0zM33.80 553.4v-24.4h0.90v24.4zM34.70 553.4v-10.0h0.90v10.0zM35.60 553.4v-17.6h0.90v17.6zM36.50 553.4v-13.2h0.90v13.2zM37.40 553.4v-10.6h0.90v10.6zM38.30 553.4v-10.7h0.90v10.7zM39.20 553.4v-10.6h0.90v10.6zM40.10 553.4v-10.6h0.90v10.6zM41.00 553.4v-10.7h0.90v10.7zM41.90 553.4v-9.1h0.90v9.1zM42.80 553.4v-10.2h0.90v10.2zM43.70 553.4v-12.5h0.90v12.5zM44.60 553.4v-10.4h0.90v10.4zM45.50 553.4v-12.2h0.90v12.2zM46.40 553.4v-17.7h0.90v17.7zM47.30 553.4v-29.8h0.90v29.8zM48.20 553.4v-17.1h0.90v17.1zM49.10 553.4v-11.8h0.90v11.8zM50.00 553.4v-1.4h0.90v1.4zM50.90 553.4v-0.4h0.90v0.4zM51.80 553.4v-0.9h0.90v0.9zM52.70 553.4v-0.7h0.90v0.7zM53.60 553.4v-1.1h0.90v1.1zM54.50 553.4v-1.2h0.90v1.2zM55.40 553.4v-0.7h0.90v0.7zM56.30 553.4v-0.6h0.90v0.6zM57.20 553.4v-0.7h0.90v0.7zM58.10 553.4v-1.0h0.90v1.0zM59.00 553.4v-0.9h0.90v0.9zM59.90 553.4v-0.5h0.90v0.5zM60.80 553.4v-0.9h0.90v0.9zM61.70 553.4v-0.7h0.90v0.7zM62.60 553.4v-0.7h0.90v0.7zM63.50 553.4v-0.6h0.90v0.6zM64.40 553.4v-0.6h0.90v0.6zM65.30 553.4v-0.3h0.90v0.3zM66.20 553.4v-0.4h0.90v0.4zM67.10 553.4v-0.4h0.90v0.4zM68.00 553.4v-0.5h0.90v0.5zM68.90 553.4v-0.5h0.90v0.5zM69.80 553.4v-0.4h0.90v0.4zM70.70 553.4v-0.4h0.90v0.4zM71.60 553.4v-0.3h0.90v0.3zM72.50 553.4v-0.5h0.90v0.5zM73.40 553.4v-0.5h0.90v0.5zM74.30 553.4v-0.8h0.90v0.8zM75.20 553.4v-0.8h0.90v0.8zM76.10 553.4v-0.4h0.90v0.4zM77.00 553.4v-0.2h0.90v0.2z" fill="#ff7f0e" fill-opacity="0.5"/><text x="18.2" y="554.7" font-size="3.6" fill="#444" text-anchor="end">0</text><text x="18.2" y="539.8" font-size="3.6" fill="#444" text-anchor="end">20</text><text x="18.2" y="524.9" font-size="3.6" fill="#444" text-anchor="end">40</text><text x="18.2" y="510" font-size="3.6" fill="#444" text-anchor="end">60</text><text x="33.5" y="558.6" font-size="3.8" fill="#444" text-anchor="middle">10</text><text x="49" y="558.6" font-size="3.8" fill="#444" text-anchor="middle">20</text><text x="65.2" y="558.6" font-size="3.8" fill="#444" text-anchor="middle">30</text><text x="50" y="500.9" font-size="5" fill="#111" text-anchor="middle" font-weight="bold">Beta</text><rect x="92.5" y="502.5" width="60.0" height="50.9" fill="#fff" stroke="#ececec" stroke-width="0.6"/><line x1="92.5" x2="152.5" y1="542.4" y2="542.4" stroke="#e6e6e6" stroke-width="0.6"/><line x1="92.5" x2="152.5" y1="531.5" y2="531.5" stroke="#e6e6e6" stroke-width="0.6"/><line x1="92.5" x2="152.5" y1="520.5" y2="520.5" stroke="#e6e6e6" stroke-width="0.6"/><line x1="92.5" x2="152.5" y1="509.6" y2="509.6" stroke="#e6e6e6" stroke-width="0.6"/><line x1="113.5" x2="113.5" y1="502.5" y2="553.4" stroke="#e6e6e6" stroke-width="0.6"/><line x1="135.6" x2="135.6" y1="502.5" y2="553.4" stroke="#e6e6e6" stroke-width="0.6"/><path d="M94.00 553.4v-0.4h0.90v0.4zM94.90 553.4v-1.5h0.90v1.5zM95.80 553.4v-1.7h0.90v1.7zM96.70 553.4v-1.9h0.90v1.9zM97.60 553.4v-2.1h0.90v2.1zM98.50 553.4v-2.0h0.90v2.0zM99.40 553.4v-6.2h0.90v6.2zM100.30 553.4v-9.3h0.90v9.3zM101.20 553.4v-14.6h0.90v14.6zM102.10 553.4v-28.9h0.90v28.9zM103.00 553.4v-33.1h0.90v33.1zM103.90 553.4v-38.2h0.90v38.2zM104.80 553.4v-22.6h0.90v22.6zM105.70 553.4v-37.3h0.90v37.3zM106.60 553.4v-45.3h0.90v45.3zM107.50 553.4v-46.0h0.90v46.0zM108.40 553.4v-44.0h0.90v44.0zM109.30 553.4v-48.2h0.90v48.2zM110.20 553.4v-35.6h0.90v35.6zM111.10 553.4v-28.5h0.90v28.5zM112.00 553.4v-29.0h0.90v29.0zM112.90 553.4v-27.9h0.90v27.9zM113.80 553.4v-19.0h0.90v19.0zM114.70 553.4v-20.8h0.90v20.8zM115.60 553.4v-12.4h0.90v12.4zM116.50 553.4v-12.2h0.90v12.2zM117.40 553.4v-18.8h0.90v18.8zM118.30 553.4v-11.1h0.90v11.1zM119.20 553.4v-12.4h0.90v12.4zM120.10 553.4v-14.4h0.90v14.4zM121.00 553.4v-13.3h0.90v13.3zM121.90 553.4v-5.9h0.90v5.9zM122.80 553.4v-10.8h0.90v10.8zM123.70 553.4v-10.0h0.90v10.0zM124.60 553.4v-9.4h0.90v9.4zM125.50 553.4v-7.2h0.90v7.2zM126.40 553.4v-6.1h0.90v6.1zM127.30 553.4v-6.2h0.90v6.2zM128.20 553.4v-4.4h0.90v4.4zM129.10 553.4v-5.3h0.90v5.3zM130.00 553.4v-4.7h0.90v4.7zM130.90 553.4v-3.9h0.90v3.9zM131.80 553.4v-3.5h0.90v3.5zM132.70 553.4v-2.2h0.90v2.2zM133.60 553.4v-1.0h0.90v1.0zM134.50 553.4v-1.7h0.90v1.7zM135.40 553.4v-1.0h0.90v1.0zM136.30 553.4v-1.0h0.90v1.0zM137.20 553.4v-0.9h0.90v0.9zM138.10 553.4v-0.7h0.90v0.7zM139.00 553.4v-0.5h0.90v0.5zM139.90 553.4v-0.5h0.90v0.5zM140.80 553.4v-0.6h0.90v0.6zM141.70 553.4v-0.4h0.90v0.4zM142.60 553.4v-0.4h0.90v0.4zM143.50 553.4v-0.5h0.90v0.5zM144.40 553.4v-0.4h0.90v0.4zM145.30 553.4v-0.4h0.90v0.4zM146.20 553.4v-0.3h0.90v0.3z" fill="#1f77b4" fill-opacity="0.36"/><path d="M94.00 553.4v-0.6h0.90v0.6zM94.90 553.4v-1.7h0.90v1.7zM95.80 553.4v-2.0h0.90v2.0zM96.70 553.4v-2.2h0.90v2.2zM97.60 553.4v-2.3h0.90v2.3zM98.50 553.4v-2.1h0.90v2.1zM99.40 553.4v-6.0h0.90v6.0zM100.30 553.4v-10.4h0.90v10.4zM101.20 553.4v-20.0h0.90v20.0zM102.10 553.4v-28.9h0.90v28.9zM103.00 553.4v-27.8h0.90v27.8zM103.90 553.4v-27.4h0.90v27.4zM104.80 553.4v-29.6h0.90v29.6zM105.70 553.4v-44.7h0.90v44.7zM106.60 553.4v-45.3h0.90v45.3zM107.50 553.4v-45.3h0.90v45.3zM108.40 553.4v-44.0h0.90v44.0zM109.30 553.4v-42.0h0.90v42.0zM110.20 553.4v-32.3h0.90v32.3zM111.10 553.4v-33.9h0.90v33.9zM112.00 553.4v-20.3h0.90v20.3zM112.90 553.4v-35.0h0.90v35.0zM113.80 553.4v-17.2h0.90v17.2zM114.70 553.4v-20.8h0.90v20.8zM115.60 553.4v-13.1h0.90v13.1zM116.50 553.4v-15.4h0.90v15.4zM117.40 553.4v-18.0h0.90v18.0zM118.30 553.4v-17.5h0.90v17.5zM119.20 553.4v-11.0h0.90v11.0zM120.10 553.4v-9.6h0.90v9.6zM121.00 553.4v-13.3h0.90v13.3zM121.90 553.4v-7.6h0.90v7.6zM122.80 553.4v-10.7h0.90v10.7zM123.70 553.4v-7.4h0.90v7.4zM124.60 553.4v-8.0h0.90v8.0zM125.50 553.4v-4.2h0.90v4.2zM126.40 553.4v-8.3h0.90v8.3zM127.30 553.4v-5.9h0.90v5.9zM128.20 553.4v-4.8h0.90v4.8zM129.10 553.4v-6.6h0.90v6.6zM130.00 553.4v-5.7h0.90v5.7zM130.90 553.4v-4.6h0.90v4.6zM131.80 553.4v-3.4h0.90v3.4zM132.70 553.4v-2.1h0.90v2.1zM133.60 553.4v-1.7h0.90v1.7zM134.50 553.4v-1.7h0.90v1.7zM135.40 553.4v-1.3h0.90v1.3zM136.30 553.4v-1.3h0.90v1.3zM137.20 553.4v-1.1h0.90v1.1zM138.10 553.4v-0.6h0.90v0.6zM139.00 553.4v-0.7h0.90v0.7zM139.90 553.4v-0.5h0.90v0.5zM140.80 553.4v-0.3h0.90v0.3zM141.70 553.4v-0.5h0.90v0.5zM142.60 553.4v-0.5h0.90v0.5zM143.50 553.4v-0.4h0.90v0.4zM144.40 553.4v-0.3h0.90v0.3zM146.20 553.4v-0.2h0.90v0.2z" fill="#ff7f0e" fill-opacity="0.5"/><text x="90.7" y="554.7" font-size="3.6" fill="#444" text-anchor="end">0</text><text x="90.7" y="543.7" font-size="3.6" fill="#444" text-anchor="end">10</text><text x="90.7" y="532.8" font-size="3.6" fill="#444" text-anchor="end">20</text><text x="90.7" y="521.8" font-size="3.6" fill="#444" text-anchor="end">30</text><text x="90.7" y="510.9" font-size="3.6" fill="#444" text-anchor="end">40</text><text x="113.5" y="558.6" font-size="3.8" fill="#444" text-anchor="middle">10</text><text x="135.6" y="558.6" font-size="3.8" fill="#444" text-anchor="middle">20</text><text x="122.5" y="500.9" font-size="5" fill="#111" text-anchor="middle" font-weight="bold">Gamma</text></svg></body></html>
